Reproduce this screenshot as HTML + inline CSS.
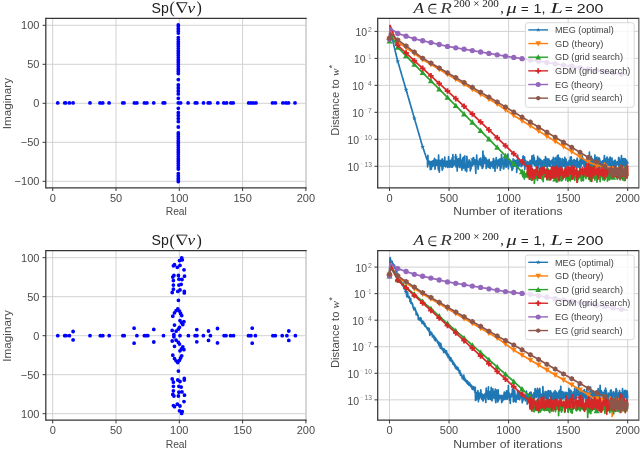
<!DOCTYPE html><html><head><meta charset="utf-8"><style>html,body{margin:0;padding:0;background:#fff;overflow:hidden;width:640px;height:449px}svg{display:block;will-change:transform}</style></head><body>
<svg width="640" height="449" viewBox="0 0 640 449">
<rect width="640" height="449" fill="#fff"/>
<line x1="52.7" y1="18.3" x2="52.7" y2="187.8" stroke="#d2d2d2" stroke-width="1" />
<line x1="116" y1="18.3" x2="116" y2="187.8" stroke="#d2d2d2" stroke-width="1" />
<line x1="179.3" y1="18.3" x2="179.3" y2="187.8" stroke="#d2d2d2" stroke-width="1" />
<line x1="242.6" y1="18.3" x2="242.6" y2="187.8" stroke="#d2d2d2" stroke-width="1" />
<line x1="45.8" y1="25.3" x2="306" y2="25.3" stroke="#d2d2d2" stroke-width="1" />
<line x1="45.8" y1="64.3" x2="306" y2="64.3" stroke="#d2d2d2" stroke-width="1" />
<line x1="45.8" y1="103.3" x2="306" y2="103.3" stroke="#d2d2d2" stroke-width="1" />
<line x1="45.8" y1="142.3" x2="306" y2="142.3" stroke="#d2d2d2" stroke-width="1" />
<line x1="45.8" y1="181.3" x2="306" y2="181.3" stroke="#d2d2d2" stroke-width="1" />
<path d="M55.85,102.9a1.9,1.9 0 1,0 3.8,0a1.9,1.9 0 1,0 -3.8,0M62.85,102.9a1.9,1.9 0 1,0 3.8,0a1.9,1.9 0 1,0 -3.8,0M63.7,102.9a1.9,1.9 0 1,0 3.8,0a1.9,1.9 0 1,0 -3.8,0M67.5,102.9a1.9,1.9 0 1,0 3.8,0a1.9,1.9 0 1,0 -3.8,0M71.2,102.9a1.9,1.9 0 1,0 3.8,0a1.9,1.9 0 1,0 -3.8,0M88.1,102.9a1.9,1.9 0 1,0 3.8,0a1.9,1.9 0 1,0 -3.8,0M98.1,102.9a1.9,1.9 0 1,0 3.8,0a1.9,1.9 0 1,0 -3.8,0M100.85,102.9a1.9,1.9 0 1,0 3.8,0a1.9,1.9 0 1,0 -3.8,0M107.2,102.9a1.9,1.9 0 1,0 3.8,0a1.9,1.9 0 1,0 -3.8,0M120.9,102.9a1.9,1.9 0 1,0 3.8,0a1.9,1.9 0 1,0 -3.8,0M122.1,102.9a1.9,1.9 0 1,0 3.8,0a1.9,1.9 0 1,0 -3.8,0M132.5,102.9a1.9,1.9 0 1,0 3.8,0a1.9,1.9 0 1,0 -3.8,0M135,102.9a1.9,1.9 0 1,0 3.8,0a1.9,1.9 0 1,0 -3.8,0M142.5,102.9a1.9,1.9 0 1,0 3.8,0a1.9,1.9 0 1,0 -3.8,0M145,102.9a1.9,1.9 0 1,0 3.8,0a1.9,1.9 0 1,0 -3.8,0M151.85,102.9a1.9,1.9 0 1,0 3.8,0a1.9,1.9 0 1,0 -3.8,0M161.2,102.9a1.9,1.9 0 1,0 3.8,0a1.9,1.9 0 1,0 -3.8,0M162.85,102.9a1.9,1.9 0 1,0 3.8,0a1.9,1.9 0 1,0 -3.8,0M176.4,102.9a1.9,1.9 0 1,0 3.8,0a1.9,1.9 0 1,0 -3.8,0M178.7,102.9a1.9,1.9 0 1,0 3.8,0a1.9,1.9 0 1,0 -3.8,0M186.2,102.9a1.9,1.9 0 1,0 3.8,0a1.9,1.9 0 1,0 -3.8,0M193.35,102.9a1.9,1.9 0 1,0 3.8,0a1.9,1.9 0 1,0 -3.8,0M195,102.9a1.9,1.9 0 1,0 3.8,0a1.9,1.9 0 1,0 -3.8,0M201.6,102.9a1.9,1.9 0 1,0 3.8,0a1.9,1.9 0 1,0 -3.8,0M206.3,102.9a1.9,1.9 0 1,0 3.8,0a1.9,1.9 0 1,0 -3.8,0M208.1,102.9a1.9,1.9 0 1,0 3.8,0a1.9,1.9 0 1,0 -3.8,0M215.9,102.9a1.9,1.9 0 1,0 3.8,0a1.9,1.9 0 1,0 -3.8,0M221.9,102.9a1.9,1.9 0 1,0 3.8,0a1.9,1.9 0 1,0 -3.8,0M224.7,102.9a1.9,1.9 0 1,0 3.8,0a1.9,1.9 0 1,0 -3.8,0M229,102.9a1.9,1.9 0 1,0 3.8,0a1.9,1.9 0 1,0 -3.8,0M231.3,102.9a1.9,1.9 0 1,0 3.8,0a1.9,1.9 0 1,0 -3.8,0M246.8,102.9a1.9,1.9 0 1,0 3.8,0a1.9,1.9 0 1,0 -3.8,0M249.1,102.9a1.9,1.9 0 1,0 3.8,0a1.9,1.9 0 1,0 -3.8,0M251.3,102.9a1.9,1.9 0 1,0 3.8,0a1.9,1.9 0 1,0 -3.8,0M254.1,102.9a1.9,1.9 0 1,0 3.8,0a1.9,1.9 0 1,0 -3.8,0M270.6,102.9a1.9,1.9 0 1,0 3.8,0a1.9,1.9 0 1,0 -3.8,0M273.5,102.9a1.9,1.9 0 1,0 3.8,0a1.9,1.9 0 1,0 -3.8,0M281,102.9a1.9,1.9 0 1,0 3.8,0a1.9,1.9 0 1,0 -3.8,0M284.1,102.9a1.9,1.9 0 1,0 3.8,0a1.9,1.9 0 1,0 -3.8,0M286.6,102.9a1.9,1.9 0 1,0 3.8,0a1.9,1.9 0 1,0 -3.8,0M293.1,102.9a1.9,1.9 0 1,0 3.8,0a1.9,1.9 0 1,0 -3.8,0M176.4,25a1.9,1.9 0 1,0 3.8,0a1.9,1.9 0 1,0 -3.8,0M176.4,26.6a1.9,1.9 0 1,0 3.8,0a1.9,1.9 0 1,0 -3.8,0M176.4,28.2a1.9,1.9 0 1,0 3.8,0a1.9,1.9 0 1,0 -3.8,0M176.4,29.8a1.9,1.9 0 1,0 3.8,0a1.9,1.9 0 1,0 -3.8,0M176.4,31.4a1.9,1.9 0 1,0 3.8,0a1.9,1.9 0 1,0 -3.8,0M176.4,33a1.9,1.9 0 1,0 3.8,0a1.9,1.9 0 1,0 -3.8,0M176.4,37.6a1.9,1.9 0 1,0 3.8,0a1.9,1.9 0 1,0 -3.8,0M176.4,39.4a1.9,1.9 0 1,0 3.8,0a1.9,1.9 0 1,0 -3.8,0M176.4,41.2a1.9,1.9 0 1,0 3.8,0a1.9,1.9 0 1,0 -3.8,0M176.4,43a1.9,1.9 0 1,0 3.8,0a1.9,1.9 0 1,0 -3.8,0M176.4,44.8a1.9,1.9 0 1,0 3.8,0a1.9,1.9 0 1,0 -3.8,0M176.4,46.6a1.9,1.9 0 1,0 3.8,0a1.9,1.9 0 1,0 -3.8,0M176.4,48.4a1.9,1.9 0 1,0 3.8,0a1.9,1.9 0 1,0 -3.8,0M176.4,50.2a1.9,1.9 0 1,0 3.8,0a1.9,1.9 0 1,0 -3.8,0M176.4,52a1.9,1.9 0 1,0 3.8,0a1.9,1.9 0 1,0 -3.8,0M176.4,53.8a1.9,1.9 0 1,0 3.8,0a1.9,1.9 0 1,0 -3.8,0M176.4,55.6a1.9,1.9 0 1,0 3.8,0a1.9,1.9 0 1,0 -3.8,0M176.4,57.4a1.9,1.9 0 1,0 3.8,0a1.9,1.9 0 1,0 -3.8,0M176.4,59.2a1.9,1.9 0 1,0 3.8,0a1.9,1.9 0 1,0 -3.8,0M176.4,61a1.9,1.9 0 1,0 3.8,0a1.9,1.9 0 1,0 -3.8,0M176.4,62.8a1.9,1.9 0 1,0 3.8,0a1.9,1.9 0 1,0 -3.8,0M176.4,64.6a1.9,1.9 0 1,0 3.8,0a1.9,1.9 0 1,0 -3.8,0M176.4,66.4a1.9,1.9 0 1,0 3.8,0a1.9,1.9 0 1,0 -3.8,0M176.4,68.2a1.9,1.9 0 1,0 3.8,0a1.9,1.9 0 1,0 -3.8,0M176.4,70a1.9,1.9 0 1,0 3.8,0a1.9,1.9 0 1,0 -3.8,0M176.4,71.8a1.9,1.9 0 1,0 3.8,0a1.9,1.9 0 1,0 -3.8,0M176.4,73.6a1.9,1.9 0 1,0 3.8,0a1.9,1.9 0 1,0 -3.8,0M176.4,79.6a1.9,1.9 0 1,0 3.8,0a1.9,1.9 0 1,0 -3.8,0M176.4,85a1.9,1.9 0 1,0 3.8,0a1.9,1.9 0 1,0 -3.8,0M176.4,88a1.9,1.9 0 1,0 3.8,0a1.9,1.9 0 1,0 -3.8,0M176.4,91a1.9,1.9 0 1,0 3.8,0a1.9,1.9 0 1,0 -3.8,0M176.4,93.9a1.9,1.9 0 1,0 3.8,0a1.9,1.9 0 1,0 -3.8,0M176.4,98.3a1.9,1.9 0 1,0 3.8,0a1.9,1.9 0 1,0 -3.8,0M176.4,181.6a1.9,1.9 0 1,0 3.8,0a1.9,1.9 0 1,0 -3.8,0M176.4,180a1.9,1.9 0 1,0 3.8,0a1.9,1.9 0 1,0 -3.8,0M176.4,178.4a1.9,1.9 0 1,0 3.8,0a1.9,1.9 0 1,0 -3.8,0M176.4,176.8a1.9,1.9 0 1,0 3.8,0a1.9,1.9 0 1,0 -3.8,0M176.4,175.2a1.9,1.9 0 1,0 3.8,0a1.9,1.9 0 1,0 -3.8,0M176.4,173.6a1.9,1.9 0 1,0 3.8,0a1.9,1.9 0 1,0 -3.8,0M176.4,169a1.9,1.9 0 1,0 3.8,0a1.9,1.9 0 1,0 -3.8,0M176.4,167.2a1.9,1.9 0 1,0 3.8,0a1.9,1.9 0 1,0 -3.8,0M176.4,165.4a1.9,1.9 0 1,0 3.8,0a1.9,1.9 0 1,0 -3.8,0M176.4,163.6a1.9,1.9 0 1,0 3.8,0a1.9,1.9 0 1,0 -3.8,0M176.4,161.8a1.9,1.9 0 1,0 3.8,0a1.9,1.9 0 1,0 -3.8,0M176.4,160a1.9,1.9 0 1,0 3.8,0a1.9,1.9 0 1,0 -3.8,0M176.4,158.2a1.9,1.9 0 1,0 3.8,0a1.9,1.9 0 1,0 -3.8,0M176.4,156.4a1.9,1.9 0 1,0 3.8,0a1.9,1.9 0 1,0 -3.8,0M176.4,154.6a1.9,1.9 0 1,0 3.8,0a1.9,1.9 0 1,0 -3.8,0M176.4,152.8a1.9,1.9 0 1,0 3.8,0a1.9,1.9 0 1,0 -3.8,0M176.4,151a1.9,1.9 0 1,0 3.8,0a1.9,1.9 0 1,0 -3.8,0M176.4,149.2a1.9,1.9 0 1,0 3.8,0a1.9,1.9 0 1,0 -3.8,0M176.4,147.4a1.9,1.9 0 1,0 3.8,0a1.9,1.9 0 1,0 -3.8,0M176.4,145.6a1.9,1.9 0 1,0 3.8,0a1.9,1.9 0 1,0 -3.8,0M176.4,143.8a1.9,1.9 0 1,0 3.8,0a1.9,1.9 0 1,0 -3.8,0M176.4,142a1.9,1.9 0 1,0 3.8,0a1.9,1.9 0 1,0 -3.8,0M176.4,140.2a1.9,1.9 0 1,0 3.8,0a1.9,1.9 0 1,0 -3.8,0M176.4,138.4a1.9,1.9 0 1,0 3.8,0a1.9,1.9 0 1,0 -3.8,0M176.4,136.6a1.9,1.9 0 1,0 3.8,0a1.9,1.9 0 1,0 -3.8,0M176.4,134.8a1.9,1.9 0 1,0 3.8,0a1.9,1.9 0 1,0 -3.8,0M176.4,133a1.9,1.9 0 1,0 3.8,0a1.9,1.9 0 1,0 -3.8,0M176.4,127a1.9,1.9 0 1,0 3.8,0a1.9,1.9 0 1,0 -3.8,0M176.4,121.6a1.9,1.9 0 1,0 3.8,0a1.9,1.9 0 1,0 -3.8,0M176.4,118.6a1.9,1.9 0 1,0 3.8,0a1.9,1.9 0 1,0 -3.8,0M176.4,115.6a1.9,1.9 0 1,0 3.8,0a1.9,1.9 0 1,0 -3.8,0M176.4,112.7a1.9,1.9 0 1,0 3.8,0a1.9,1.9 0 1,0 -3.8,0M176.4,108.3a1.9,1.9 0 1,0 3.8,0a1.9,1.9 0 1,0 -3.8,0" fill="#0000ff"/>
<line x1="306" y1="18.3" x2="306" y2="187.8" stroke="#cfcfcf" stroke-width="1.7" />
<line x1="45.8" y1="18.3" x2="306.7" y2="18.3" stroke="#363636" stroke-width="1.25" />
<line x1="45.8" y1="187.8" x2="306.7" y2="187.8" stroke="#363636" stroke-width="1.25" />
<line x1="45.8" y1="17.7" x2="45.8" y2="188.4" stroke="#363636" stroke-width="1.25" />
<line x1="52.7" y1="187.8" x2="52.7" y2="191" stroke="#363636" stroke-width="1" />
<line x1="116" y1="187.8" x2="116" y2="191" stroke="#363636" stroke-width="1" />
<line x1="179.3" y1="187.8" x2="179.3" y2="191" stroke="#363636" stroke-width="1" />
<line x1="242.6" y1="187.8" x2="242.6" y2="191" stroke="#363636" stroke-width="1" />
<line x1="305.9" y1="187.8" x2="305.9" y2="191" stroke="#363636" stroke-width="1" />
<line x1="42.6" y1="25.3" x2="45.8" y2="25.3" stroke="#363636" stroke-width="1" />
<line x1="42.6" y1="64.3" x2="45.8" y2="64.3" stroke="#363636" stroke-width="1" />
<line x1="42.6" y1="103.3" x2="45.8" y2="103.3" stroke="#363636" stroke-width="1" />
<line x1="42.6" y1="142.3" x2="45.8" y2="142.3" stroke="#363636" stroke-width="1" />
<line x1="42.6" y1="181.3" x2="45.8" y2="181.3" stroke="#363636" stroke-width="1" />
<text x="52.7" y="201.6" font-size="11" font-family="Liberation Sans" font-style="normal" text-anchor="middle" fill="#4a4a4a" >0</text>
<text x="116" y="201.6" font-size="11" font-family="Liberation Sans" font-style="normal" text-anchor="middle" fill="#4a4a4a" >50</text>
<text x="179.3" y="201.6" font-size="11" font-family="Liberation Sans" font-style="normal" text-anchor="middle" fill="#4a4a4a" >100</text>
<text x="242.6" y="201.6" font-size="11" font-family="Liberation Sans" font-style="normal" text-anchor="middle" fill="#4a4a4a" >150</text>
<text x="305.9" y="201.6" font-size="11" font-family="Liberation Sans" font-style="normal" text-anchor="middle" fill="#4a4a4a" >200</text>
<text x="39.4" y="29.3" font-size="11" font-family="Liberation Sans" font-style="normal" text-anchor="end" fill="#4a4a4a" >100</text>
<text x="39.4" y="68.3" font-size="11" font-family="Liberation Sans" font-style="normal" text-anchor="end" fill="#4a4a4a" >50</text>
<text x="39.4" y="107.3" font-size="11" font-family="Liberation Sans" font-style="normal" text-anchor="end" fill="#4a4a4a" >0</text>
<text x="39.4" y="146.3" font-size="11" font-family="Liberation Sans" font-style="normal" text-anchor="end" fill="#4a4a4a" >−50</text>
<text x="39.4" y="185.3" font-size="11" font-family="Liberation Sans" font-style="normal" text-anchor="end" fill="#4a4a4a" >−100</text>
<text x="176.3" y="215.2" font-size="11" font-family="Liberation Sans" font-style="normal" text-anchor="middle" fill="#4a4a4a" textLength="21.2" lengthAdjust="spacingAndGlyphs" >Real</text>
<text transform="translate(11.2,103.6) rotate(-90)" font-size="11.3" font-family="Liberation Sans" text-anchor="middle" fill="#4a4a4a" textLength="51.5" lengthAdjust="spacingAndGlyphs">Imaginary</text>
<text x="151.5" y="12.7" font-size="14.6" font-family="Liberation Sans" font-style="normal" text-anchor="start" fill="#202020" textLength="17.3" lengthAdjust="spacingAndGlyphs" >Sp</text>
<text x="169.6" y="13.4" font-size="16" font-family="Liberation Serif" font-style="normal" text-anchor="start" fill="#202020" >(</text>
<path d="M176.6,2.7 L187.3,2.7" stroke="#202020" stroke-width="0.9"/>
<path d="M187.0,2.7 L182.1,12.5" stroke="#202020" stroke-width="0.8"/>
<path d="M176.8,2.7 L182.3,12.5" stroke="#202020" stroke-width="1.6"/>
<text x="187.6" y="12.7" font-size="15" font-family="Liberation Serif" font-style="italic" text-anchor="start" fill="#202020" textLength="7.6" lengthAdjust="spacingAndGlyphs" >v</text>
<text x="196.6" y="13.4" font-size="16" font-family="Liberation Serif" font-style="normal" text-anchor="start" fill="#202020" >)</text>
<line x1="52.7" y1="250.7" x2="52.7" y2="420.2" stroke="#d2d2d2" stroke-width="1" />
<line x1="116" y1="250.7" x2="116" y2="420.2" stroke="#d2d2d2" stroke-width="1" />
<line x1="179.3" y1="250.7" x2="179.3" y2="420.2" stroke="#d2d2d2" stroke-width="1" />
<line x1="242.6" y1="250.7" x2="242.6" y2="420.2" stroke="#d2d2d2" stroke-width="1" />
<line x1="45.8" y1="257.7" x2="306" y2="257.7" stroke="#d2d2d2" stroke-width="1" />
<line x1="45.8" y1="296.7" x2="306" y2="296.7" stroke="#d2d2d2" stroke-width="1" />
<line x1="45.8" y1="335.7" x2="306" y2="335.7" stroke="#d2d2d2" stroke-width="1" />
<line x1="45.8" y1="374.7" x2="306" y2="374.7" stroke="#d2d2d2" stroke-width="1" />
<line x1="45.8" y1="413.7" x2="306" y2="413.7" stroke="#d2d2d2" stroke-width="1" />
<path d="M55.9,335.7a1.9,1.9 0 1,0 3.8,0a1.9,1.9 0 1,0 -3.8,0M62.8,335.7a1.9,1.9 0 1,0 3.8,0a1.9,1.9 0 1,0 -3.8,0M64.1,335.7a1.9,1.9 0 1,0 3.8,0a1.9,1.9 0 1,0 -3.8,0M67.5,335.7a1.9,1.9 0 1,0 3.8,0a1.9,1.9 0 1,0 -3.8,0M88.1,335.7a1.9,1.9 0 1,0 3.8,0a1.9,1.9 0 1,0 -3.8,0M98.4,335.7a1.9,1.9 0 1,0 3.8,0a1.9,1.9 0 1,0 -3.8,0M100.9,335.7a1.9,1.9 0 1,0 3.8,0a1.9,1.9 0 1,0 -3.8,0M107.3,335.7a1.9,1.9 0 1,0 3.8,0a1.9,1.9 0 1,0 -3.8,0M121,335.7a1.9,1.9 0 1,0 3.8,0a1.9,1.9 0 1,0 -3.8,0M122.3,335.7a1.9,1.9 0 1,0 3.8,0a1.9,1.9 0 1,0 -3.8,0M135,335.7a1.9,1.9 0 1,0 3.8,0a1.9,1.9 0 1,0 -3.8,0M142.5,335.7a1.9,1.9 0 1,0 3.8,0a1.9,1.9 0 1,0 -3.8,0M144.4,335.7a1.9,1.9 0 1,0 3.8,0a1.9,1.9 0 1,0 -3.8,0M145.9,335.7a1.9,1.9 0 1,0 3.8,0a1.9,1.9 0 1,0 -3.8,0M161.6,335.7a1.9,1.9 0 1,0 3.8,0a1.9,1.9 0 1,0 -3.8,0M172,335.7a1.9,1.9 0 1,0 3.8,0a1.9,1.9 0 1,0 -3.8,0M178.1,335.7a1.9,1.9 0 1,0 3.8,0a1.9,1.9 0 1,0 -3.8,0M186.5,335.7a1.9,1.9 0 1,0 3.8,0a1.9,1.9 0 1,0 -3.8,0M193.2,335.7a1.9,1.9 0 1,0 3.8,0a1.9,1.9 0 1,0 -3.8,0M195,335.7a1.9,1.9 0 1,0 3.8,0a1.9,1.9 0 1,0 -3.8,0M201.5,335.7a1.9,1.9 0 1,0 3.8,0a1.9,1.9 0 1,0 -3.8,0M208.5,335.7a1.9,1.9 0 1,0 3.8,0a1.9,1.9 0 1,0 -3.8,0M222.2,335.7a1.9,1.9 0 1,0 3.8,0a1.9,1.9 0 1,0 -3.8,0M224.1,335.7a1.9,1.9 0 1,0 3.8,0a1.9,1.9 0 1,0 -3.8,0M228.7,335.7a1.9,1.9 0 1,0 3.8,0a1.9,1.9 0 1,0 -3.8,0M231.6,335.7a1.9,1.9 0 1,0 3.8,0a1.9,1.9 0 1,0 -3.8,0M246.6,335.7a1.9,1.9 0 1,0 3.8,0a1.9,1.9 0 1,0 -3.8,0M249,335.7a1.9,1.9 0 1,0 3.8,0a1.9,1.9 0 1,0 -3.8,0M253.5,335.7a1.9,1.9 0 1,0 3.8,0a1.9,1.9 0 1,0 -3.8,0M271,335.7a1.9,1.9 0 1,0 3.8,0a1.9,1.9 0 1,0 -3.8,0M273.4,335.7a1.9,1.9 0 1,0 3.8,0a1.9,1.9 0 1,0 -3.8,0M280.3,335.7a1.9,1.9 0 1,0 3.8,0a1.9,1.9 0 1,0 -3.8,0M285,335.7a1.9,1.9 0 1,0 3.8,0a1.9,1.9 0 1,0 -3.8,0M293.5,335.7a1.9,1.9 0 1,0 3.8,0a1.9,1.9 0 1,0 -3.8,0M71.2,331.5a1.9,1.9 0 1,0 3.8,0a1.9,1.9 0 1,0 -3.8,0M71.2,339.9a1.9,1.9 0 1,0 3.8,0a1.9,1.9 0 1,0 -3.8,0M132.2,328.2a1.9,1.9 0 1,0 3.8,0a1.9,1.9 0 1,0 -3.8,0M132.2,343.2a1.9,1.9 0 1,0 3.8,0a1.9,1.9 0 1,0 -3.8,0M151.9,329.4a1.9,1.9 0 1,0 3.8,0a1.9,1.9 0 1,0 -3.8,0M151.9,342a1.9,1.9 0 1,0 3.8,0a1.9,1.9 0 1,0 -3.8,0M194.9,329.6a1.9,1.9 0 1,0 3.8,0a1.9,1.9 0 1,0 -3.8,0M194.9,341.8a1.9,1.9 0 1,0 3.8,0a1.9,1.9 0 1,0 -3.8,0M206.6,331a1.9,1.9 0 1,0 3.8,0a1.9,1.9 0 1,0 -3.8,0M206.6,340.4a1.9,1.9 0 1,0 3.8,0a1.9,1.9 0 1,0 -3.8,0M215.6,328.5a1.9,1.9 0 1,0 3.8,0a1.9,1.9 0 1,0 -3.8,0M215.6,342.9a1.9,1.9 0 1,0 3.8,0a1.9,1.9 0 1,0 -3.8,0M250.3,328.2a1.9,1.9 0 1,0 3.8,0a1.9,1.9 0 1,0 -3.8,0M250.3,343.2a1.9,1.9 0 1,0 3.8,0a1.9,1.9 0 1,0 -3.8,0M286.9,331a1.9,1.9 0 1,0 3.8,0a1.9,1.9 0 1,0 -3.8,0M286.9,340.4a1.9,1.9 0 1,0 3.8,0a1.9,1.9 0 1,0 -3.8,0M179.8,258a1.9,1.9 0 1,0 3.8,0a1.9,1.9 0 1,0 -3.8,0M179.8,413.4a1.9,1.9 0 1,0 3.8,0a1.9,1.9 0 1,0 -3.8,0M180.4,259.8a1.9,1.9 0 1,0 3.8,0a1.9,1.9 0 1,0 -3.8,0M180.4,411.6a1.9,1.9 0 1,0 3.8,0a1.9,1.9 0 1,0 -3.8,0M177.6,260.6a1.9,1.9 0 1,0 3.8,0a1.9,1.9 0 1,0 -3.8,0M177.6,410.8a1.9,1.9 0 1,0 3.8,0a1.9,1.9 0 1,0 -3.8,0M172.6,264.7a1.9,1.9 0 1,0 3.8,0a1.9,1.9 0 1,0 -3.8,0M172.6,406.7a1.9,1.9 0 1,0 3.8,0a1.9,1.9 0 1,0 -3.8,0M171.5,265.8a1.9,1.9 0 1,0 3.8,0a1.9,1.9 0 1,0 -3.8,0M171.5,405.6a1.9,1.9 0 1,0 3.8,0a1.9,1.9 0 1,0 -3.8,0M178.1,265.4a1.9,1.9 0 1,0 3.8,0a1.9,1.9 0 1,0 -3.8,0M178.1,406a1.9,1.9 0 1,0 3.8,0a1.9,1.9 0 1,0 -3.8,0M175.4,267.3a1.9,1.9 0 1,0 3.8,0a1.9,1.9 0 1,0 -3.8,0M175.4,404.1a1.9,1.9 0 1,0 3.8,0a1.9,1.9 0 1,0 -3.8,0M182.1,269.8a1.9,1.9 0 1,0 3.8,0a1.9,1.9 0 1,0 -3.8,0M182.1,401.6a1.9,1.9 0 1,0 3.8,0a1.9,1.9 0 1,0 -3.8,0M172,275.4a1.9,1.9 0 1,0 3.8,0a1.9,1.9 0 1,0 -3.8,0M172,396a1.9,1.9 0 1,0 3.8,0a1.9,1.9 0 1,0 -3.8,0M170.9,277a1.9,1.9 0 1,0 3.8,0a1.9,1.9 0 1,0 -3.8,0M170.9,394.4a1.9,1.9 0 1,0 3.8,0a1.9,1.9 0 1,0 -3.8,0M176.5,275.4a1.9,1.9 0 1,0 3.8,0a1.9,1.9 0 1,0 -3.8,0M176.5,396a1.9,1.9 0 1,0 3.8,0a1.9,1.9 0 1,0 -3.8,0M182.6,276.2a1.9,1.9 0 1,0 3.8,0a1.9,1.9 0 1,0 -3.8,0M182.6,395.2a1.9,1.9 0 1,0 3.8,0a1.9,1.9 0 1,0 -3.8,0M177,279.2a1.9,1.9 0 1,0 3.8,0a1.9,1.9 0 1,0 -3.8,0M177,392.2a1.9,1.9 0 1,0 3.8,0a1.9,1.9 0 1,0 -3.8,0M180.1,279.5a1.9,1.9 0 1,0 3.8,0a1.9,1.9 0 1,0 -3.8,0M180.1,391.9a1.9,1.9 0 1,0 3.8,0a1.9,1.9 0 1,0 -3.8,0M171.5,280.6a1.9,1.9 0 1,0 3.8,0a1.9,1.9 0 1,0 -3.8,0M171.5,390.8a1.9,1.9 0 1,0 3.8,0a1.9,1.9 0 1,0 -3.8,0M171.5,285.1a1.9,1.9 0 1,0 3.8,0a1.9,1.9 0 1,0 -3.8,0M171.5,386.3a1.9,1.9 0 1,0 3.8,0a1.9,1.9 0 1,0 -3.8,0M177,285.1a1.9,1.9 0 1,0 3.8,0a1.9,1.9 0 1,0 -3.8,0M177,386.3a1.9,1.9 0 1,0 3.8,0a1.9,1.9 0 1,0 -3.8,0M179.3,284.3a1.9,1.9 0 1,0 3.8,0a1.9,1.9 0 1,0 -3.8,0M179.3,387.1a1.9,1.9 0 1,0 3.8,0a1.9,1.9 0 1,0 -3.8,0M171.5,289.2a1.9,1.9 0 1,0 3.8,0a1.9,1.9 0 1,0 -3.8,0M171.5,382.2a1.9,1.9 0 1,0 3.8,0a1.9,1.9 0 1,0 -3.8,0M170.3,292.5a1.9,1.9 0 1,0 3.8,0a1.9,1.9 0 1,0 -3.8,0M170.3,378.9a1.9,1.9 0 1,0 3.8,0a1.9,1.9 0 1,0 -3.8,0M175.9,291.4a1.9,1.9 0 1,0 3.8,0a1.9,1.9 0 1,0 -3.8,0M175.9,380a1.9,1.9 0 1,0 3.8,0a1.9,1.9 0 1,0 -3.8,0M178.1,289.9a1.9,1.9 0 1,0 3.8,0a1.9,1.9 0 1,0 -3.8,0M178.1,381.5a1.9,1.9 0 1,0 3.8,0a1.9,1.9 0 1,0 -3.8,0M182.4,291.4a1.9,1.9 0 1,0 3.8,0a1.9,1.9 0 1,0 -3.8,0M182.4,380a1.9,1.9 0 1,0 3.8,0a1.9,1.9 0 1,0 -3.8,0M182.4,292.9a1.9,1.9 0 1,0 3.8,0a1.9,1.9 0 1,0 -3.8,0M182.4,378.5a1.9,1.9 0 1,0 3.8,0a1.9,1.9 0 1,0 -3.8,0M176.5,300.3a1.9,1.9 0 1,0 3.8,0a1.9,1.9 0 1,0 -3.8,0M176.5,371.1a1.9,1.9 0 1,0 3.8,0a1.9,1.9 0 1,0 -3.8,0M175.9,308.9a1.9,1.9 0 1,0 3.8,0a1.9,1.9 0 1,0 -3.8,0M175.9,362.5a1.9,1.9 0 1,0 3.8,0a1.9,1.9 0 1,0 -3.8,0M174.2,310.6a1.9,1.9 0 1,0 3.8,0a1.9,1.9 0 1,0 -3.8,0M174.2,360.8a1.9,1.9 0 1,0 3.8,0a1.9,1.9 0 1,0 -3.8,0M177.6,311.1a1.9,1.9 0 1,0 3.8,0a1.9,1.9 0 1,0 -3.8,0M177.6,360.3a1.9,1.9 0 1,0 3.8,0a1.9,1.9 0 1,0 -3.8,0M172.6,312.8a1.9,1.9 0 1,0 3.8,0a1.9,1.9 0 1,0 -3.8,0M172.6,358.6a1.9,1.9 0 1,0 3.8,0a1.9,1.9 0 1,0 -3.8,0M178.7,313.4a1.9,1.9 0 1,0 3.8,0a1.9,1.9 0 1,0 -3.8,0M178.7,358a1.9,1.9 0 1,0 3.8,0a1.9,1.9 0 1,0 -3.8,0M179.8,315.6a1.9,1.9 0 1,0 3.8,0a1.9,1.9 0 1,0 -3.8,0M179.8,355.8a1.9,1.9 0 1,0 3.8,0a1.9,1.9 0 1,0 -3.8,0M170.9,316.2a1.9,1.9 0 1,0 3.8,0a1.9,1.9 0 1,0 -3.8,0M170.9,355.2a1.9,1.9 0 1,0 3.8,0a1.9,1.9 0 1,0 -3.8,0M178.1,320.6a1.9,1.9 0 1,0 3.8,0a1.9,1.9 0 1,0 -3.8,0M178.1,350.8a1.9,1.9 0 1,0 3.8,0a1.9,1.9 0 1,0 -3.8,0M182,321.7a1.9,1.9 0 1,0 3.8,0a1.9,1.9 0 1,0 -3.8,0M182,349.7a1.9,1.9 0 1,0 3.8,0a1.9,1.9 0 1,0 -3.8,0M179.8,322.8a1.9,1.9 0 1,0 3.8,0a1.9,1.9 0 1,0 -3.8,0M179.8,348.6a1.9,1.9 0 1,0 3.8,0a1.9,1.9 0 1,0 -3.8,0M180.9,324.5a1.9,1.9 0 1,0 3.8,0a1.9,1.9 0 1,0 -3.8,0M180.9,346.9a1.9,1.9 0 1,0 3.8,0a1.9,1.9 0 1,0 -3.8,0M172.6,325.1a1.9,1.9 0 1,0 3.8,0a1.9,1.9 0 1,0 -3.8,0M172.6,346.3a1.9,1.9 0 1,0 3.8,0a1.9,1.9 0 1,0 -3.8,0M177.6,327.3a1.9,1.9 0 1,0 3.8,0a1.9,1.9 0 1,0 -3.8,0M177.6,344.1a1.9,1.9 0 1,0 3.8,0a1.9,1.9 0 1,0 -3.8,0M176.5,329a1.9,1.9 0 1,0 3.8,0a1.9,1.9 0 1,0 -3.8,0M176.5,342.4a1.9,1.9 0 1,0 3.8,0a1.9,1.9 0 1,0 -3.8,0M170.3,330.4a1.9,1.9 0 1,0 3.8,0a1.9,1.9 0 1,0 -3.8,0M170.3,341a1.9,1.9 0 1,0 3.8,0a1.9,1.9 0 1,0 -3.8,0M174.2,331.2a1.9,1.9 0 1,0 3.8,0a1.9,1.9 0 1,0 -3.8,0M174.2,340.2a1.9,1.9 0 1,0 3.8,0a1.9,1.9 0 1,0 -3.8,0M172,334.6a1.9,1.9 0 1,0 3.8,0a1.9,1.9 0 1,0 -3.8,0M172,336.8a1.9,1.9 0 1,0 3.8,0a1.9,1.9 0 1,0 -3.8,0" fill="#0000ff"/>
<line x1="306" y1="250.7" x2="306" y2="420.2" stroke="#cfcfcf" stroke-width="1.7" />
<line x1="45.8" y1="250.7" x2="306.7" y2="250.7" stroke="#363636" stroke-width="1.25" />
<line x1="45.8" y1="420.2" x2="306.7" y2="420.2" stroke="#363636" stroke-width="1.25" />
<line x1="45.8" y1="250.1" x2="45.8" y2="420.8" stroke="#363636" stroke-width="1.25" />
<line x1="52.7" y1="420.2" x2="52.7" y2="423.4" stroke="#363636" stroke-width="1" />
<line x1="116" y1="420.2" x2="116" y2="423.4" stroke="#363636" stroke-width="1" />
<line x1="179.3" y1="420.2" x2="179.3" y2="423.4" stroke="#363636" stroke-width="1" />
<line x1="242.6" y1="420.2" x2="242.6" y2="423.4" stroke="#363636" stroke-width="1" />
<line x1="305.9" y1="420.2" x2="305.9" y2="423.4" stroke="#363636" stroke-width="1" />
<line x1="42.6" y1="257.7" x2="45.8" y2="257.7" stroke="#363636" stroke-width="1" />
<line x1="42.6" y1="296.7" x2="45.8" y2="296.7" stroke="#363636" stroke-width="1" />
<line x1="42.6" y1="335.7" x2="45.8" y2="335.7" stroke="#363636" stroke-width="1" />
<line x1="42.6" y1="374.7" x2="45.8" y2="374.7" stroke="#363636" stroke-width="1" />
<line x1="42.6" y1="413.7" x2="45.8" y2="413.7" stroke="#363636" stroke-width="1" />
<text x="52.7" y="434" font-size="11" font-family="Liberation Sans" font-style="normal" text-anchor="middle" fill="#4a4a4a" >0</text>
<text x="116" y="434" font-size="11" font-family="Liberation Sans" font-style="normal" text-anchor="middle" fill="#4a4a4a" >50</text>
<text x="179.3" y="434" font-size="11" font-family="Liberation Sans" font-style="normal" text-anchor="middle" fill="#4a4a4a" >100</text>
<text x="242.6" y="434" font-size="11" font-family="Liberation Sans" font-style="normal" text-anchor="middle" fill="#4a4a4a" >150</text>
<text x="305.9" y="434" font-size="11" font-family="Liberation Sans" font-style="normal" text-anchor="middle" fill="#4a4a4a" >200</text>
<text x="39.4" y="261.7" font-size="11" font-family="Liberation Sans" font-style="normal" text-anchor="end" fill="#4a4a4a" >100</text>
<text x="39.4" y="300.7" font-size="11" font-family="Liberation Sans" font-style="normal" text-anchor="end" fill="#4a4a4a" >50</text>
<text x="39.4" y="339.7" font-size="11" font-family="Liberation Sans" font-style="normal" text-anchor="end" fill="#4a4a4a" >0</text>
<text x="39.4" y="378.7" font-size="11" font-family="Liberation Sans" font-style="normal" text-anchor="end" fill="#4a4a4a" >−50</text>
<text x="39.4" y="417.7" font-size="11" font-family="Liberation Sans" font-style="normal" text-anchor="end" fill="#4a4a4a" >100</text>
<text x="176.3" y="447.6" font-size="11" font-family="Liberation Sans" font-style="normal" text-anchor="middle" fill="#4a4a4a" textLength="21.2" lengthAdjust="spacingAndGlyphs" >Real</text>
<text transform="translate(11.2,336) rotate(-90)" font-size="11.3" font-family="Liberation Sans" text-anchor="middle" fill="#4a4a4a" textLength="51.5" lengthAdjust="spacingAndGlyphs">Imaginary</text>
<text x="151.5" y="245.1" font-size="14.6" font-family="Liberation Sans" font-style="normal" text-anchor="start" fill="#202020" textLength="17.3" lengthAdjust="spacingAndGlyphs" >Sp</text>
<text x="169.6" y="245.8" font-size="16" font-family="Liberation Serif" font-style="normal" text-anchor="start" fill="#202020" >(</text>
<path d="M176.6,235.1 L187.3,235.1" stroke="#202020" stroke-width="0.9"/>
<path d="M187.0,235.1 L182.1,244.9" stroke="#202020" stroke-width="0.8"/>
<path d="M176.8,235.1 L182.3,244.9" stroke="#202020" stroke-width="1.6"/>
<text x="187.6" y="245.1" font-size="15" font-family="Liberation Serif" font-style="italic" text-anchor="start" fill="#202020" textLength="7.6" lengthAdjust="spacingAndGlyphs" >v</text>
<text x="196.6" y="245.8" font-size="16" font-family="Liberation Serif" font-style="normal" text-anchor="start" fill="#202020" >)</text>
<line x1="389.5" y1="18.3" x2="389.5" y2="187.8" stroke="#d2d2d2" stroke-width="1" />
<line x1="449.05" y1="18.3" x2="449.05" y2="187.8" stroke="#d2d2d2" stroke-width="1" />
<line x1="508.6" y1="18.3" x2="508.6" y2="187.8" stroke="#d2d2d2" stroke-width="1" />
<line x1="568.15" y1="18.3" x2="568.15" y2="187.8" stroke="#d2d2d2" stroke-width="1" />
<line x1="627.7" y1="18.3" x2="627.7" y2="187.8" stroke="#d2d2d2" stroke-width="1" />
<line x1="377.7" y1="31.4" x2="638.8" y2="31.4" stroke="#d2d2d2" stroke-width="1" />
<line x1="377.7" y1="58.37" x2="638.8" y2="58.37" stroke="#d2d2d2" stroke-width="1" />
<line x1="377.7" y1="85.34" x2="638.8" y2="85.34" stroke="#d2d2d2" stroke-width="1" />
<line x1="377.7" y1="112.31" x2="638.8" y2="112.31" stroke="#d2d2d2" stroke-width="1" />
<line x1="377.7" y1="139.28" x2="638.8" y2="139.28" stroke="#d2d2d2" stroke-width="1" />
<line x1="377.7" y1="166.25" x2="638.8" y2="166.25" stroke="#d2d2d2" stroke-width="1" />
<clipPath id="c0"><rect x="377.7" y="18.3" width="261.1" height="169.5"/></clipPath>
<g clip-path="url(#c0)">
<polyline points="389.5,39.0 390.0,29.0 390.2,30.0 390.5,31.0 390.7,32.0 391.0,33.0 391.2,34.0 391.4,35.0 391.7,36.0 391.9,37.0 392.1,38.0 392.4,39.0 392.6,40.0 392.9,41.0 393.1,42.0 393.3,43.0 393.6,44.0 393.8,45.0 394.0,46.0 394.3,47.0 394.5,48.0 394.8,49.0 395.0,50.0 395.2,51.0 395.5,52.0 395.7,53.0 396.0,54.0 396.2,55.0 396.4,56.0 396.7,57.0 396.9,58.1 397.1,59.1 397.4,60.0 397.6,60.8 397.9,61.6 398.1,62.4 398.3,63.2 398.6,64.1 398.8,64.9 399.1,65.7 399.3,66.5 399.5,67.3 399.8,68.1 400.0,68.9 400.2,69.8 400.5,70.6 400.7,71.4 401.0,72.2 401.2,73.0 401.4,73.8 401.7,74.6 401.9,75.5 402.1,76.3 402.4,77.1 402.6,77.9 402.9,78.7 403.1,79.5 403.3,80.4 403.6,81.2 403.8,82.0 404.1,82.8 404.3,83.6 404.5,84.4 404.8,85.2 405.0,86.1 405.2,86.9 405.5,87.7 405.7,88.5 406.0,89.3 406.2,90.1 406.4,90.9 406.7,91.8 406.9,92.6 407.2,93.4 407.4,94.2 407.6,95.0 407.9,95.8 408.1,96.6 408.3,97.5 408.6,98.3 408.8,99.1 409.1,99.9 409.3,100.7 409.5,101.6 409.8,102.4 410.0,103.2 410.2,104.0 410.5,104.8 410.7,105.7 411.0,106.5 411.2,107.3 411.4,108.1 411.7,109.0 411.9,109.8 412.2,110.6 412.4,111.4 412.6,112.2 412.9,113.1 413.1,113.9 413.3,114.7 413.6,115.5 413.8,116.4 414.1,117.2 414.3,118.0 414.5,118.8 414.8,119.6 415.0,120.5 415.2,121.3 415.5,122.1 415.7,122.9 416.0,123.8 416.2,124.6 416.4,125.4 416.7,126.2 416.9,127.0 417.2,127.9 417.4,128.7 417.6,129.5 417.9,130.3 418.1,131.1 418.3,132.0 418.6,132.8 418.8,133.6 419.1,134.4 419.3,135.3 419.5,136.1 419.8,136.9 420.0,137.7 420.3,138.5 420.5,139.4 420.7,140.2 421.0,141.0 421.2,141.8 421.4,142.7 421.7,143.5 421.9,144.3 422.2,145.1 422.4,145.9 422.6,146.7 422.9,147.4 423.1,148.1 423.3,148.8 423.6,149.5 423.8,150.2 424.1,150.9 424.3,151.6 424.5,152.3 424.8,153.0 425.0,153.7 425.3,154.4 425.5,155.1 425.7,155.8 426.0,156.5 426.2,157.2 426.4,157.9 426.7,158.6 426.9,159.3 427.2,159.0 427.4,159.1 427.6,167.0 427.9,155.3 428.1,164.9 428.4,163.6 428.6,161.8 428.8,164.1 429.1,161.2 429.3,164.2 429.5,163.1 429.8,161.7 430.0,164.2 430.3,169.7 430.5,164.5 430.7,165.6 431.0,161.5 431.2,161.5 431.4,169.2 431.7,162.3 431.9,165.6 432.2,166.8 432.4,161.2 432.6,165.3 432.9,160.9 433.1,163.4 433.4,166.0 433.6,162.0 433.8,160.1 434.1,164.6 434.3,161.8 434.5,158.4 434.8,163.2 435.0,169.3 435.3,165.0 435.5,161.4 435.7,163.6 436.0,159.8 436.2,165.3 436.4,162.7 436.7,164.6 436.9,165.2 437.2,161.9 437.4,160.3 437.6,162.5 437.9,160.1 438.1,167.0 438.4,169.8 438.6,155.1 438.8,164.0 439.1,165.6 439.3,172.2 439.5,165.8 439.8,160.9 440.0,166.3 440.3,164.3 440.5,161.5 440.7,161.6 441.0,161.9 441.2,160.2 441.5,164.4 441.7,162.0 441.9,166.4 442.2,170.2 442.4,158.9 442.6,163.2 442.9,168.6 443.1,165.3 443.4,165.8 443.6,163.6 443.8,164.4 444.1,160.7 444.3,166.0 444.5,162.2 444.8,157.2 445.0,163.9 445.3,162.0 445.5,166.9 445.7,162.5 446.0,166.1 446.2,164.8 446.5,162.0 446.7,161.0 446.9,165.3 447.2,164.0 447.4,166.1 447.6,167.5 447.9,165.4 448.1,166.8 448.4,161.4 448.6,156.5 448.8,160.8 449.1,164.5 449.3,167.3 449.6,163.1 449.8,160.9 450.0,165.0 450.3,162.7 450.5,166.8 450.7,162.2 451.0,160.0 451.2,167.0 451.5,162.3 451.7,159.8 451.9,167.2 452.2,157.6 452.4,167.2 452.6,162.0 452.9,154.7 453.1,162.3 453.4,165.4 453.6,165.5 453.8,161.1 454.1,163.4 454.3,163.6 454.6,164.7 454.8,161.2 455.0,160.2 455.3,160.1 455.5,162.3 455.7,154.6 456.0,167.0 456.2,162.1 456.5,159.8 456.7,158.4 456.9,159.9 457.2,171.1 457.4,164.0 457.6,163.5 457.9,163.6 458.1,163.0 458.4,164.0 458.6,158.7 458.8,163.5 459.1,166.8 459.3,163.9 459.6,162.1 459.8,166.9 460.0,167.6 460.3,154.4 460.5,160.0 460.7,162.4 461.0,159.9 461.2,163.7 461.5,165.5 461.7,163.6 461.9,170.2 462.2,160.2 462.4,167.7 462.7,161.6 462.9,157.9 463.1,163.8 463.4,157.4 463.6,168.2 463.8,160.7 464.1,159.9 464.3,160.6 464.6,156.3 464.8,156.0 465.0,164.9 465.3,170.5 465.5,166.1 465.7,166.1 466.0,164.5 466.2,166.4 466.5,166.3 466.7,171.6 466.9,156.3 467.2,163.9 467.4,165.0 467.7,164.0 467.9,167.2 468.1,162.2 468.4,167.3 468.6,162.7 468.8,162.7 469.1,159.8 469.3,163.2 469.6,164.8 469.8,165.2 470.0,161.0 470.3,170.9 470.5,165.3 470.7,164.0 471.0,169.1 471.2,162.0 471.5,164.3 471.7,164.2 471.9,164.5 472.2,164.0 472.4,165.8 472.7,160.3 472.9,163.5 473.1,164.0 473.4,164.6 473.6,157.6 473.8,160.7 474.1,163.1 474.3,164.4 474.6,160.6 474.8,163.9 475.0,159.8 475.3,161.6 475.5,167.6 475.8,173.4 476.0,165.4 476.2,163.9 476.5,163.4 476.7,155.0 476.9,163.5 477.2,160.4 477.4,164.3 477.7,161.3 477.9,166.4 478.1,169.2 478.4,166.0 478.6,161.4 478.8,162.5 479.1,162.6 479.3,162.2 479.6,158.9 479.8,160.0 480.0,164.6 480.3,162.4 480.5,160.5 480.8,158.1 481.0,165.4 481.2,163.4 481.5,166.2 481.7,162.5 481.9,161.9 482.2,168.4 482.4,163.3 482.7,168.1 482.9,151.0 483.1,166.9 483.4,163.4 483.6,163.8 483.9,155.6 484.1,159.8 484.3,163.5 484.6,161.6 484.8,160.5 485.0,163.5 485.3,158.6 485.5,157.6 485.8,161.4 486.0,158.4 486.2,168.4 486.5,160.3 486.7,163.7 486.9,164.1 487.2,160.0 487.4,164.2 487.7,165.4 487.9,162.7 488.1,167.3 488.4,163.0 488.6,163.5 488.9,160.4 489.1,159.3 489.3,162.1 489.6,167.9 489.8,162.0 490.0,163.0 490.3,168.3 490.5,164.0 490.8,162.1 491.0,163.0 491.2,163.0 491.5,163.6 491.7,163.6 491.9,166.3 492.2,162.4 492.4,161.7 492.7,164.2 492.9,162.6 493.1,168.1 493.4,158.5 493.6,158.7 493.9,160.6 494.1,166.8 494.3,164.0 494.6,166.1 494.8,168.0 495.0,171.3 495.3,161.7 495.5,161.6 495.8,160.2 496.0,164.3 496.2,157.5 496.5,161.8 496.7,161.7 497.0,162.1 497.2,168.2 497.4,166.0 497.7,161.1 497.9,164.5 498.1,160.0 498.4,161.8 498.6,161.5 498.9,165.1 499.1,165.8 499.3,159.2 499.6,161.4 499.8,159.6 500.0,161.5 500.3,170.5 500.5,159.2 500.8,163.5 501.0,164.6 501.2,167.9 501.5,154.5 501.7,158.7 502.0,158.7 502.2,163.0 502.4,164.0 502.7,158.6 502.9,164.8 503.1,163.7 503.4,168.8 503.6,163.7 503.9,168.8 504.1,164.0 504.3,166.3 504.6,159.0 504.8,163.1 505.1,157.9 505.3,160.5 505.5,157.0 505.8,164.1 506.0,167.0 506.2,167.2 506.5,165.8 506.7,163.0 507.0,158.8 507.2,161.7 507.4,165.7 507.7,159.3 507.9,154.0 508.1,161.3 508.4,168.8 508.6,164.3 508.9,162.6 509.1,160.5 509.3,159.3 509.6,159.7 509.8,162.0 510.1,160.9 510.3,161.6 510.5,165.3 510.8,161.0 511.0,161.8 511.2,167.1 511.5,162.3 511.7,164.4 512.0,170.4 512.2,166.9 512.4,165.0 512.7,164.0 512.9,168.9 513.1,158.8 513.4,163.1 513.6,162.8 513.9,161.3 514.1,165.8 514.3,160.2 514.6,164.1 514.8,166.4 515.1,160.3 515.3,165.2 515.5,160.6 515.8,162.1 516.0,164.9 516.2,163.2 516.5,160.5 516.7,172.5 517.0,163.3 517.2,166.3 517.4,163.1 517.7,155.0 517.9,168.5 518.2,163.0 518.4,160.8 518.6,167.0 518.9,160.3 519.1,165.7 519.3,165.2 519.6,160.8 519.8,164.0 520.1,162.6 520.3,161.1 520.5,161.0 520.8,163.9 521.0,163.1 521.2,166.7 521.5,163.8 521.7,166.2 522.0,163.9 522.2,162.0 522.4,163.2 522.7,162.5 522.9,157.7 523.2,155.8 523.4,163.6 523.6,159.4 523.9,156.5 524.1,159.2 524.3,165.4 524.6,157.1 524.8,169.2 525.1,163.6 525.3,162.3 525.5,165.1 525.8,160.7 526.0,165.5 526.3,162.8 526.5,163.2 526.7,163.1 527.0,166.4 527.2,163.2 527.4,163.6 527.7,161.5 527.9,161.9 528.2,163.8 528.4,162.7 528.6,162.4 528.9,168.7 529.1,165.4 529.3,166.4 529.6,164.4 529.8,163.9 530.1,160.4 530.3,165.8 530.5,163.3 530.8,167.4 531.0,162.8 531.3,161.2 531.5,168.8 531.7,163.3 532.0,155.8 532.2,159.1 532.4,162.6 532.7,163.6 532.9,158.6 533.2,156.6 533.4,161.2 533.6,155.2 533.9,162.3 534.1,164.9 534.3,157.7 534.6,164.8 534.8,165.6 535.1,161.7 535.3,165.0 535.5,165.4 535.8,161.2 536.0,166.6 536.3,160.8 536.5,165.2 536.7,164.1 537.0,167.8 537.2,161.2 537.4,161.2 537.7,156.3 537.9,165.7 538.2,168.3 538.4,160.6 538.6,159.1 538.9,162.5 539.1,162.2 539.4,158.4 539.6,164.6 539.8,162.5 540.1,164.1 540.3,163.7 540.5,167.2 540.8,159.6 541.0,164.0 541.3,161.6 541.5,162.9 541.7,163.2 542.0,166.1 542.2,160.8 542.4,162.3 542.7,171.2 542.9,162.2 543.2,164.1 543.4,161.8 543.6,161.3 543.9,161.6 544.1,159.6 544.4,164.6 544.6,165.1 544.8,166.5 545.1,160.5 545.3,164.4 545.5,156.7 545.8,162.8 546.0,166.2 546.3,159.7 546.5,159.5 546.7,163.4 547.0,159.9 547.2,168.4 547.5,159.3 547.7,163.2 547.9,161.4 548.2,161.9 548.4,165.6 548.6,161.9 548.9,159.2 549.1,166.2 549.4,160.6 549.6,163.1 549.8,163.8 550.1,166.2 550.3,165.6 550.5,161.5 550.8,163.3 551.0,161.6 551.3,162.7 551.5,160.5 551.7,164.0 552.0,160.9 552.2,164.0 552.5,159.5 552.7,166.3 552.9,164.6 553.2,162.4 553.4,157.3 553.6,161.0 553.9,165.4 554.1,167.1 554.4,162.6 554.6,161.5 554.8,168.5 555.1,161.2 555.3,163.0 555.5,167.9 555.8,158.0 556.0,164.1 556.3,160.9 556.5,169.8 556.7,158.8 557.0,166.0 557.2,156.1 557.5,163.5 557.7,159.5 557.9,169.0 558.2,155.0 558.4,167.8 558.6,160.0 558.9,157.5 559.1,161.1 559.4,160.0 559.6,160.0 559.8,167.7 560.1,158.4 560.3,159.0 560.6,169.0 560.8,163.0 561.0,167.1 561.3,164.1 561.5,165.7 561.7,171.8 562.0,165.4 562.2,158.7 562.5,159.4 562.7,165.7 562.9,159.4 563.2,162.9 563.4,159.8 563.6,166.3 563.9,162.5 564.1,161.9 564.4,160.9 564.6,163.9 564.8,157.3 565.1,165.3 565.3,169.0 565.6,163.9 565.8,165.4 566.0,159.0 566.3,162.5 566.5,162.5 566.7,163.4 567.0,164.2 567.2,162.0 567.5,166.7 567.7,165.6 567.9,169.4 568.2,165.5 568.4,165.2 568.7,164.6 568.9,161.9 569.1,160.7 569.4,162.6 569.6,162.8 569.8,164.5 570.1,165.4 570.3,157.1 570.6,165.5 570.8,158.1 571.0,158.3 571.3,156.9 571.5,166.8 571.7,165.6 572.0,162.9 572.2,163.4 572.5,163.3 572.7,163.2 572.9,164.5 573.2,160.4 573.4,167.6 573.7,163.3 573.9,164.2 574.1,159.5 574.4,161.0 574.6,162.5 574.8,164.1 575.1,160.8 575.3,166.8 575.6,164.8 575.8,161.7 576.0,162.2 576.3,160.1 576.5,169.1 576.7,162.2 577.0,161.4 577.2,158.2 577.5,160.2 577.7,161.8 577.9,166.4 578.2,167.0 578.4,162.2 578.7,161.9 578.9,162.3 579.1,165.6 579.4,167.0 579.6,165.2 579.8,160.7 580.1,169.2 580.3,159.5 580.6,157.1 580.8,159.0 581.0,166.2 581.3,160.3 581.5,156.0 581.8,162.5 582.0,161.9 582.2,155.1 582.5,162.6 582.7,163.8 582.9,160.2 583.2,158.4 583.4,162.7 583.7,162.0 583.9,162.1 584.1,166.5 584.4,161.5 584.6,168.0 584.8,159.9 585.1,161.7 585.3,166.1 585.6,163.8 585.8,166.1 586.0,164.9 586.3,160.4 586.5,167.0 586.8,160.5 587.0,163.8 587.2,159.9 587.5,162.2 587.7,168.1 587.9,163.3 588.2,167.2 588.4,169.2 588.7,161.4 588.9,164.5 589.1,160.5 589.4,152.1 589.6,161.9 589.8,165.9 590.1,163.9 590.3,162.6 590.6,162.0 590.8,162.8 591.0,163.6 591.3,156.3 591.5,167.1 591.8,166.3 592.0,159.1 592.2,158.6 592.5,165.8 592.7,161.5 592.9,163.5 593.2,160.1 593.4,169.3 593.7,161.5 593.9,163.1 594.1,164.1 594.4,165.2 594.6,162.2 594.9,155.0 595.1,163.5 595.3,163.1 595.6,166.3 595.8,165.9 596.0,158.2 596.3,160.7 596.5,164.9 596.8,163.7 597.0,157.2 597.2,165.9 597.5,163.1 597.7,160.7 597.9,159.1 598.2,165.1 598.4,170.4 598.7,161.5 598.9,157.7 599.1,159.4 599.4,159.2 599.6,158.8 599.9,163.9 600.1,160.8 600.3,166.2 600.6,161.6 600.8,167.1 601.0,162.0 601.3,165.5 601.5,161.9 601.8,161.6 602.0,163.5 602.2,167.4 602.5,160.8 602.7,162.4 603.0,164.3 603.2,160.6 603.4,164.9 603.7,164.7 603.9,164.1 604.1,159.9 604.4,155.5 604.6,168.8 604.9,171.0 605.1,162.3 605.3,159.3 605.6,165.7 605.8,162.8 606.0,167.0 606.3,164.8 606.5,158.2 606.8,166.1 607.0,157.1 607.2,164.1 607.5,158.1 607.7,159.6 608.0,164.9 608.2,164.5 608.4,159.4 608.7,163.2 608.9,165.5 609.1,164.1 609.4,164.4 609.6,162.7 609.9,157.7 610.1,165.1 610.3,157.0 610.6,170.0 610.8,158.7 611.0,163.5 611.3,158.8 611.5,166.6 611.8,159.0 612.0,158.0 612.2,165.7 612.5,165.3 612.7,162.8 613.0,165.4 613.2,162.6 613.4,166.6 613.7,164.6 613.9,161.0 614.1,164.2 614.4,163.6 614.6,160.6 614.9,168.0 615.1,160.0 615.3,160.6 615.6,162.1 615.8,167.9 616.1,164.4 616.3,162.4 616.5,164.8 616.8,162.0 617.0,164.9 617.2,161.8 617.5,164.1 617.7,161.9 618.0,163.9 618.2,161.3 618.4,162.3 618.7,157.3 618.9,169.6 619.1,158.2 619.4,166.4 619.6,160.1 619.9,163.5 620.1,161.6 620.3,163.7 620.6,160.0 620.8,160.1 621.1,159.8 621.3,158.5 621.5,155.6 621.8,167.5 622.0,168.9 622.2,158.6 622.5,160.4 622.7,163.2 623.0,167.2 623.2,162.1 623.4,158.6 623.7,159.6 623.9,165.4 624.2,159.1 624.4,166.8 624.6,164.6 624.9,168.8 625.1,158.5 625.3,168.5 625.6,169.2 625.8,165.2 626.1,161.1 626.3,168.8 626.5,160.0 626.8,165.5 627.0,164.2 627.2,162.6 627.5,162.1 627.7,164.2" fill="none" stroke="#1f77b4" stroke-width="1.7" stroke-linejoin="round"/>
<path d="M389.5,36.5 L390.09,38.19 L391.88,38.23 L390.45,39.31 L390.97,41.02 L389.5,40 L388.03,41.02 L388.55,39.31 L387.12,38.23 L388.91,38.19 Z" fill="#1f77b4"/>
<path d="M397.78,58.86 L398.37,60.55 L400.16,60.58 L398.74,61.66 L399.25,63.38 L397.78,62.36 L396.31,63.38 L396.83,61.66 L395.41,60.58 L397.2,60.55 Z" fill="#1f77b4"/>
<path d="M406.07,87.18 L406.66,88.87 L408.45,88.91 L407.02,89.99 L407.54,91.71 L406.07,90.68 L404.6,91.71 L405.12,89.99 L403.69,88.91 L405.48,88.87 Z" fill="#1f77b4"/>
<path d="M414.35,115.69 L414.94,117.38 L416.73,117.42 L415.3,118.5 L415.82,120.21 L414.35,119.19 L412.88,120.21 L413.4,118.5 L411.97,117.42 L413.76,117.38 Z" fill="#1f77b4"/>
<path d="M422.64,144.2 L423.22,145.89 L425.01,145.93 L423.59,147.01 L424.11,148.72 L422.64,147.7 L421.17,148.72 L421.68,147.01 L420.26,145.93 L422.05,145.89 Z" fill="#1f77b4"/>
<path d="M430.92,162.21 L431.51,163.9 L433.3,163.94 L431.87,165.02 L432.39,166.73 L430.92,165.71 L429.45,166.73 L429.97,165.02 L428.54,163.94 L430.33,163.9 Z" fill="#1f77b4"/>
<path d="M439.2,159.01 L439.79,160.7 L441.58,160.73 L440.16,161.81 L440.67,163.53 L439.2,162.51 L437.73,163.53 L438.25,161.81 L436.83,160.73 L438.62,160.7 Z" fill="#1f77b4"/>
<path d="M447.49,162.04 L448.08,163.73 L449.87,163.76 L448.44,164.85 L448.96,166.56 L447.49,165.54 L446.02,166.56 L446.54,164.85 L445.11,163.76 L446.9,163.73 Z" fill="#1f77b4"/>
<path d="M455.77,154.88 L456.36,156.58 L458.15,156.61 L456.72,157.69 L457.24,159.41 L455.77,158.38 L454.3,159.41 L454.82,157.69 L453.39,156.61 L455.18,156.58 Z" fill="#1f77b4"/>
<path d="M464.06,163.96 L464.64,165.65 L466.43,165.69 L465.01,166.77 L465.53,168.49 L464.06,167.46 L462.59,168.49 L463.1,166.77 L461.68,165.69 L463.47,165.65 Z" fill="#1f77b4"/>
<path d="M472.34,156.77 L472.93,158.46 L474.72,158.5 L473.29,159.58 L473.81,161.29 L472.34,160.27 L470.87,161.29 L471.39,159.58 L469.96,158.5 L471.75,158.46 Z" fill="#1f77b4"/>
<path d="M480.62,157.91 L481.21,159.6 L483,159.63 L481.58,160.72 L482.09,162.43 L480.62,161.41 L479.15,162.43 L479.67,160.72 L478.25,159.63 L480.04,159.6 Z" fill="#1f77b4"/>
<path d="M488.91,161.12 L489.5,162.81 L491.29,162.85 L489.86,163.93 L490.38,165.64 L488.91,164.62 L487.44,165.64 L487.96,163.93 L486.53,162.85 L488.32,162.81 Z" fill="#1f77b4"/>
<path d="M497.19,160.22 L497.78,161.91 L499.57,161.95 L498.14,163.03 L498.66,164.74 L497.19,163.72 L495.72,164.74 L496.24,163.03 L494.81,161.95 L496.6,161.91 Z" fill="#1f77b4"/>
<path d="M505.48,161.39 L506.06,163.08 L507.85,163.12 L506.43,164.2 L506.95,165.91 L505.48,164.89 L504.01,165.91 L504.52,164.2 L503.1,163.12 L504.89,163.08 Z" fill="#1f77b4"/>
<path d="M513.76,159.67 L514.35,161.36 L516.14,161.4 L514.71,162.48 L515.23,164.19 L513.76,163.17 L512.29,164.19 L512.81,162.48 L511.38,161.4 L513.17,161.36 Z" fill="#1f77b4"/>
<path d="M522.04,161.98 L522.63,163.67 L524.42,163.7 L523,164.79 L523.51,166.5 L522.04,165.48 L520.57,166.5 L521.09,164.79 L519.67,163.7 L521.46,163.67 Z" fill="#1f77b4"/>
<path d="M530.33,164.71 L530.92,166.4 L532.71,166.44 L531.28,167.52 L531.8,169.23 L530.33,168.21 L528.86,169.23 L529.38,167.52 L527.95,166.44 L529.74,166.4 Z" fill="#1f77b4"/>
<path d="M538.61,160.57 L539.2,162.26 L540.99,162.3 L539.56,163.38 L540.08,165.09 L538.61,164.07 L537.14,165.09 L537.66,163.38 L536.23,162.3 L538.02,162.26 Z" fill="#1f77b4"/>
<path d="M546.9,156.74 L547.48,158.43 L549.27,158.47 L547.85,159.55 L548.37,161.27 L546.9,160.24 L545.43,161.27 L545.94,159.55 L544.52,158.47 L546.31,158.43 Z" fill="#1f77b4"/>
<path d="M555.18,156.2 L555.77,157.89 L557.56,157.92 L556.13,159 L556.65,160.72 L555.18,159.7 L553.71,160.72 L554.23,159 L552.8,157.92 L554.59,157.89 Z" fill="#1f77b4"/>
<path d="M563.46,161.15 L564.05,162.84 L565.84,162.88 L564.42,163.96 L564.93,165.67 L563.46,164.65 L561.99,165.67 L562.51,163.96 L561.09,162.88 L562.88,162.84 Z" fill="#1f77b4"/>
<path d="M571.75,158.89 L572.34,160.58 L574.13,160.62 L572.7,161.7 L573.22,163.41 L571.75,162.39 L570.28,163.41 L570.8,161.7 L569.37,160.62 L571.16,160.58 Z" fill="#1f77b4"/>
<path d="M580.03,161.28 L580.62,162.97 L582.41,163.01 L580.98,164.09 L581.5,165.8 L580.03,164.78 L578.56,165.8 L579.08,164.09 L577.65,163.01 L579.44,162.97 Z" fill="#1f77b4"/>
<path d="M588.32,160.75 L588.9,162.44 L590.69,162.48 L589.27,163.56 L589.79,165.28 L588.32,164.25 L586.85,165.28 L587.36,163.56 L585.94,162.48 L587.73,162.44 Z" fill="#1f77b4"/>
<path d="M596.6,161.81 L597.19,163.5 L598.98,163.53 L597.55,164.61 L598.07,166.33 L596.6,165.31 L595.13,166.33 L595.65,164.61 L594.22,163.53 L596.01,163.5 Z" fill="#1f77b4"/>
<path d="M604.88,167.02 L605.47,168.72 L607.26,168.75 L605.84,169.83 L606.35,171.55 L604.88,170.52 L603.41,171.55 L603.93,169.83 L602.51,168.75 L604.3,168.72 Z" fill="#1f77b4"/>
<path d="M613.17,162.03 L613.76,163.72 L615.55,163.76 L614.12,164.84 L614.64,166.56 L613.17,165.53 L611.7,166.56 L612.22,164.84 L610.79,163.76 L612.58,163.72 Z" fill="#1f77b4"/>
<path d="M621.45,162.9 L622.04,164.59 L623.83,164.62 L622.4,165.7 L622.92,167.42 L621.45,166.4 L619.98,167.42 L620.5,165.7 L619.07,164.62 L620.86,164.59 Z" fill="#1f77b4"/>
<polyline points="389.5,39.0 390.0,31.0 390.2,31.3 390.5,31.7 390.7,32.0 391.0,32.3 391.2,32.7 391.4,33.0 391.7,33.3 391.9,33.7 392.1,34.0 392.4,34.3 392.6,34.6 392.9,35.0 393.1,35.3 393.3,35.6 393.6,36.0 393.8,36.3 394.0,36.6 394.3,37.0 394.5,37.3 394.8,37.6 395.0,38.0 395.2,38.3 395.5,38.6 395.7,39.0 396.0,39.3 396.2,39.6 396.4,40.0 396.7,40.3 396.9,40.6 397.1,41.0 397.4,41.3 397.6,41.6 397.9,41.9 398.1,42.1 398.3,42.3 398.6,42.5 398.8,42.6 399.1,42.8 399.3,43.0 399.5,43.1 399.8,43.3 400.0,43.5 400.2,43.7 400.5,43.8 400.7,44.0 401.0,44.2 401.2,44.3 401.4,44.5 401.7,44.7 401.9,44.8 402.1,45.0 402.4,45.2 402.6,45.3 402.9,45.5 403.1,45.7 403.3,45.8 403.6,46.0 403.8,46.2 404.1,46.3 404.3,46.5 404.5,46.7 404.8,46.8 405.0,47.0 405.2,47.2 405.5,47.4 405.7,47.5 406.0,47.7 406.2,47.9 406.4,48.0 406.7,48.2 406.9,48.4 407.2,48.5 407.4,48.7 407.6,48.9 407.9,49.0 408.1,49.2 408.3,49.4 408.6,49.5 408.8,49.7 409.1,49.9 409.3,50.0 409.5,50.2 409.8,50.4 410.0,50.5 410.2,50.7 410.5,50.9 410.7,51.0 411.0,51.2 411.2,51.4 411.4,51.6 411.7,51.7 411.9,51.9 412.2,52.1 412.4,52.2 412.6,52.4 412.9,52.6 413.1,52.7 413.3,52.9 413.6,53.1 413.8,53.2 414.1,53.4 414.3,53.6 414.5,53.7 414.8,53.9 415.0,54.1 415.2,54.2 415.5,54.4 415.7,54.6 416.0,54.7 416.2,54.9 416.4,55.1 416.7,55.3 416.9,55.4 417.2,55.6 417.4,55.8 417.6,55.9 417.9,56.1 418.1,56.3 418.3,56.4 418.6,56.6 418.8,56.8 419.1,56.9 419.3,57.1 419.5,57.3 419.8,57.4 420.0,57.6 420.3,57.8 420.5,57.9 420.7,58.1 421.0,58.3 421.2,58.4 421.4,58.6 421.7,58.8 421.9,58.9 422.2,59.1 422.4,59.3 422.6,59.5 422.9,59.6 423.1,59.7 423.3,59.9 423.6,60.0 423.8,60.2 424.1,60.3 424.3,60.5 424.5,60.6 424.8,60.7 425.0,60.9 425.3,61.0 425.5,61.2 425.7,61.3 426.0,61.5 426.2,61.6 426.4,61.7 426.7,61.9 426.9,62.0 427.2,62.2 427.4,62.3 427.6,62.5 427.9,62.6 428.1,62.7 428.4,62.9 428.6,63.0 428.8,63.2 429.1,63.3 429.3,63.4 429.5,63.6 429.8,63.7 430.0,63.9 430.3,64.0 430.5,64.2 430.7,64.3 431.0,64.4 431.2,64.6 431.4,64.7 431.7,64.9 431.9,65.0 432.2,65.2 432.4,65.3 432.6,65.4 432.9,65.6 433.1,65.7 433.4,65.9 433.6,66.0 433.8,66.2 434.1,66.3 434.3,66.4 434.5,66.6 434.8,66.7 435.0,66.9 435.3,67.0 435.5,67.2 435.7,67.3 436.0,67.4 436.2,67.6 436.4,67.7 436.7,67.9 436.9,68.0 437.2,68.1 437.4,68.3 437.6,68.4 437.9,68.6 438.1,68.7 438.4,68.9 438.6,69.0 438.8,69.1 439.1,69.3 439.3,69.4 439.5,69.6 439.8,69.7 440.0,69.9 440.3,70.0 440.5,70.1 440.7,70.3 441.0,70.4 441.2,70.6 441.5,70.7 441.7,70.9 441.9,71.0 442.2,71.1 442.4,71.3 442.6,71.4 442.9,71.6 443.1,71.7 443.4,71.9 443.6,72.0 443.8,72.1 444.1,72.3 444.3,72.4 444.5,72.6 444.8,72.7 445.0,72.8 445.3,73.0 445.5,73.1 445.7,73.3 446.0,73.4 446.2,73.6 446.5,73.7 446.7,73.8 446.9,74.0 447.2,74.1 447.4,74.3 447.6,74.4 447.9,74.6 448.1,74.7 448.4,74.8 448.6,75.0 448.8,75.1 449.1,75.3 449.3,75.4 449.6,75.6 449.8,75.7 450.0,75.8 450.3,76.0 450.5,76.1 450.7,76.3 451.0,76.4 451.2,76.5 451.5,76.7 451.7,76.8 451.9,77.0 452.2,77.1 452.4,77.3 452.6,77.4 452.9,77.5 453.1,77.7 453.4,77.8 453.6,78.0 453.8,78.1 454.1,78.3 454.3,78.4 454.6,78.5 454.8,78.7 455.0,78.8 455.3,79.0 455.5,79.1 455.7,79.3 456.0,79.4 456.2,79.5 456.5,79.7 456.7,79.8 456.9,80.0 457.2,80.1 457.4,80.3 457.6,80.4 457.9,80.5 458.1,80.7 458.4,80.8 458.6,81.0 458.8,81.1 459.1,81.2 459.3,81.4 459.6,81.5 459.8,81.7 460.0,81.8 460.3,82.0 460.5,82.1 460.7,82.2 461.0,82.4 461.2,82.5 461.5,82.7 461.7,82.8 461.9,83.0 462.2,83.1 462.4,83.2 462.7,83.4 462.9,83.5 463.1,83.7 463.4,83.8 463.6,84.0 463.8,84.1 464.1,84.2 464.3,84.4 464.6,84.5 464.8,84.7 465.0,84.8 465.3,85.0 465.5,85.1 465.7,85.2 466.0,85.4 466.2,85.5 466.5,85.7 466.7,85.8 466.9,85.9 467.2,86.1 467.4,86.2 467.7,86.4 467.9,86.5 468.1,86.7 468.4,86.8 468.6,86.9 468.8,87.1 469.1,87.2 469.3,87.4 469.6,87.5 469.8,87.7 470.0,87.8 470.3,87.9 470.5,88.1 470.7,88.2 471.0,88.4 471.2,88.5 471.5,88.7 471.7,88.8 471.9,88.9 472.2,89.1 472.4,89.2 472.7,89.4 472.9,89.5 473.1,89.7 473.4,89.8 473.6,89.9 473.8,90.1 474.1,90.2 474.3,90.4 474.6,90.5 474.8,90.6 475.0,90.8 475.3,90.9 475.5,91.1 475.8,91.2 476.0,91.4 476.2,91.5 476.5,91.6 476.7,91.8 476.9,91.9 477.2,92.1 477.4,92.2 477.7,92.4 477.9,92.5 478.1,92.6 478.4,92.8 478.6,92.9 478.8,93.1 479.1,93.2 479.3,93.4 479.6,93.5 479.8,93.6 480.0,93.8 480.3,93.9 480.5,94.1 480.8,94.2 481.0,94.4 481.2,94.5 481.5,94.6 481.7,94.8 481.9,94.9 482.2,95.1 482.4,95.2 482.7,95.3 482.9,95.5 483.1,95.6 483.4,95.8 483.6,95.9 483.9,96.1 484.1,96.2 484.3,96.3 484.6,96.5 484.8,96.6 485.0,96.8 485.3,96.9 485.5,97.1 485.8,97.2 486.0,97.3 486.2,97.5 486.5,97.6 486.7,97.8 486.9,97.9 487.2,98.1 487.4,98.2 487.7,98.3 487.9,98.5 488.1,98.6 488.4,98.8 488.6,98.9 488.9,99.1 489.1,99.2 489.3,99.3 489.6,99.5 489.8,99.6 490.0,99.8 490.3,99.9 490.5,100.0 490.8,100.2 491.0,100.3 491.2,100.5 491.5,100.6 491.7,100.8 491.9,100.9 492.2,101.0 492.4,101.2 492.7,101.3 492.9,101.5 493.1,101.6 493.4,101.8 493.6,101.9 493.9,102.0 494.1,102.2 494.3,102.3 494.6,102.5 494.8,102.6 495.0,102.8 495.3,102.9 495.5,103.0 495.8,103.2 496.0,103.3 496.2,103.5 496.5,103.6 496.7,103.8 497.0,103.9 497.2,104.0 497.4,104.2 497.7,104.3 497.9,104.5 498.1,104.6 498.4,104.8 498.6,105.0 498.9,105.1 499.1,105.3 499.3,105.5 499.6,105.6 499.8,105.8 500.0,105.9 500.3,106.1 500.5,106.3 500.8,106.4 501.0,106.6 501.2,106.8 501.5,106.9 501.7,107.1 502.0,107.3 502.2,107.4 502.4,107.6 502.7,107.7 502.9,107.9 503.1,108.1 503.4,108.2 503.6,108.4 503.9,108.6 504.1,108.7 504.3,108.9 504.6,109.1 504.8,109.2 505.1,109.4 505.3,109.6 505.5,109.7 505.8,109.9 506.0,110.0 506.2,110.2 506.5,110.4 506.7,110.5 507.0,110.7 507.2,110.9 507.4,111.0 507.7,111.2 507.9,111.4 508.1,111.5 508.4,111.7 508.6,111.8 508.9,112.0 509.1,112.2 509.3,112.3 509.6,112.5 509.8,112.7 510.1,112.8 510.3,113.0 510.5,113.2 510.8,113.3 511.0,113.5 511.2,113.6 511.5,113.8 511.7,114.0 512.0,114.1 512.2,114.3 512.4,114.5 512.7,114.6 512.9,114.8 513.1,115.0 513.4,115.1 513.6,115.3 513.9,115.4 514.1,115.6 514.3,115.8 514.6,115.9 514.8,116.1 515.1,116.3 515.3,116.4 515.5,116.6 515.8,116.7 516.0,116.9 516.2,117.0 516.5,117.2 516.7,117.3 517.0,117.5 517.2,117.6 517.4,117.8 517.7,117.9 517.9,118.1 518.2,118.2 518.4,118.4 518.6,118.5 518.9,118.7 519.1,118.8 519.3,118.9 519.6,119.1 519.8,119.2 520.1,119.4 520.3,119.5 520.5,119.7 520.8,119.8 521.0,120.0 521.2,120.1 521.5,120.3 521.7,120.4 522.0,120.6 522.2,120.7 522.4,120.9 522.7,121.0 522.9,121.2 523.2,121.3 523.4,121.5 523.6,121.6 523.9,121.8 524.1,121.9 524.3,122.1 524.6,122.2 524.8,122.4 525.1,122.5 525.3,122.7 525.5,122.8 525.8,123.0 526.0,123.1 526.3,123.3 526.5,123.4 526.7,123.6 527.0,123.7 527.2,123.9 527.4,124.0 527.7,124.1 527.9,124.3 528.2,124.4 528.4,124.6 528.6,124.7 528.9,124.9 529.1,125.0 529.3,125.2 529.6,125.3 529.8,125.5 530.1,125.6 530.3,125.8 530.5,125.9 530.8,126.1 531.0,126.2 531.3,126.4 531.5,126.5 531.7,126.7 532.0,126.8 532.2,127.0 532.4,127.1 532.7,127.3 532.9,127.4 533.2,127.6 533.4,127.7 533.6,127.9 533.9,128.0 534.1,128.2 534.3,128.3 534.6,128.5 534.8,128.6 535.1,128.8 535.3,128.9 535.5,129.1 535.8,129.2 536.0,129.4 536.3,129.5 536.5,129.6 536.7,129.8 537.0,129.9 537.2,130.1 537.4,130.2 537.7,130.4 537.9,130.5 538.2,130.7 538.4,130.8 538.6,131.0 538.9,131.1 539.1,131.3 539.4,131.4 539.6,131.6 539.8,131.7 540.1,131.9 540.3,132.0 540.5,132.2 540.8,132.3 541.0,132.5 541.3,132.6 541.5,132.8 541.7,132.9 542.0,133.1 542.2,133.2 542.4,133.4 542.7,133.5 542.9,133.7 543.2,133.8 543.4,134.0 543.6,134.1 543.9,134.3 544.1,134.4 544.4,134.6 544.6,134.7 544.8,134.9 545.1,135.0 545.3,135.1 545.5,135.3 545.8,135.4 546.0,135.6 546.3,135.7 546.5,135.9 546.7,136.0 547.0,136.2 547.2,136.3 547.5,136.5 547.7,136.6 547.9,136.8 548.2,136.9 548.4,137.1 548.6,137.2 548.9,137.4 549.1,137.5 549.4,137.7 549.6,137.8 549.8,138.0 550.1,138.1 550.3,138.3 550.5,138.4 550.8,138.6 551.0,138.7 551.3,138.9 551.5,139.0 551.7,139.2 552.0,139.3 552.2,139.5 552.5,139.6 552.7,139.8 552.9,139.9 553.2,140.1 553.4,140.2 553.6,140.4 553.9,140.5 554.1,140.6 554.4,140.8 554.6,140.9 554.8,141.1 555.1,141.2 555.3,141.4 555.5,141.5 555.8,141.7 556.0,141.8 556.3,142.0 556.5,142.1 556.7,142.3 557.0,142.4 557.2,142.6 557.5,142.7 557.7,142.9 557.9,143.0 558.2,143.2 558.4,143.3 558.6,143.5 558.9,143.6 559.1,143.8 559.4,143.9 559.6,144.1 559.8,144.2 560.1,144.4 560.3,144.5 560.6,144.7 560.8,144.8 561.0,145.0 561.3,145.1 561.5,145.3 561.7,145.4 562.0,145.6 562.2,145.7 562.5,145.9 562.7,146.0 562.9,146.1 563.2,146.3 563.4,146.4 563.6,146.6 563.9,146.7 564.1,146.9 564.4,147.0 564.6,147.2 564.8,147.3 565.1,147.5 565.3,147.6 565.6,147.8 565.8,147.9 566.0,148.1 566.3,148.2 566.5,148.4 566.7,148.5 567.0,148.7 567.2,148.8 567.5,149.0 567.7,149.1 567.9,149.3 568.2,149.4 568.4,149.6 568.7,149.7 568.9,149.9 569.1,150.0 569.4,150.2 569.6,150.3 569.8,150.5 570.1,150.6 570.3,150.8 570.6,150.9 570.8,151.1 571.0,151.2 571.3,151.3 571.5,151.5 571.7,151.6 572.0,151.8 572.2,151.9 572.5,152.1 572.7,152.2 572.9,152.4 573.2,152.5 573.4,152.7 573.7,152.8 573.9,153.0 574.1,153.1 574.4,153.3 574.6,153.4 574.8,153.6 575.1,153.7 575.3,153.9 575.6,154.0 575.8,154.2 576.0,154.3 576.3,154.5 576.5,154.6 576.7,154.8 577.0,154.9 577.2,155.1 577.5,155.2 577.7,155.4 577.9,155.5 578.2,155.7 578.4,155.8 578.7,156.0 578.9,156.1 579.1,156.3 579.4,156.4 579.6,156.6 579.8,156.7 580.1,156.8 580.3,157.0 580.6,157.1 580.8,157.3 581.0,157.4 581.3,157.6 581.5,157.7 581.8,157.9 582.0,158.0 582.2,158.2 582.5,158.3 582.7,158.5 582.9,158.6 583.2,158.8 583.4,158.9 583.7,159.1 583.9,159.2 584.1,159.4 584.4,159.5 584.6,159.7 584.8,159.8 585.1,160.0 585.3,160.1 585.6,160.3 585.8,160.4 586.0,160.6 586.3,160.7 586.5,160.9 586.8,161.0 587.0,161.2 587.2,161.3 587.5,161.5 587.7,161.6 587.9,161.8 588.2,161.9 588.4,162.1 588.7,162.2 588.9,162.3 589.1,162.5 589.4,162.6 589.6,162.7 589.8,162.8 590.1,162.9 590.3,163.0 590.6,163.1 590.8,163.1 591.0,163.2 591.3,163.3 591.5,163.4 591.8,163.5 592.0,163.6 592.2,163.7 592.5,163.8 592.7,163.8 592.9,163.9 593.2,164.0 593.4,164.1 593.7,164.2 593.9,164.3 594.1,164.4 594.4,164.5 594.6,164.5 594.9,164.6 595.1,164.7 595.3,164.8 595.6,164.9 595.8,165.0 596.0,165.1 596.3,165.2 596.5,165.2 596.8,165.3 597.0,165.4 597.2,165.5 597.5,165.6 597.7,165.7 597.9,165.7 598.2,165.8 598.4,165.8 598.7,165.9 598.9,166.0 599.1,166.0 599.4,166.1 599.6,166.1 599.9,166.2 600.1,166.3 600.3,166.3 600.6,166.4 600.8,166.4 601.0,166.5 601.3,166.6 601.5,166.6 601.8,166.7 602.0,166.7 602.2,166.8 602.5,166.9 602.7,166.9 603.0,167.0 603.2,170.1 603.4,170.1 603.7,176.1 603.9,179.5 604.1,166.4 604.4,163.2 604.6,171.1 604.9,168.8 605.1,175.1 605.3,172.0 605.6,173.8 605.8,164.2 606.0,165.9 606.3,166.3 606.5,170.6 606.8,171.7 607.0,165.2 607.2,175.3 607.5,169.4 607.7,166.6 608.0,170.3 608.2,173.6 608.4,170.7 608.7,169.6 608.9,172.1 609.1,174.0 609.4,170.9 609.6,170.7 609.9,171.7 610.1,167.0 610.3,167.7 610.6,171.4 610.8,169.8 611.0,170.1 611.3,169.9 611.5,171.6 611.8,170.4 612.0,169.7 612.2,169.1 612.5,172.0 612.7,166.9 613.0,170.1 613.2,167.6 613.4,170.2 613.7,175.1 613.9,172.4 614.1,171.5 614.4,173.7 614.6,169.2 614.9,173.9 615.1,173.1 615.3,169.0 615.6,167.6 615.8,169.6 616.1,171.0 616.3,168.1 616.5,170.1 616.8,169.0 617.0,172.3 617.2,172.8 617.5,171.4 617.7,169.1 618.0,168.1 618.2,168.0 618.4,175.0 618.7,171.5 618.9,170.6 619.1,172.4 619.4,169.6 619.6,173.5 619.9,169.9 620.1,173.7 620.3,170.8 620.6,170.5 620.8,170.0 621.1,173.7 621.3,177.8 621.5,169.7 621.8,172.8 622.0,173.3 622.2,177.1 622.5,170.5 622.7,175.8 623.0,171.8 623.2,175.0 623.4,172.2 623.7,168.4 623.9,171.8 624.2,167.6 624.4,176.4 624.6,173.9 624.9,177.0 625.1,177.2 625.3,172.2 625.6,171.8 625.8,177.3 626.1,171.3 626.3,170.1 626.5,168.2 626.8,170.2 627.0,167.7 627.2,174.1 627.5,169.7 627.7,172.9" fill="none" stroke="#ff7f0e" stroke-width="1.7" stroke-linejoin="round"/>
<path d="M386.5,36.6 L392.5,36.6 L389.5,42 Z" fill="#ff7f0e"/>
<path d="M394.78,39.44 L400.78,39.44 L397.78,44.84 Z" fill="#ff7f0e"/>
<path d="M403.07,45.36 L409.07,45.36 L406.07,50.76 Z" fill="#ff7f0e"/>
<path d="M411.35,51.21 L417.35,51.21 L414.35,56.61 Z" fill="#ff7f0e"/>
<path d="M419.64,57.05 L425.64,57.05 L422.64,62.45 Z" fill="#ff7f0e"/>
<path d="M427.92,62.01 L433.92,62.01 L430.92,67.41 Z" fill="#ff7f0e"/>
<path d="M436.2,66.97 L442.2,66.97 L439.2,72.37 Z" fill="#ff7f0e"/>
<path d="M444.49,71.92 L450.49,71.92 L447.49,77.32 Z" fill="#ff7f0e"/>
<path d="M452.77,76.87 L458.77,76.87 L455.77,82.27 Z" fill="#ff7f0e"/>
<path d="M461.06,81.83 L467.06,81.83 L464.06,87.23 Z" fill="#ff7f0e"/>
<path d="M469.34,86.78 L475.34,86.78 L472.34,92.18 Z" fill="#ff7f0e"/>
<path d="M477.62,91.73 L483.62,91.73 L480.62,97.13 Z" fill="#ff7f0e"/>
<path d="M485.91,96.68 L491.91,96.68 L488.91,102.08 Z" fill="#ff7f0e"/>
<path d="M494.19,101.64 L500.19,101.64 L497.19,107.04 Z" fill="#ff7f0e"/>
<path d="M502.48,107.28 L508.48,107.28 L505.48,112.68 Z" fill="#ff7f0e"/>
<path d="M510.76,112.98 L516.76,112.98 L513.76,118.38 Z" fill="#ff7f0e"/>
<path d="M519.04,118.23 L525.04,118.23 L522.04,123.63 Z" fill="#ff7f0e"/>
<path d="M527.33,123.4 L533.33,123.4 L530.33,128.8 Z" fill="#ff7f0e"/>
<path d="M535.61,128.57 L541.61,128.57 L538.61,133.97 Z" fill="#ff7f0e"/>
<path d="M543.9,133.74 L549.9,133.74 L546.9,139.14 Z" fill="#ff7f0e"/>
<path d="M552.18,138.91 L558.18,138.91 L555.18,144.31 Z" fill="#ff7f0e"/>
<path d="M560.46,144.08 L566.46,144.08 L563.46,149.48 Z" fill="#ff7f0e"/>
<path d="M568.75,149.25 L574.75,149.25 L571.75,154.65 Z" fill="#ff7f0e"/>
<path d="M577.03,154.42 L583.03,154.42 L580.03,159.82 Z" fill="#ff7f0e"/>
<path d="M585.32,159.59 L591.32,159.59 L588.32,164.99 Z" fill="#ff7f0e"/>
<path d="M593.6,162.87 L599.6,162.87 L596.6,168.27 Z" fill="#ff7f0e"/>
<path d="M601.88,168.4 L607.88,168.4 L604.88,173.8 Z" fill="#ff7f0e"/>
<path d="M610.17,168.3 L616.17,168.3 L613.17,173.7 Z" fill="#ff7f0e"/>
<path d="M618.45,166.25 L624.45,166.25 L621.45,171.65 Z" fill="#ff7f0e"/>
<polyline points="389.5,41.0 390.0,33.0 390.2,33.4 390.5,33.9 390.7,34.3 391.0,34.7 391.2,35.2 391.4,35.6 391.7,36.1 391.9,36.5 392.1,36.9 392.4,37.4 392.6,37.8 392.9,38.2 393.1,38.7 393.3,39.1 393.6,39.6 393.8,40.0 394.0,40.4 394.3,40.9 394.5,41.3 394.8,41.7 395.0,42.2 395.2,42.6 395.5,43.1 395.7,43.5 396.0,43.9 396.2,44.4 396.4,44.8 396.7,45.2 396.9,45.7 397.1,46.1 397.4,46.6 397.6,47.0 397.9,47.4 398.1,47.7 398.3,48.0 398.6,48.2 398.8,48.4 399.1,48.7 399.3,48.9 399.5,49.2 399.8,49.4 400.0,49.7 400.2,49.9 400.5,50.2 400.7,50.4 401.0,50.6 401.2,50.9 401.4,51.1 401.7,51.4 401.9,51.6 402.1,51.9 402.4,52.1 402.6,52.4 402.9,52.6 403.1,52.9 403.3,53.1 403.6,53.3 403.8,53.6 404.1,53.8 404.3,54.1 404.5,54.3 404.8,54.6 405.0,54.8 405.2,55.1 405.5,55.3 405.7,55.6 406.0,55.8 406.2,56.0 406.4,56.3 406.7,56.5 406.9,56.8 407.2,57.0 407.4,57.3 407.6,57.5 407.9,57.8 408.1,58.0 408.3,58.3 408.6,58.5 408.8,58.7 409.1,59.0 409.3,59.2 409.5,59.5 409.8,59.7 410.0,60.0 410.2,60.2 410.5,60.5 410.7,60.7 411.0,61.0 411.2,61.2 411.4,61.4 411.7,61.7 411.9,61.9 412.2,62.2 412.4,62.4 412.6,62.7 412.9,62.9 413.1,63.2 413.3,63.4 413.6,63.7 413.8,63.9 414.1,64.1 414.3,64.4 414.5,64.6 414.8,64.9 415.0,65.1 415.2,65.3 415.5,65.6 415.7,65.8 416.0,66.1 416.2,66.3 416.4,66.5 416.7,66.8 416.9,67.0 417.2,67.2 417.4,67.5 417.6,67.7 417.9,68.0 418.1,68.2 418.3,68.4 418.6,68.7 418.8,68.9 419.1,69.1 419.3,69.4 419.5,69.6 419.8,69.9 420.0,70.1 420.3,70.3 420.5,70.6 420.7,70.8 421.0,71.0 421.2,71.3 421.4,71.5 421.7,71.7 421.9,72.0 422.2,72.2 422.4,72.5 422.6,72.7 422.9,72.9 423.1,73.2 423.3,73.4 423.6,73.6 423.8,73.9 424.1,74.1 424.3,74.4 424.5,74.6 424.8,74.8 425.0,75.1 425.3,75.3 425.5,75.5 425.7,75.8 426.0,76.0 426.2,76.3 426.4,76.5 426.7,76.7 426.9,77.0 427.2,77.2 427.4,77.4 427.6,77.7 427.9,77.9 428.1,78.1 428.4,78.4 428.6,78.6 428.8,78.9 429.1,79.1 429.3,79.3 429.5,79.6 429.8,79.8 430.0,80.0 430.3,80.3 430.5,80.5 430.7,80.8 431.0,81.0 431.2,81.2 431.4,81.5 431.7,81.7 431.9,81.9 432.2,82.2 432.4,82.4 432.6,82.7 432.9,82.9 433.1,83.1 433.4,83.4 433.6,83.6 433.8,83.8 434.1,84.1 434.3,84.3 434.5,84.5 434.8,84.8 435.0,85.0 435.3,85.3 435.5,85.5 435.7,85.7 436.0,86.0 436.2,86.2 436.4,86.4 436.7,86.7 436.9,86.9 437.2,87.2 437.4,87.4 437.6,87.6 437.9,87.9 438.1,88.1 438.4,88.3 438.6,88.6 438.8,88.8 439.1,89.1 439.3,89.3 439.5,89.5 439.8,89.8 440.0,90.0 440.3,90.2 440.5,90.5 440.7,90.7 441.0,90.9 441.2,91.2 441.5,91.4 441.7,91.7 441.9,91.9 442.2,92.1 442.4,92.4 442.6,92.6 442.9,92.8 443.1,93.1 443.4,93.3 443.6,93.6 443.8,93.8 444.1,94.0 444.3,94.3 444.5,94.5 444.8,94.7 445.0,95.0 445.3,95.2 445.5,95.5 445.7,95.7 446.0,95.9 446.2,96.2 446.5,96.4 446.7,96.6 446.9,96.9 447.2,97.1 447.4,97.3 447.6,97.6 447.9,97.8 448.1,98.1 448.4,98.3 448.6,98.5 448.8,98.8 449.1,99.0 449.3,99.2 449.6,99.5 449.8,99.7 450.0,100.0 450.3,100.2 450.5,100.4 450.7,100.7 451.0,100.9 451.2,101.1 451.5,101.4 451.7,101.6 451.9,101.9 452.2,102.1 452.4,102.3 452.6,102.6 452.9,102.8 453.1,103.0 453.4,103.3 453.6,103.5 453.8,103.7 454.1,104.0 454.3,104.2 454.6,104.5 454.8,104.7 455.0,104.9 455.3,105.2 455.5,105.4 455.7,105.6 456.0,105.9 456.2,106.1 456.5,106.4 456.7,106.6 456.9,106.8 457.2,107.1 457.4,107.3 457.6,107.6 457.9,107.8 458.1,108.0 458.4,108.3 458.6,108.5 458.8,108.8 459.1,109.0 459.3,109.2 459.6,109.5 459.8,109.7 460.0,110.0 460.3,110.2 460.5,110.4 460.7,110.7 461.0,110.9 461.2,111.2 461.5,111.4 461.7,111.6 461.9,111.9 462.2,112.1 462.4,112.4 462.7,112.6 462.9,112.8 463.1,113.1 463.4,113.3 463.6,113.6 463.8,113.8 464.1,114.0 464.3,114.3 464.6,114.5 464.8,114.8 465.0,115.0 465.3,115.2 465.5,115.5 465.7,115.7 466.0,116.0 466.2,116.2 466.5,116.4 466.7,116.7 466.9,116.9 467.2,117.2 467.4,117.4 467.7,117.6 467.9,117.9 468.1,118.1 468.4,118.4 468.6,118.6 468.8,118.8 469.1,119.1 469.3,119.3 469.6,119.6 469.8,119.8 470.0,120.0 470.3,120.3 470.5,120.5 470.7,120.8 471.0,121.0 471.2,121.2 471.5,121.5 471.7,121.7 471.9,122.0 472.2,122.2 472.4,122.4 472.7,122.7 472.9,122.9 473.1,123.2 473.4,123.4 473.6,123.6 473.8,123.9 474.1,124.1 474.3,124.4 474.6,124.6 474.8,124.8 475.0,125.1 475.3,125.3 475.5,125.6 475.8,125.8 476.0,126.1 476.2,126.3 476.5,126.5 476.7,126.8 476.9,127.0 477.2,127.3 477.4,127.5 477.7,127.7 477.9,128.0 478.1,128.2 478.4,128.5 478.6,128.7 478.8,128.9 479.1,129.2 479.3,129.4 479.6,129.7 479.8,129.9 480.0,130.1 480.3,130.4 480.5,130.6 480.8,130.9 481.0,131.1 481.2,131.3 481.5,131.6 481.7,131.8 481.9,132.1 482.2,132.3 482.4,132.5 482.7,132.8 482.9,133.0 483.1,133.3 483.4,133.5 483.6,133.7 483.9,134.0 484.1,134.2 484.3,134.5 484.6,134.7 484.8,134.9 485.0,135.2 485.3,135.4 485.5,135.7 485.8,135.9 486.0,136.1 486.2,136.4 486.5,136.6 486.7,136.9 486.9,137.1 487.2,137.3 487.4,137.6 487.7,137.8 487.9,138.1 488.1,138.3 488.4,138.5 488.6,138.8 488.9,139.0 489.1,139.3 489.3,139.5 489.6,139.7 489.8,140.0 490.0,140.2 490.3,140.5 490.5,140.7 490.8,140.9 491.0,141.2 491.2,141.4 491.5,141.7 491.7,141.9 491.9,142.1 492.2,142.4 492.4,142.6 492.7,142.9 492.9,143.1 493.1,143.3 493.4,143.6 493.6,143.8 493.9,144.1 494.1,144.3 494.3,144.5 494.6,144.8 494.8,145.0 495.0,145.3 495.3,145.5 495.5,145.7 495.8,146.0 496.0,146.2 496.2,146.5 496.5,146.7 496.7,146.9 497.0,147.2 497.2,147.4 497.4,147.7 497.7,147.9 497.9,148.1 498.1,148.4 498.4,148.6 498.6,148.9 498.9,149.1 499.1,149.3 499.3,149.6 499.6,149.8 499.8,150.1 500.0,150.3 500.3,150.5 500.5,150.8 500.8,151.0 501.0,151.3 501.2,151.5 501.5,151.7 501.7,152.0 502.0,152.2 502.2,152.5 502.4,152.7 502.7,152.9 502.9,153.2 503.1,153.4 503.4,153.7 503.6,153.9 503.9,154.1 504.1,154.4 504.3,154.6 504.6,154.9 504.8,155.1 505.1,155.3 505.3,155.6 505.5,155.8 505.8,156.1 506.0,156.3 506.2,156.5 506.5,156.8 506.7,157.0 507.0,157.2 507.2,157.4 507.4,157.7 507.7,157.9 507.9,158.1 508.1,158.4 508.4,158.6 508.6,158.8 508.9,159.1 509.1,159.3 509.3,159.5 509.6,159.8 509.8,160.0 510.1,160.2 510.3,160.4 510.5,160.7 510.8,160.9 511.0,161.1 511.2,161.4 511.5,161.6 511.7,161.8 512.0,162.1 512.2,162.3 512.4,162.5 512.7,162.8 512.9,163.0 513.1,163.2 513.4,163.5 513.6,163.7 513.9,163.9 514.1,164.1 514.3,164.4 514.6,164.6 514.8,164.8 515.1,165.1 515.3,165.3 515.5,165.5 515.8,165.8 516.0,166.0 516.2,166.2 516.5,166.5 516.7,166.7 517.0,166.9 517.2,167.1 517.4,167.4 517.7,167.6 517.9,167.8 518.2,168.1 518.4,168.3 518.6,168.5 518.9,168.8 519.1,169.0 519.3,169.2 519.6,169.5 519.8,169.7 520.1,169.9 520.3,170.2 520.5,170.4 520.8,170.6 521.0,170.8 521.2,171.1 521.5,171.3 521.7,171.5 522.0,171.8 522.2,170.3 522.4,175.5 522.7,175.4 522.9,176.8 523.2,176.1 523.4,173.8 523.6,174.0 523.9,176.0 524.1,171.1 524.3,179.1 524.6,176.1 524.8,177.7 525.1,173.9 525.3,176.4 525.5,174.2 525.8,177.0 526.0,173.7 526.3,175.2 526.5,175.1 526.7,172.5 527.0,176.7 527.2,173.9 527.4,177.3 527.7,172.6 527.9,174.9 528.2,171.9 528.4,174.1 528.6,175.1 528.9,176.4 529.1,177.7 529.3,173.2 529.6,178.0 529.8,171.9 530.1,179.2 530.3,174.9 530.5,173.6 530.8,170.0 531.0,171.9 531.3,174.6 531.5,180.5 531.7,172.2 532.0,176.0 532.2,179.9 532.4,173.7 532.7,175.9 532.9,175.4 533.2,178.1 533.4,172.9 533.6,169.9 533.9,172.1 534.1,172.9 534.3,183.5 534.6,181.3 534.8,173.4 535.1,171.0 535.3,179.0 535.5,176.3 535.8,177.2 536.0,177.8 536.3,178.3 536.5,172.0 536.7,170.0 537.0,170.4 537.2,170.7 537.4,180.4 537.7,177.7 537.9,173.1 538.2,172.7 538.4,172.4 538.6,174.0 538.9,170.5 539.1,170.4 539.4,170.7 539.6,173.1 539.8,176.3 540.1,174.0 540.3,171.5 540.5,175.0 540.8,175.6 541.0,174.6 541.3,173.4 541.5,176.2 541.7,176.0 542.0,179.3 542.2,169.6 542.4,171.2 542.7,170.4 542.9,176.5 543.2,181.6 543.4,174.4 543.6,172.1 543.9,166.2 544.1,170.9 544.4,176.4 544.6,176.3 544.8,175.6 545.1,176.4 545.3,174.1 545.5,171.8 545.8,176.3 546.0,175.7 546.3,170.1 546.5,172.1 546.7,176.8 547.0,180.0 547.2,173.5 547.5,176.0 547.7,172.3 547.9,178.6 548.2,176.6 548.4,169.1 548.6,173.0 548.9,174.8 549.1,180.2 549.4,176.1 549.6,171.1 549.8,170.3 550.1,175.0 550.3,171.2 550.5,173.8 550.8,179.3 551.0,173.8 551.3,172.6 551.5,172.9 551.7,175.4 552.0,171.9 552.2,176.1 552.5,177.2 552.7,177.9 552.9,174.7 553.2,176.1 553.4,173.0 553.6,176.2 553.9,176.3 554.1,177.3 554.4,178.0 554.6,179.1 554.8,173.7 555.1,171.6 555.3,179.9 555.5,174.8 555.8,170.1 556.0,176.5 556.3,182.0 556.5,173.0 556.7,177.6 557.0,172.6 557.2,171.9 557.5,182.0 557.7,176.7 557.9,176.3 558.2,179.8 558.4,174.8 558.6,173.1 558.9,178.0 559.1,178.6 559.4,171.1 559.6,178.0 559.8,176.4 560.1,174.7 560.3,177.0 560.6,174.8 560.8,178.0 561.0,180.8 561.3,171.3 561.5,175.0 561.7,175.7 562.0,180.6 562.2,180.0 562.5,174.6 562.7,172.7 562.9,174.4 563.2,174.0 563.4,174.7 563.6,172.3 563.9,172.3 564.1,172.2 564.4,172.5 564.6,175.8 564.8,170.1 565.1,172.4 565.3,174.9 565.6,175.5 565.8,180.3 566.0,176.7 566.3,175.1 566.5,172.3 566.7,178.0 567.0,175.8 567.2,169.7 567.5,177.2 567.7,174.8 567.9,181.5 568.2,178.2 568.4,172.6 568.7,169.2 568.9,168.6 569.1,179.8 569.4,176.6 569.6,170.9 569.8,174.0 570.1,179.7 570.3,180.9 570.6,177.1 570.8,173.5 571.0,179.4 571.3,172.9 571.5,177.6 571.7,172.8 572.0,175.7 572.2,175.3 572.5,178.8 572.7,177.1 572.9,174.4 573.2,170.9 573.4,178.9 573.7,172.3 573.9,178.1 574.1,177.0 574.4,169.2 574.6,176.8 574.8,180.4 575.1,170.8 575.3,176.0 575.6,174.6 575.8,177.2 576.0,175.2 576.3,169.5 576.5,176.3 576.7,178.8 577.0,171.9 577.2,173.0 577.5,182.1 577.7,170.8 577.9,171.3 578.2,174.1 578.4,179.3 578.7,171.0 578.9,174.2 579.1,175.5 579.4,177.8 579.6,174.6 579.8,174.2 580.1,176.1 580.3,173.0 580.6,172.9 580.8,171.1 581.0,177.5 581.3,180.9 581.5,171.3 581.8,180.8 582.0,175.7 582.2,174.2 582.5,172.0 582.7,177.2 582.9,169.3 583.2,178.2 583.4,180.6 583.7,174.2 583.9,174.1 584.1,174.4 584.4,171.3 584.6,176.3 584.8,176.1 585.1,173.5 585.3,175.7 585.6,175.7 585.8,176.9 586.0,178.6 586.3,174.7 586.5,169.9 586.8,176.1 587.0,174.6 587.2,173.7 587.5,174.0 587.7,174.1 587.9,170.7 588.2,174.8 588.4,172.8 588.7,179.3 588.9,174.1 589.1,169.7 589.4,170.9 589.6,173.7 589.8,171.7 590.1,171.9 590.3,181.3 590.6,169.4 590.8,166.3 591.0,171.0 591.3,174.4 591.5,172.5 591.8,178.6 592.0,174.4 592.2,166.4 592.5,175.9 592.7,171.6 592.9,178.2 593.2,173.9 593.4,175.4 593.7,172.2 593.9,177.0 594.1,172.2 594.4,176.3 594.6,178.6 594.9,180.2 595.1,175.6 595.3,171.2 595.6,173.4 595.8,176.4 596.0,176.5 596.3,174.1 596.5,177.6 596.8,178.3 597.0,182.1 597.2,179.0 597.5,178.2 597.7,176.8 597.9,174.2 598.2,171.0 598.4,175.6 598.7,174.5 598.9,177.5 599.1,171.5 599.4,175.0 599.6,168.7 599.9,177.9 600.1,181.7 600.3,172.3 600.6,177.0 600.8,170.7 601.0,173.0 601.3,176.6 601.5,175.3 601.8,174.2 602.0,170.6 602.2,172.2 602.5,178.6 602.7,179.7 603.0,171.9 603.2,173.8 603.4,178.5 603.7,172.9 603.9,174.7 604.1,176.2 604.4,180.4 604.6,176.7 604.9,173.0 605.1,176.1 605.3,179.2 605.6,176.1 605.8,176.1 606.0,176.5 606.3,169.2 606.5,173.4 606.8,177.3 607.0,168.5 607.2,172.1 607.5,181.1 607.7,176.3 608.0,171.0 608.2,176.1 608.4,176.8 608.7,179.4 608.9,171.4 609.1,173.8 609.4,173.7 609.6,179.9 609.9,176.4 610.1,178.6 610.3,170.4 610.6,169.9 610.8,175.2 611.0,174.8 611.3,175.9 611.5,175.4 611.8,170.4 612.0,176.6 612.2,172.6 612.5,178.4 612.7,174.8 613.0,170.9 613.2,170.9 613.4,177.6 613.7,174.9 613.9,176.8 614.1,174.7 614.4,173.9 614.6,174.7 614.9,173.4 615.1,174.5 615.3,176.1 615.6,174.9 615.8,173.7 616.1,174.5 616.3,176.0 616.5,170.4 616.8,176.4 617.0,176.6 617.2,179.3 617.5,171.8 617.7,174.4 618.0,176.0 618.2,171.4 618.4,173.2 618.7,174.8 618.9,172.8 619.1,178.2 619.4,177.9 619.6,168.2 619.9,173.6 620.1,177.3 620.3,169.5 620.6,174.6 620.8,165.3 621.1,170.0 621.3,166.4 621.5,172.7 621.8,175.1 622.0,167.8 622.2,173.9 622.5,180.0 622.7,171.1 623.0,178.2 623.2,175.6 623.4,171.1 623.7,175.0 623.9,173.4 624.2,180.7 624.4,176.6 624.6,174.6 624.9,178.2 625.1,167.0 625.3,172.6 625.6,172.7 625.8,176.1 626.1,173.0 626.3,173.8 626.5,171.9 626.8,171.3 627.0,177.3 627.2,178.2 627.5,174.7 627.7,174.0" fill="none" stroke="#2ca02c" stroke-width="1.7" stroke-linejoin="round"/>
<path d="M386.5,43.4 L392.5,43.4 L389.5,38 Z" fill="#2ca02c"/>
<path d="M394.78,49.69 L400.78,49.69 L397.78,44.29 Z" fill="#2ca02c"/>
<path d="M403.07,58.31 L409.07,58.31 L406.07,52.91 Z" fill="#2ca02c"/>
<path d="M411.35,66.84 L417.35,66.84 L414.35,61.44 Z" fill="#2ca02c"/>
<path d="M419.64,75.1 L425.64,75.1 L422.64,69.7 Z" fill="#2ca02c"/>
<path d="M427.92,83.34 L433.92,83.34 L430.92,77.94 Z" fill="#2ca02c"/>
<path d="M436.2,91.59 L442.2,91.59 L439.2,86.19 Z" fill="#2ca02c"/>
<path d="M444.49,99.83 L450.49,99.83 L447.49,94.43 Z" fill="#2ca02c"/>
<path d="M452.77,108.07 L458.77,108.07 L455.77,102.67 Z" fill="#2ca02c"/>
<path d="M461.06,116.42 L467.06,116.42 L464.06,111.02 Z" fill="#2ca02c"/>
<path d="M469.34,124.77 L475.34,124.77 L472.34,119.37 Z" fill="#2ca02c"/>
<path d="M477.62,133.12 L483.62,133.12 L480.62,127.72 Z" fill="#2ca02c"/>
<path d="M485.91,141.47 L491.91,141.47 L488.91,136.07 Z" fill="#2ca02c"/>
<path d="M494.19,149.82 L500.19,149.82 L497.19,144.42 Z" fill="#2ca02c"/>
<path d="M502.48,158.17 L508.48,158.17 L505.48,152.77 Z" fill="#2ca02c"/>
<path d="M510.76,166.21 L516.76,166.21 L513.76,160.81 Z" fill="#2ca02c"/>
<path d="M519.04,174.25 L525.04,174.25 L522.04,168.85 Z" fill="#2ca02c"/>
<path d="M527.33,174.62 L533.33,174.62 L530.33,169.22 Z" fill="#2ca02c"/>
<path d="M535.61,178.99 L541.61,178.99 L538.61,173.59 Z" fill="#2ca02c"/>
<path d="M543.9,174.83 L549.9,174.83 L546.9,169.43 Z" fill="#2ca02c"/>
<path d="M552.18,181.54 L558.18,181.54 L555.18,176.14 Z" fill="#2ca02c"/>
<path d="M560.46,177.39 L566.46,177.39 L563.46,171.99 Z" fill="#2ca02c"/>
<path d="M568.75,178.28 L574.75,178.28 L571.75,172.88 Z" fill="#2ca02c"/>
<path d="M577.03,174.6 L583.03,174.6 L580.03,169.2 Z" fill="#2ca02c"/>
<path d="M585.32,177.15 L591.32,177.15 L588.32,171.75 Z" fill="#2ca02c"/>
<path d="M593.6,175.73 L599.6,175.73 L596.6,170.33 Z" fill="#2ca02c"/>
<path d="M601.88,176.51 L607.88,176.51 L604.88,171.11 Z" fill="#2ca02c"/>
<path d="M610.17,179.87 L616.17,179.87 L613.17,174.47 Z" fill="#2ca02c"/>
<path d="M618.45,175.91 L624.45,175.91 L621.45,170.51 Z" fill="#2ca02c"/>
<polyline points="389.5,39.0 390.0,25.3 390.2,25.9 390.5,26.5 390.7,27.1 391.0,27.7 391.2,28.3 391.4,28.9 391.7,29.5 391.9,30.1 392.1,30.8 392.4,31.4 392.6,32.0 392.9,32.6 393.1,33.2 393.3,33.8 393.6,34.4 393.8,35.0 394.0,35.6 394.3,36.2 394.5,36.8 394.8,37.4 395.0,38.0 395.2,38.6 395.5,39.2 395.7,39.8 396.0,40.5 396.2,41.1 396.4,41.7 396.7,42.3 396.9,42.9 397.1,43.5 397.4,44.1 397.6,44.7 397.9,45.3 398.1,45.6 398.3,45.8 398.6,46.0 398.8,46.3 399.1,46.5 399.3,46.7 399.5,46.9 399.8,47.1 400.0,47.4 400.2,47.6 400.5,47.8 400.7,48.0 401.0,48.3 401.2,48.5 401.4,48.7 401.7,48.9 401.9,49.1 402.1,49.4 402.4,49.6 402.6,49.8 402.9,50.0 403.1,50.3 403.3,50.5 403.6,50.7 403.8,50.9 404.1,51.1 404.3,51.4 404.5,51.6 404.8,51.8 405.0,52.0 405.2,52.3 405.5,52.5 405.7,52.7 406.0,52.9 406.2,53.2 406.4,53.4 406.7,53.6 406.9,53.8 407.2,54.0 407.4,54.3 407.6,54.5 407.9,54.7 408.1,54.9 408.3,55.2 408.6,55.4 408.8,55.6 409.1,55.8 409.3,56.0 409.5,56.3 409.8,56.5 410.0,56.7 410.2,56.9 410.5,57.2 410.7,57.4 411.0,57.6 411.2,57.8 411.4,58.0 411.7,58.3 411.9,58.5 412.2,58.7 412.4,58.9 412.6,59.2 412.9,59.4 413.1,59.6 413.3,59.8 413.6,60.0 413.8,60.3 414.1,60.5 414.3,60.7 414.5,60.9 414.8,61.2 415.0,61.4 415.2,61.6 415.5,61.8 415.7,62.0 416.0,62.2 416.2,62.5 416.4,62.7 416.7,62.9 416.9,63.1 417.2,63.3 417.4,63.6 417.6,63.8 417.9,64.0 418.1,64.2 418.3,64.4 418.6,64.6 418.8,64.9 419.1,65.1 419.3,65.3 419.5,65.5 419.8,65.7 420.0,65.9 420.3,66.2 420.5,66.4 420.7,66.6 421.0,66.8 421.2,67.0 421.4,67.3 421.7,67.5 421.9,67.7 422.2,67.9 422.4,68.1 422.6,68.3 422.9,68.6 423.1,68.8 423.3,69.0 423.6,69.2 423.8,69.4 424.1,69.6 424.3,69.9 424.5,70.1 424.8,70.3 425.0,70.5 425.3,70.7 425.5,70.9 425.7,71.2 426.0,71.4 426.2,71.6 426.4,71.8 426.7,72.0 426.9,72.3 427.2,72.5 427.4,72.7 427.6,72.9 427.9,73.1 428.1,73.3 428.4,73.6 428.6,73.8 428.8,74.0 429.1,74.2 429.3,74.4 429.5,74.6 429.8,74.9 430.0,75.1 430.3,75.3 430.5,75.5 430.7,75.7 431.0,76.0 431.2,76.2 431.4,76.4 431.7,76.6 431.9,76.8 432.2,77.0 432.4,77.3 432.6,77.5 432.9,77.7 433.1,77.9 433.4,78.1 433.6,78.3 433.8,78.6 434.1,78.8 434.3,79.0 434.5,79.2 434.8,79.4 435.0,79.7 435.3,79.9 435.5,80.1 435.7,80.3 436.0,80.5 436.2,80.7 436.4,81.0 436.7,81.2 436.9,81.4 437.2,81.6 437.4,81.8 437.6,82.0 437.9,82.3 438.1,82.5 438.4,82.7 438.6,82.9 438.8,83.1 439.1,83.4 439.3,83.6 439.5,83.8 439.8,84.0 440.0,84.2 440.3,84.4 440.5,84.7 440.7,84.9 441.0,85.1 441.2,85.3 441.5,85.5 441.7,85.7 441.9,86.0 442.2,86.2 442.4,86.4 442.6,86.6 442.9,86.8 443.1,87.1 443.4,87.3 443.6,87.5 443.8,87.7 444.1,87.9 444.3,88.1 444.5,88.4 444.8,88.6 445.0,88.8 445.3,89.0 445.5,89.2 445.7,89.4 446.0,89.7 446.2,89.9 446.5,90.1 446.7,90.3 446.9,90.5 447.2,90.8 447.4,91.0 447.6,91.2 447.9,91.4 448.1,91.6 448.4,91.8 448.6,92.1 448.8,92.3 449.1,92.5 449.3,92.7 449.6,92.9 449.8,93.1 450.0,93.4 450.3,93.6 450.5,93.8 450.7,94.0 451.0,94.2 451.2,94.4 451.5,94.7 451.7,94.9 451.9,95.1 452.2,95.3 452.4,95.5 452.6,95.8 452.9,96.0 453.1,96.2 453.4,96.4 453.6,96.6 453.8,96.8 454.1,97.1 454.3,97.3 454.6,97.5 454.8,97.7 455.0,97.9 455.3,98.1 455.5,98.4 455.7,98.6 456.0,98.8 456.2,99.0 456.5,99.2 456.7,99.5 456.9,99.7 457.2,99.9 457.4,100.1 457.6,100.3 457.9,100.5 458.1,100.8 458.4,101.0 458.6,101.2 458.8,101.4 459.1,101.6 459.3,101.8 459.6,102.1 459.8,102.3 460.0,102.5 460.3,102.7 460.5,102.9 460.7,103.2 461.0,103.4 461.2,103.6 461.5,103.8 461.7,104.0 461.9,104.2 462.2,104.5 462.4,104.7 462.7,104.9 462.9,105.1 463.1,105.3 463.4,105.5 463.6,105.8 463.8,106.0 464.1,106.2 464.3,106.4 464.6,106.6 464.8,106.9 465.0,107.1 465.3,107.3 465.5,107.6 465.7,107.8 466.0,108.0 466.2,108.2 466.5,108.5 466.7,108.7 466.9,108.9 467.2,109.1 467.4,109.4 467.7,109.6 467.9,109.8 468.1,110.1 468.4,110.3 468.6,110.5 468.8,110.7 469.1,111.0 469.3,111.2 469.6,111.4 469.8,111.6 470.0,111.9 470.3,112.1 470.5,112.3 470.7,112.6 471.0,112.8 471.2,113.0 471.5,113.2 471.7,113.5 471.9,113.7 472.2,113.9 472.4,114.1 472.7,114.4 472.9,114.6 473.1,114.8 473.4,115.1 473.6,115.3 473.8,115.5 474.1,115.7 474.3,116.0 474.6,116.2 474.8,116.4 475.0,116.6 475.3,116.9 475.5,117.1 475.8,117.3 476.0,117.6 476.2,117.8 476.5,118.0 476.7,118.2 476.9,118.5 477.2,118.7 477.4,118.9 477.7,119.1 477.9,119.4 478.1,119.6 478.4,119.8 478.6,120.1 478.8,120.3 479.1,120.5 479.3,120.7 479.6,121.0 479.8,121.2 480.0,121.4 480.3,121.6 480.5,121.9 480.8,122.1 481.0,122.3 481.2,122.6 481.5,122.8 481.7,123.0 481.9,123.2 482.2,123.5 482.4,123.7 482.7,123.9 482.9,124.1 483.1,124.4 483.4,124.6 483.6,124.8 483.9,125.1 484.1,125.3 484.3,125.5 484.6,125.7 484.8,126.0 485.0,126.2 485.3,126.4 485.5,126.6 485.8,126.9 486.0,127.1 486.2,127.3 486.5,127.6 486.7,127.8 486.9,128.0 487.2,128.2 487.4,128.5 487.7,128.7 487.9,128.9 488.1,129.1 488.4,129.4 488.6,129.6 488.9,129.8 489.1,130.1 489.3,130.3 489.6,130.5 489.8,130.7 490.0,131.0 490.3,131.2 490.5,131.4 490.8,131.6 491.0,131.9 491.2,132.1 491.5,132.3 491.7,132.6 491.9,132.8 492.2,133.0 492.4,133.2 492.7,133.5 492.9,133.7 493.1,133.9 493.4,134.1 493.6,134.4 493.9,134.6 494.1,134.8 494.3,135.1 494.6,135.3 494.8,135.5 495.0,135.7 495.3,136.0 495.5,136.2 495.8,136.4 496.0,136.6 496.2,136.9 496.5,137.1 496.7,137.3 497.0,137.5 497.2,137.8 497.4,138.0 497.7,138.2 497.9,138.5 498.1,138.7 498.4,138.9 498.6,139.1 498.9,139.4 499.1,139.6 499.3,139.8 499.6,140.0 499.8,140.3 500.0,140.5 500.3,140.7 500.5,141.0 500.8,141.2 501.0,141.4 501.2,141.6 501.5,141.9 501.7,142.1 502.0,142.3 502.2,142.5 502.4,142.8 502.7,143.0 502.9,143.2 503.1,143.5 503.4,143.7 503.6,143.9 503.9,144.1 504.1,144.4 504.3,144.6 504.6,144.8 504.8,145.0 505.1,145.3 505.3,145.5 505.5,145.7 505.8,146.0 506.0,146.2 506.2,146.4 506.5,146.7 506.7,146.9 507.0,147.1 507.2,147.4 507.4,147.6 507.7,147.8 507.9,148.1 508.1,148.3 508.4,148.5 508.6,148.8 508.9,149.0 509.1,149.2 509.3,149.5 509.6,149.7 509.8,149.9 510.1,150.2 510.3,150.4 510.5,150.6 510.8,150.8 511.0,151.1 511.2,151.3 511.5,151.5 511.7,151.8 512.0,152.0 512.2,152.2 512.4,152.5 512.7,152.7 512.9,152.9 513.1,153.2 513.4,153.4 513.6,153.6 513.9,153.9 514.1,154.1 514.3,154.3 514.6,154.6 514.8,154.8 515.1,155.0 515.3,155.3 515.5,155.5 515.8,155.7 516.0,156.0 516.2,156.2 516.5,156.4 516.7,156.7 517.0,156.9 517.2,157.1 517.4,157.4 517.7,157.6 517.9,157.8 518.2,158.1 518.4,158.3 518.6,158.5 518.9,158.8 519.1,159.0 519.3,159.2 519.6,159.5 519.8,159.7 520.1,159.9 520.3,160.2 520.5,160.4 520.8,160.6 521.0,160.9 521.2,161.1 521.5,161.3 521.7,161.6 522.0,161.8 522.2,162.0 522.4,162.3 522.7,162.5 522.9,162.7 523.2,162.9 523.4,163.2 523.6,163.4 523.9,163.6 524.1,163.9 524.3,164.1 524.6,164.3 524.8,164.6 525.1,164.8 525.3,165.0 525.5,165.3 525.8,165.5 526.0,165.7 526.3,166.0 526.5,166.2 526.7,166.4 527.0,166.7 527.2,166.9 527.4,173.2 527.7,175.4 527.9,171.5 528.2,172.5 528.4,165.7 528.6,167.7 528.9,176.0 529.1,166.8 529.3,179.3 529.6,173.8 529.8,170.9 530.1,171.2 530.3,175.2 530.5,172.5 530.8,170.1 531.0,165.6 531.3,168.9 531.5,169.4 531.7,170.3 532.0,175.8 532.2,168.4 532.4,174.6 532.7,179.7 532.9,171.0 533.2,173.7 533.4,172.2 533.6,173.0 533.9,172.2 534.1,170.7 534.3,172.6 534.6,174.2 534.8,178.2 535.1,169.5 535.3,169.6 535.5,173.0 535.8,171.7 536.0,172.3 536.3,171.1 536.5,167.9 536.7,166.9 537.0,169.8 537.2,166.9 537.4,173.8 537.7,173.1 537.9,177.5 538.2,172.9 538.4,175.3 538.6,173.7 538.9,172.4 539.1,177.4 539.4,169.8 539.6,170.4 539.8,168.2 540.1,178.4 540.3,176.6 540.5,176.2 540.8,169.2 541.0,169.9 541.3,173.7 541.5,170.6 541.7,167.1 542.0,171.8 542.2,173.4 542.4,174.9 542.7,171.2 542.9,169.1 543.2,172.6 543.4,167.2 543.6,171.9 543.9,173.5 544.1,167.1 544.4,171.2 544.6,172.0 544.8,173.1 545.1,172.7 545.3,173.0 545.5,172.4 545.8,169.3 546.0,174.2 546.3,171.6 546.5,173.2 546.7,171.3 547.0,169.0 547.2,170.5 547.5,179.4 547.7,171.4 547.9,171.7 548.2,170.5 548.4,174.1 548.6,174.0 548.9,174.6 549.1,172.3 549.4,170.9 549.6,177.9 549.8,173.7 550.1,170.4 550.3,173.5 550.5,180.0 550.8,177.6 551.0,170.9 551.3,171.9 551.5,166.4 551.7,169.1 552.0,178.1 552.2,172.5 552.5,174.9 552.7,172.6 552.9,173.8 553.2,166.8 553.4,172.0 553.6,175.8 553.9,178.1 554.1,168.7 554.4,175.1 554.6,169.3 554.8,176.2 555.1,168.7 555.3,166.6 555.5,172.2 555.8,178.2 556.0,167.0 556.3,171.3 556.5,173.4 556.7,166.1 557.0,175.6 557.2,173.7 557.5,173.2 557.7,173.2 557.9,171.3 558.2,170.3 558.4,177.0 558.6,168.4 558.9,177.9 559.1,180.9 559.4,174.8 559.6,172.7 559.8,166.5 560.1,173.8 560.3,169.4 560.6,175.5 560.8,175.3 561.0,175.0 561.3,175.0 561.5,168.6 561.7,168.9 562.0,168.2 562.2,173.5 562.5,172.3 562.7,173.3 562.9,172.3 563.2,178.9 563.4,177.2 563.6,171.3 563.9,173.7 564.1,172.2 564.4,169.3 564.6,175.7 564.8,176.8 565.1,172.7 565.3,173.9 565.6,168.7 565.8,172.3 566.0,166.9 566.3,174.9 566.5,171.6 566.7,176.1 567.0,170.1 567.2,171.7 567.5,176.6 567.7,170.5 567.9,173.1 568.2,171.9 568.4,176.0 568.7,166.9 568.9,170.5 569.1,169.2 569.4,168.3 569.6,172.3 569.8,167.7 570.1,172.0 570.3,173.2 570.6,174.1 570.8,174.0 571.0,172.6 571.3,168.8 571.5,167.0 571.7,170.5 572.0,171.5 572.2,179.2 572.5,169.9 572.7,173.5 572.9,174.9 573.2,175.8 573.4,171.0 573.7,176.6 573.9,172.8 574.1,166.9 574.4,175.5 574.6,171.3 574.8,172.4 575.1,174.2 575.3,171.5 575.6,172.1 575.8,171.6 576.0,172.2 576.3,169.3 576.5,172.2 576.7,168.6 577.0,182.5 577.2,176.0 577.5,171.9 577.7,174.1 577.9,174.9 578.2,177.0 578.4,175.4 578.7,172.0 578.9,174.9 579.1,174.6 579.4,171.8 579.6,176.5 579.8,172.2 580.1,168.6 580.3,174.4 580.6,169.3 580.8,171.5 581.0,169.5 581.3,169.7 581.5,173.9 581.8,171.1 582.0,174.0 582.2,168.3 582.5,167.3 582.7,172.4 582.9,168.3 583.2,173.6 583.4,175.6 583.7,176.0 583.9,173.0 584.1,169.8 584.4,170.2 584.6,173.6 584.8,168.1 585.1,171.3 585.3,170.6 585.6,172.1 585.8,173.5 586.0,173.5 586.3,163.9 586.5,175.8 586.8,167.3 587.0,170.1 587.2,175.6 587.5,169.4 587.7,173.7 587.9,175.2 588.2,171.4 588.4,171.1 588.7,163.5 588.9,176.3 589.1,172.9 589.4,170.0 589.6,179.4 589.8,177.3 590.1,166.8 590.3,170.5 590.6,171.1 590.8,176.0 591.0,172.3 591.3,166.9 591.5,168.0 591.8,181.4 592.0,170.4 592.2,172.4 592.5,173.0 592.7,175.0 592.9,167.9 593.2,172.7 593.4,171.2 593.7,175.3 593.9,176.0 594.1,166.9 594.4,175.2 594.6,166.3 594.9,169.4 595.1,169.5 595.3,170.3 595.6,171.5 595.8,173.3 596.0,171.7 596.3,170.3 596.5,174.1 596.8,170.5 597.0,174.1 597.2,169.3 597.5,175.2 597.7,175.0 597.9,168.7 598.2,173.3 598.4,178.9 598.7,175.0 598.9,174.0 599.1,170.5 599.4,167.4 599.6,169.1 599.9,171.9 600.1,172.3 600.3,169.1 600.6,175.1 600.8,171.3 601.0,174.3 601.3,171.6 601.5,174.0 601.8,170.0 602.0,167.4 602.2,172.3 602.5,176.3 602.7,170.1 603.0,172.5 603.2,172.8 603.4,172.2 603.7,174.8 603.9,172.4 604.1,167.6 604.4,178.4 604.6,172.1 604.9,173.4 605.1,171.5 605.3,171.2 605.6,170.4 605.8,172.1 606.0,174.0 606.3,174.1 606.5,170.3 606.8,176.3 607.0,169.8 607.2,171.5 607.5,173.5 607.7,169.1 608.0,173.2 608.2,171.0 608.4,168.6 608.7,169.7 608.9,168.2 609.1,170.8 609.4,170.0 609.6,169.9 609.9,169.7 610.1,168.6 610.3,174.5 610.6,168.1 610.8,174.3 611.0,170.1 611.3,171.3 611.5,168.1 611.8,169.7 612.0,174.1 612.2,177.0 612.5,171.1 612.7,169.5 613.0,176.7 613.2,173.5 613.4,174.0 613.7,169.8 613.9,174.8 614.1,169.6 614.4,175.9 614.6,173.5 614.9,168.6 615.1,173.1 615.3,166.1 615.6,172.0 615.8,171.1 616.1,177.3 616.3,175.4 616.5,175.8 616.8,169.3 617.0,170.6 617.2,168.6 617.5,169.9 617.7,177.5 618.0,170.3 618.2,173.1 618.4,171.7 618.7,171.2 618.9,174.1 619.1,174.0 619.4,168.0 619.6,176.6 619.9,171.0 620.1,174.5 620.3,166.4 620.6,168.4 620.8,175.7 621.1,178.1 621.3,173.4 621.5,172.2 621.8,175.1 622.0,173.5 622.2,166.2 622.5,170.7 622.7,176.1 623.0,174.1 623.2,172.2 623.4,173.0 623.7,172.0 623.9,172.3 624.2,169.8 624.4,175.4 624.6,170.2 624.9,173.3 625.1,172.4 625.3,173.8 625.6,172.5 625.8,168.6 626.1,177.3 626.3,170.0 626.5,177.4 626.8,172.1 627.0,174.2 627.2,170.8 627.5,175.4 627.7,165.6" fill="none" stroke="#d62728" stroke-width="1.7" stroke-linejoin="round"/>
<path d="M388.55,36.2 h1.9 v1.85 h1.85 v1.9 h-1.85 v1.85 h-1.9 v-1.85 h-1.85 v-1.9 h1.85 Z" fill="#d62728"/>
<path d="M396.83,42.3 h1.9 v1.85 h1.85 v1.9 h-1.85 v1.85 h-1.9 v-1.85 h-1.85 v-1.9 h1.85 Z" fill="#d62728"/>
<path d="M405.12,50.23 h1.9 v1.85 h1.85 v1.9 h-1.85 v1.85 h-1.9 v-1.85 h-1.85 v-1.9 h1.85 Z" fill="#d62728"/>
<path d="M413.4,57.97 h1.9 v1.85 h1.85 v1.9 h-1.85 v1.85 h-1.9 v-1.85 h-1.85 v-1.9 h1.85 Z" fill="#d62728"/>
<path d="M421.69,65.54 h1.9 v1.85 h1.85 v1.9 h-1.85 v1.85 h-1.9 v-1.85 h-1.85 v-1.9 h1.85 Z" fill="#d62728"/>
<path d="M429.97,73.11 h1.9 v1.85 h1.85 v1.9 h-1.85 v1.85 h-1.9 v-1.85 h-1.85 v-1.9 h1.85 Z" fill="#d62728"/>
<path d="M438.25,80.68 h1.9 v1.85 h1.85 v1.9 h-1.85 v1.85 h-1.9 v-1.85 h-1.85 v-1.9 h1.85 Z" fill="#d62728"/>
<path d="M446.54,88.24 h1.9 v1.85 h1.85 v1.9 h-1.85 v1.85 h-1.9 v-1.85 h-1.85 v-1.9 h1.85 Z" fill="#d62728"/>
<path d="M454.82,95.81 h1.9 v1.85 h1.85 v1.9 h-1.85 v1.85 h-1.9 v-1.85 h-1.85 v-1.9 h1.85 Z" fill="#d62728"/>
<path d="M463.11,103.38 h1.9 v1.85 h1.85 v1.9 h-1.85 v1.85 h-1.9 v-1.85 h-1.85 v-1.9 h1.85 Z" fill="#d62728"/>
<path d="M471.39,111.27 h1.9 v1.85 h1.85 v1.9 h-1.85 v1.85 h-1.9 v-1.85 h-1.85 v-1.9 h1.85 Z" fill="#d62728"/>
<path d="M479.67,119.17 h1.9 v1.85 h1.85 v1.9 h-1.85 v1.85 h-1.9 v-1.85 h-1.85 v-1.9 h1.85 Z" fill="#d62728"/>
<path d="M487.96,127.08 h1.9 v1.85 h1.85 v1.9 h-1.85 v1.85 h-1.9 v-1.85 h-1.85 v-1.9 h1.85 Z" fill="#d62728"/>
<path d="M496.24,134.98 h1.9 v1.85 h1.85 v1.9 h-1.85 v1.85 h-1.9 v-1.85 h-1.85 v-1.9 h1.85 Z" fill="#d62728"/>
<path d="M504.53,142.88 h1.9 v1.85 h1.85 v1.9 h-1.85 v1.85 h-1.9 v-1.85 h-1.85 v-1.9 h1.85 Z" fill="#d62728"/>
<path d="M512.81,150.97 h1.9 v1.85 h1.85 v1.9 h-1.85 v1.85 h-1.9 v-1.85 h-1.85 v-1.9 h1.85 Z" fill="#d62728"/>
<path d="M521.09,159.07 h1.9 v1.85 h1.85 v1.9 h-1.85 v1.85 h-1.9 v-1.85 h-1.85 v-1.9 h1.85 Z" fill="#d62728"/>
<path d="M529.38,172.35 h1.9 v1.85 h1.85 v1.9 h-1.85 v1.85 h-1.9 v-1.85 h-1.85 v-1.9 h1.85 Z" fill="#d62728"/>
<path d="M537.66,171.91 h1.9 v1.85 h1.85 v1.9 h-1.85 v1.85 h-1.9 v-1.85 h-1.85 v-1.9 h1.85 Z" fill="#d62728"/>
<path d="M545.95,173.75 h1.9 v1.85 h1.85 v1.9 h-1.85 v1.85 h-1.9 v-1.85 h-1.85 v-1.9 h1.85 Z" fill="#d62728"/>
<path d="M554.23,172.09 h1.9 v1.85 h1.85 v1.9 h-1.85 v1.85 h-1.9 v-1.85 h-1.85 v-1.9 h1.85 Z" fill="#d62728"/>
<path d="M562.51,171.12 h1.9 v1.85 h1.85 v1.9 h-1.85 v1.85 h-1.9 v-1.85 h-1.85 v-1.9 h1.85 Z" fill="#d62728"/>
<path d="M570.8,165.05 h1.9 v1.85 h1.85 v1.9 h-1.85 v1.85 h-1.9 v-1.85 h-1.85 v-1.9 h1.85 Z" fill="#d62728"/>
<path d="M579.08,169.38 h1.9 v1.85 h1.85 v1.9 h-1.85 v1.85 h-1.9 v-1.85 h-1.85 v-1.9 h1.85 Z" fill="#d62728"/>
<path d="M587.37,167.63 h1.9 v1.85 h1.85 v1.9 h-1.85 v1.85 h-1.9 v-1.85 h-1.85 v-1.9 h1.85 Z" fill="#d62728"/>
<path d="M595.65,167.34 h1.9 v1.85 h1.85 v1.9 h-1.85 v1.85 h-1.9 v-1.85 h-1.85 v-1.9 h1.85 Z" fill="#d62728"/>
<path d="M603.93,167.89 h1.9 v1.85 h1.85 v1.9 h-1.85 v1.85 h-1.9 v-1.85 h-1.85 v-1.9 h1.85 Z" fill="#d62728"/>
<path d="M612.22,171.73 h1.9 v1.85 h1.85 v1.9 h-1.85 v1.85 h-1.9 v-1.85 h-1.85 v-1.9 h1.85 Z" fill="#d62728"/>
<path d="M620.5,167.31 h1.9 v1.85 h1.85 v1.9 h-1.85 v1.85 h-1.9 v-1.85 h-1.85 v-1.9 h1.85 Z" fill="#d62728"/>
<polyline points="389.5,39.0 390.0,28.0 390.2,28.2 390.5,28.3 390.7,28.5 391.0,28.7 391.2,28.9 391.4,29.0 391.7,29.2 391.9,29.4 392.1,29.5 392.4,29.7 392.6,29.9 392.9,30.1 393.1,30.2 393.3,30.4 393.6,30.6 393.8,30.7 394.0,30.9 394.3,31.1 394.5,31.3 394.8,31.4 395.0,31.6 395.2,31.8 395.5,31.9 395.7,32.1 396.0,32.3 396.2,32.5 396.4,32.6 396.7,32.8 396.9,33.0 397.1,33.1 397.4,33.3 397.6,33.4 397.9,33.5 398.1,33.6 398.3,33.7 398.6,33.7 398.8,33.8 399.1,33.9 399.3,34.0 399.5,34.1 399.8,34.1 400.0,34.2 400.2,34.3 400.5,34.4 400.7,34.4 401.0,34.5 401.2,34.6 401.4,34.7 401.7,34.7 401.9,34.8 402.1,34.9 402.4,35.0 402.6,35.0 402.9,35.1 403.1,35.2 403.3,35.3 403.6,35.4 403.8,35.4 404.1,35.5 404.3,35.6 404.5,35.7 404.8,35.7 405.0,35.8 405.2,35.9 405.5,36.0 405.7,36.0 406.0,36.1 406.2,36.2 406.4,36.3 406.7,36.4 406.9,36.4 407.2,36.5 407.4,36.6 407.6,36.7 407.9,36.7 408.1,36.8 408.3,36.9 408.6,37.0 408.8,37.0 409.1,37.1 409.3,37.2 409.5,37.3 409.8,37.3 410.0,37.4 410.2,37.5 410.5,37.6 410.7,37.7 411.0,37.7 411.2,37.8 411.4,37.9 411.7,38.0 411.9,38.0 412.2,38.1 412.4,38.2 412.6,38.3 412.9,38.3 413.1,38.4 413.3,38.5 413.6,38.6 413.8,38.6 414.1,38.7 414.3,38.8 414.5,38.9 414.8,38.9 415.0,39.0 415.2,39.0 415.5,39.1 415.7,39.2 416.0,39.2 416.2,39.3 416.4,39.3 416.7,39.4 416.9,39.4 417.2,39.5 417.4,39.5 417.6,39.6 417.9,39.6 418.1,39.7 418.3,39.8 418.6,39.8 418.8,39.9 419.1,39.9 419.3,40.0 419.5,40.0 419.8,40.1 420.0,40.1 420.3,40.2 420.5,40.2 420.7,40.3 421.0,40.4 421.2,40.4 421.4,40.5 421.7,40.5 421.9,40.6 422.2,40.6 422.4,40.7 422.6,40.7 422.9,40.8 423.1,40.8 423.3,40.9 423.6,40.9 423.8,41.0 424.1,41.1 424.3,41.1 424.5,41.2 424.8,41.2 425.0,41.3 425.3,41.3 425.5,41.4 425.7,41.4 426.0,41.5 426.2,41.5 426.4,41.6 426.7,41.7 426.9,41.7 427.2,41.8 427.4,41.8 427.6,41.9 427.9,41.9 428.1,42.0 428.4,42.0 428.6,42.1 428.8,42.1 429.1,42.2 429.3,42.3 429.5,42.3 429.8,42.4 430.0,42.4 430.3,42.5 430.5,42.5 430.7,42.6 431.0,42.6 431.2,42.7 431.4,42.7 431.7,42.8 431.9,42.8 432.2,42.9 432.4,43.0 432.6,43.0 432.9,43.1 433.1,43.1 433.4,43.2 433.6,43.2 433.8,43.3 434.1,43.3 434.3,43.4 434.5,43.4 434.8,43.5 435.0,43.6 435.3,43.6 435.5,43.7 435.7,43.7 436.0,43.8 436.2,43.8 436.4,43.9 436.7,43.9 436.9,44.0 437.2,44.0 437.4,44.1 437.6,44.2 437.9,44.2 438.1,44.3 438.4,44.3 438.6,44.4 438.8,44.4 439.1,44.5 439.3,44.5 439.5,44.6 439.8,44.6 440.0,44.7 440.3,44.7 440.5,44.8 440.7,44.9 441.0,44.9 441.2,45.0 441.5,45.0 441.7,45.1 441.9,45.1 442.2,45.2 442.4,45.2 442.6,45.3 442.9,45.3 443.1,45.4 443.4,45.5 443.6,45.5 443.8,45.6 444.1,45.6 444.3,45.7 444.5,45.7 444.8,45.8 445.0,45.8 445.3,45.9 445.5,45.9 445.7,46.0 446.0,46.1 446.2,46.1 446.5,46.2 446.7,46.2 446.9,46.3 447.2,46.3 447.4,46.4 447.6,46.4 447.9,46.5 448.1,46.5 448.4,46.5 448.6,46.6 448.8,46.6 449.1,46.7 449.3,46.7 449.6,46.7 449.8,46.8 450.0,46.8 450.3,46.9 450.5,46.9 450.7,46.9 451.0,47.0 451.2,47.0 451.5,47.1 451.7,47.1 451.9,47.1 452.2,47.2 452.4,47.2 452.6,47.3 452.9,47.3 453.1,47.3 453.4,47.4 453.6,47.4 453.8,47.5 454.1,47.5 454.3,47.5 454.6,47.6 454.8,47.6 455.0,47.7 455.3,47.7 455.5,47.8 455.7,47.8 456.0,47.8 456.2,47.9 456.5,47.9 456.7,48.0 456.9,48.0 457.2,48.0 457.4,48.1 457.6,48.1 457.9,48.2 458.1,48.2 458.4,48.2 458.6,48.3 458.8,48.3 459.1,48.4 459.3,48.4 459.6,48.4 459.8,48.5 460.0,48.5 460.3,48.6 460.5,48.6 460.7,48.6 461.0,48.7 461.2,48.7 461.5,48.8 461.7,48.8 461.9,48.8 462.2,48.9 462.4,48.9 462.7,49.0 462.9,49.0 463.1,49.0 463.4,49.1 463.6,49.1 463.8,49.2 464.1,49.2 464.3,49.2 464.6,49.3 464.8,49.3 465.0,49.4 465.3,49.4 465.5,49.4 465.7,49.5 466.0,49.5 466.2,49.6 466.5,49.6 466.7,49.6 466.9,49.7 467.2,49.7 467.4,49.8 467.7,49.8 467.9,49.8 468.1,49.9 468.4,49.9 468.6,50.0 468.8,50.0 469.1,50.0 469.3,50.1 469.6,50.1 469.8,50.2 470.0,50.2 470.3,50.2 470.5,50.3 470.7,50.3 471.0,50.4 471.2,50.4 471.5,50.4 471.7,50.5 471.9,50.5 472.2,50.6 472.4,50.6 472.7,50.6 472.9,50.7 473.1,50.7 473.4,50.8 473.6,50.8 473.8,50.8 474.1,50.9 474.3,50.9 474.6,51.0 474.8,51.0 475.0,51.0 475.3,51.1 475.5,51.1 475.8,51.2 476.0,51.2 476.2,51.2 476.5,51.3 476.7,51.3 476.9,51.4 477.2,51.4 477.4,51.4 477.7,51.5 477.9,51.5 478.1,51.6 478.4,51.6 478.6,51.6 478.8,51.7 479.1,51.7 479.3,51.8 479.6,51.8 479.8,51.8 480.0,51.9 480.3,51.9 480.5,52.0 480.8,52.0 481.0,52.0 481.2,52.1 481.5,52.1 481.7,52.2 481.9,52.2 482.2,52.3 482.4,52.3 482.7,52.3 482.9,52.4 483.1,52.4 483.4,52.5 483.6,52.5 483.9,52.5 484.1,52.6 484.3,52.6 484.6,52.7 484.8,52.7 485.0,52.7 485.3,52.8 485.5,52.8 485.8,52.9 486.0,52.9 486.2,52.9 486.5,53.0 486.7,53.0 486.9,53.1 487.2,53.1 487.4,53.1 487.7,53.2 487.9,53.2 488.1,53.3 488.4,53.3 488.6,53.3 488.9,53.4 489.1,53.4 489.3,53.5 489.6,53.5 489.8,53.5 490.0,53.6 490.3,53.6 490.5,53.7 490.8,53.7 491.0,53.7 491.2,53.8 491.5,53.8 491.7,53.9 491.9,53.9 492.2,53.9 492.4,54.0 492.7,54.0 492.9,54.1 493.1,54.1 493.4,54.1 493.6,54.2 493.9,54.2 494.1,54.3 494.3,54.3 494.6,54.3 494.8,54.4 495.0,54.4 495.3,54.5 495.5,54.5 495.8,54.5 496.0,54.6 496.2,54.6 496.5,54.7 496.7,54.7 497.0,54.7 497.2,54.8 497.4,54.8 497.7,54.9 497.9,54.9 498.1,54.9 498.4,55.0 498.6,55.0 498.9,55.1 499.1,55.1 499.3,55.1 499.6,55.2 499.8,55.2 500.0,55.3 500.3,55.3 500.5,55.3 500.8,55.4 501.0,55.4 501.2,55.5 501.5,55.5 501.7,55.5 502.0,55.6 502.2,55.6 502.4,55.7 502.7,55.7 502.9,55.7 503.1,55.8 503.4,55.8 503.6,55.9 503.9,55.9 504.1,55.9 504.3,56.0 504.6,56.0 504.8,56.1 505.1,56.1 505.3,56.1 505.5,56.2 505.8,56.2 506.0,56.3 506.2,56.3 506.5,56.3 506.7,56.4 507.0,56.4 507.2,56.4 507.4,56.5 507.7,56.5 507.9,56.6 508.1,56.6 508.4,56.6 508.6,56.7 508.9,56.7 509.1,56.7 509.3,56.8 509.6,56.8 509.8,56.8 510.1,56.9 510.3,56.9 510.5,57.0 510.8,57.0 511.0,57.0 511.2,57.1 511.5,57.1 511.7,57.1 512.0,57.2 512.2,57.2 512.4,57.2 512.7,57.3 512.9,57.3 513.1,57.4 513.4,57.4 513.6,57.4 513.9,57.5 514.1,57.5 514.3,57.5 514.6,57.6 514.8,57.6 515.1,57.6 515.3,57.7 515.5,57.7 515.8,57.8 516.0,57.8 516.2,57.8 516.5,57.9 516.7,57.9 517.0,57.9 517.2,58.0 517.4,58.0 517.7,58.0 517.9,58.1 518.2,58.1 518.4,58.2 518.6,58.2 518.9,58.2 519.1,58.3 519.3,58.3 519.6,58.3 519.8,58.4 520.1,58.4 520.3,58.4 520.5,58.5 520.8,58.5 521.0,58.6 521.2,58.6 521.5,58.6 521.7,58.7 522.0,58.7 522.2,58.7 522.4,58.8 522.7,58.8 522.9,58.9 523.2,58.9 523.4,58.9 523.6,59.0 523.9,59.0 524.1,59.0 524.3,59.1 524.6,59.1 524.8,59.1 525.1,59.2 525.3,59.2 525.5,59.3 525.8,59.3 526.0,59.3 526.3,59.4 526.5,59.4 526.7,59.4 527.0,59.5 527.2,59.5 527.4,59.5 527.7,59.6 527.9,59.6 528.2,59.7 528.4,59.7 528.6,59.7 528.9,59.8 529.1,59.8 529.3,59.8 529.6,59.9 529.8,59.9 530.1,59.9 530.3,60.0 530.5,60.0 530.8,60.1 531.0,60.1 531.3,60.1 531.5,60.2 531.7,60.2 532.0,60.2 532.2,60.3 532.4,60.3 532.7,60.3 532.9,60.4 533.2,60.4 533.4,60.5 533.6,60.5 533.9,60.5 534.1,60.6 534.3,60.6 534.6,60.6 534.8,60.7 535.1,60.7 535.3,60.7 535.5,60.8 535.8,60.8 536.0,60.9 536.3,60.9 536.5,60.9 536.7,61.0 537.0,61.0 537.2,61.0 537.4,61.1 537.7,61.1 537.9,61.1 538.2,61.2 538.4,61.2 538.6,61.3 538.9,61.3 539.1,61.3 539.4,61.4 539.6,61.4 539.8,61.4 540.1,61.5 540.3,61.5 540.5,61.5 540.8,61.6 541.0,61.6 541.3,61.7 541.5,61.7 541.7,61.7 542.0,61.8 542.2,61.8 542.4,61.8 542.7,61.9 542.9,61.9 543.2,61.9 543.4,62.0 543.6,62.0 543.9,62.1 544.1,62.1 544.4,62.1 544.6,62.2 544.8,62.2 545.1,62.2 545.3,62.3 545.5,62.3 545.8,62.4 546.0,62.4 546.3,62.4 546.5,62.5 546.7,62.5 547.0,62.5 547.2,62.6 547.5,62.6 547.7,62.6 547.9,62.7 548.2,62.7 548.4,62.8 548.6,62.8 548.9,62.8 549.1,62.9 549.4,62.9 549.6,62.9 549.8,63.0 550.1,63.0 550.3,63.0 550.5,63.1 550.8,63.1 551.0,63.2 551.3,63.2 551.5,63.2 551.7,63.3 552.0,63.3 552.2,63.3 552.5,63.4 552.7,63.4 552.9,63.4 553.2,63.5 553.4,63.5 553.6,63.6 553.9,63.6 554.1,63.6 554.4,63.7 554.6,63.7 554.8,63.7 555.1,63.8 555.3,63.8 555.5,63.8 555.8,63.9 556.0,63.9 556.3,64.0 556.5,64.0 556.7,64.0 557.0,64.1 557.2,64.1 557.5,64.1 557.7,64.2 557.9,64.2 558.2,64.2 558.4,64.3 558.6,64.3 558.9,64.4 559.1,64.4 559.4,64.4 559.6,64.5 559.8,64.5 560.1,64.5 560.3,64.6 560.6,64.6 560.8,64.6 561.0,64.7 561.3,64.7 561.5,64.8 561.7,64.8 562.0,64.8 562.2,64.9 562.5,64.9 562.7,64.9 562.9,65.0 563.2,65.0 563.4,65.0 563.6,65.1 563.9,65.1 564.1,65.2 564.4,65.2 564.6,65.2 564.8,65.3 565.1,65.3 565.3,65.4 565.6,65.4 565.8,65.4 566.0,65.5 566.3,65.5 566.5,65.6 566.7,65.6 567.0,65.6 567.2,65.7 567.5,65.7 567.7,65.8 567.9,65.8 568.2,65.8 568.4,65.9 568.7,65.9 568.9,66.0 569.1,66.0 569.4,66.0 569.6,66.1 569.8,66.1 570.1,66.2 570.3,66.2 570.6,66.2 570.8,66.3 571.0,66.3 571.3,66.4 571.5,66.4 571.7,66.4 572.0,66.5 572.2,66.5 572.5,66.6 572.7,66.6 572.9,66.6 573.2,66.7 573.4,66.7 573.7,66.8 573.9,66.8 574.1,66.8 574.4,66.9 574.6,66.9 574.8,67.0 575.1,67.0 575.3,67.0 575.6,67.1 575.8,67.1 576.0,67.2 576.3,67.2 576.5,67.2 576.7,67.3 577.0,67.3 577.2,67.4 577.5,67.4 577.7,67.4 577.9,67.5 578.2,67.5 578.4,67.6 578.7,67.6 578.9,67.6 579.1,67.7 579.4,67.7 579.6,67.8 579.8,67.8 580.1,67.8 580.3,67.9 580.6,67.9 580.8,68.0 581.0,68.0 581.3,68.0 581.5,68.1 581.8,68.1 582.0,68.2 582.2,68.2 582.5,68.2 582.7,68.3 582.9,68.3 583.2,68.4 583.4,68.4 583.7,68.4 583.9,68.5 584.1,68.5 584.4,68.6 584.6,68.6 584.8,68.6 585.1,68.7 585.3,68.7 585.6,68.8 585.8,68.8 586.0,68.8 586.3,68.9 586.5,68.9 586.8,69.0 587.0,69.0 587.2,69.0 587.5,69.1 587.7,69.1 587.9,69.2 588.2,69.2 588.4,69.2 588.7,69.3 588.9,69.3 589.1,69.4 589.4,69.4 589.6,69.4 589.8,69.5 590.1,69.5 590.3,69.6 590.6,69.6 590.8,69.6 591.0,69.7 591.3,69.7 591.5,69.8 591.8,69.8 592.0,69.8 592.2,69.9 592.5,69.9 592.7,70.0 592.9,70.0 593.2,70.0 593.4,70.1 593.7,70.1 593.9,70.2 594.1,70.2 594.4,70.2 594.6,70.3 594.9,70.3 595.1,70.4 595.3,70.4 595.6,70.4 595.8,70.5 596.0,70.5 596.3,70.6 596.5,70.6 596.8,70.6 597.0,70.7 597.2,70.7 597.5,70.8 597.7,70.8 597.9,70.8 598.2,70.9 598.4,70.9 598.7,71.0 598.9,71.0 599.1,71.0 599.4,71.0 599.6,71.1 599.9,71.1 600.1,71.1 600.3,71.2 600.6,71.2 600.8,71.2 601.0,71.3 601.3,71.3 601.5,71.3 601.8,71.4 602.0,71.4 602.2,71.4 602.5,71.5 602.7,71.5 603.0,71.5 603.2,71.6 603.4,71.6 603.7,71.6 603.9,71.7 604.1,71.7 604.4,71.7 604.6,71.8 604.9,71.8 605.1,71.8 605.3,71.9 605.6,71.9 605.8,71.9 606.0,72.0 606.3,72.0 606.5,72.0 606.8,72.1 607.0,72.1 607.2,72.1 607.5,72.2 607.7,72.2 608.0,72.2 608.2,72.3 608.4,72.3 608.7,72.3 608.9,72.4 609.1,72.4 609.4,72.4 609.6,72.5 609.9,72.5 610.1,72.5 610.3,72.6 610.6,72.6 610.8,72.6 611.0,72.7 611.3,72.7 611.5,72.7 611.8,72.8 612.0,72.8 612.2,72.8 612.5,72.9 612.7,72.9 613.0,72.9 613.2,73.0 613.4,73.0 613.7,73.0 613.9,73.1 614.1,73.1 614.4,73.1 614.6,73.2 614.9,73.2 615.1,73.2 615.3,73.3 615.6,73.3 615.8,73.3 616.1,73.4 616.3,73.4 616.5,73.4 616.8,73.5 617.0,73.5 617.2,73.5 617.5,73.6 617.7,73.6 618.0,73.6 618.2,73.7 618.4,73.7 618.7,73.7 618.9,73.8 619.1,73.8 619.4,73.8 619.6,73.9 619.9,73.9 620.1,73.9 620.3,74.0 620.6,74.0 620.8,74.0 621.1,74.1 621.3,74.1 621.5,74.1 621.8,74.2 622.0,74.2 622.2,74.2 622.5,74.2 622.7,74.3 623.0,74.3 623.2,74.3 623.4,74.4 623.7,74.4 623.9,74.4 624.2,74.5 624.4,74.5 624.6,74.5 624.9,74.6 625.1,74.6 625.3,74.6 625.6,74.7 625.8,74.7 626.1,74.7 626.3,74.8 626.5,74.8 626.8,74.8 627.0,74.9 627.2,74.9 627.5,74.9 627.7,75.0" fill="none" stroke="#9467bd" stroke-width="1.7" stroke-linejoin="round"/>
<circle cx="389.5" cy="39" r="2.65" fill="#9467bd"/>
<circle cx="397.78" cy="33.49" r="2.65" fill="#9467bd"/>
<circle cx="406.07" cy="36.16" r="2.65" fill="#9467bd"/>
<circle cx="414.35" cy="38.82" r="2.65" fill="#9467bd"/>
<circle cx="422.64" cy="40.73" r="2.65" fill="#9467bd"/>
<circle cx="430.92" cy="42.62" r="2.65" fill="#9467bd"/>
<circle cx="439.2" cy="44.51" r="2.65" fill="#9467bd"/>
<circle cx="447.49" cy="46.4" r="2.65" fill="#9467bd"/>
<circle cx="455.77" cy="47.8" r="2.65" fill="#9467bd"/>
<circle cx="464.06" cy="49.19" r="2.65" fill="#9467bd"/>
<circle cx="472.34" cy="50.59" r="2.65" fill="#9467bd"/>
<circle cx="480.62" cy="51.99" r="2.65" fill="#9467bd"/>
<circle cx="488.91" cy="53.38" r="2.65" fill="#9467bd"/>
<circle cx="497.19" cy="54.78" r="2.65" fill="#9467bd"/>
<circle cx="505.48" cy="56.18" r="2.65" fill="#9467bd"/>
<circle cx="513.76" cy="57.45" r="2.65" fill="#9467bd"/>
<circle cx="522.04" cy="58.72" r="2.65" fill="#9467bd"/>
<circle cx="530.33" cy="59.98" r="2.65" fill="#9467bd"/>
<circle cx="538.61" cy="61.25" r="2.65" fill="#9467bd"/>
<circle cx="546.9" cy="62.52" r="2.65" fill="#9467bd"/>
<circle cx="555.18" cy="63.79" r="2.65" fill="#9467bd"/>
<circle cx="563.46" cy="65.06" r="2.65" fill="#9467bd"/>
<circle cx="571.75" cy="66.44" r="2.65" fill="#9467bd"/>
<circle cx="580.03" cy="67.83" r="2.65" fill="#9467bd"/>
<circle cx="588.32" cy="69.22" r="2.65" fill="#9467bd"/>
<circle cx="596.6" cy="70.61" r="2.65" fill="#9467bd"/>
<circle cx="604.88" cy="71.81" r="2.65" fill="#9467bd"/>
<circle cx="613.17" cy="72.96" r="2.65" fill="#9467bd"/>
<circle cx="621.45" cy="74.11" r="2.65" fill="#9467bd"/>
<polyline points="389.5,38.3 390.0,33.0 390.2,33.2 390.5,33.4 390.7,33.6 391.0,33.8 391.2,34.1 391.4,34.3 391.7,34.5 391.9,34.7 392.1,34.9 392.4,35.1 392.6,35.3 392.9,35.5 393.1,35.7 393.3,36.0 393.6,36.2 393.8,36.4 394.0,36.6 394.3,36.8 394.5,37.0 394.8,37.2 395.0,37.4 395.2,37.6 395.5,37.9 395.7,38.1 396.0,38.3 396.2,38.5 396.4,38.7 396.7,38.9 396.9,39.1 397.1,39.3 397.4,39.5 397.6,39.8 397.9,40.0 398.1,40.1 398.3,40.3 398.6,40.5 398.8,40.7 399.1,40.8 399.3,41.0 399.5,41.2 399.8,41.4 400.0,41.5 400.2,41.7 400.5,41.9 400.7,42.1 401.0,42.2 401.2,42.4 401.4,42.6 401.7,42.8 401.9,42.9 402.1,43.1 402.4,43.3 402.6,43.5 402.9,43.6 403.1,43.8 403.3,44.0 403.6,44.2 403.8,44.3 404.1,44.5 404.3,44.7 404.5,44.9 404.8,45.0 405.0,45.2 405.2,45.4 405.5,45.6 405.7,45.7 406.0,45.9 406.2,46.1 406.4,46.3 406.7,46.4 406.9,46.6 407.2,46.8 407.4,47.0 407.6,47.1 407.9,47.3 408.1,47.5 408.3,47.7 408.6,47.8 408.8,48.0 409.1,48.2 409.3,48.4 409.5,48.5 409.8,48.7 410.0,48.9 410.2,49.1 410.5,49.2 410.7,49.4 411.0,49.6 411.2,49.8 411.4,49.9 411.7,50.1 411.9,50.3 412.2,50.5 412.4,50.6 412.6,50.8 412.9,51.0 413.1,51.2 413.3,51.3 413.6,51.5 413.8,51.7 414.1,51.9 414.3,52.0 414.5,52.2 414.8,52.4 415.0,52.6 415.2,52.7 415.5,52.9 415.7,53.1 416.0,53.3 416.2,53.4 416.4,53.6 416.7,53.8 416.9,54.0 417.2,54.1 417.4,54.3 417.6,54.5 417.9,54.7 418.1,54.8 418.3,55.0 418.6,55.2 418.8,55.4 419.1,55.5 419.3,55.7 419.5,55.9 419.8,56.1 420.0,56.2 420.3,56.4 420.5,56.6 420.7,56.8 421.0,56.9 421.2,57.1 421.4,57.3 421.7,57.5 421.9,57.6 422.2,57.8 422.4,58.0 422.6,58.2 422.9,58.3 423.1,58.4 423.3,58.6 423.6,58.7 423.8,58.9 424.1,59.0 424.3,59.1 424.5,59.3 424.8,59.4 425.0,59.6 425.3,59.7 425.5,59.8 425.7,60.0 426.0,60.1 426.2,60.3 426.4,60.4 426.7,60.5 426.9,60.7 427.2,60.8 427.4,61.0 427.6,61.1 427.9,61.2 428.1,61.4 428.4,61.5 428.6,61.7 428.8,61.8 429.1,61.9 429.3,62.1 429.5,62.2 429.8,62.4 430.0,62.5 430.3,62.6 430.5,62.8 430.7,62.9 431.0,63.1 431.2,63.2 431.4,63.3 431.7,63.5 431.9,63.6 432.2,63.8 432.4,63.9 432.6,64.0 432.9,64.2 433.1,64.3 433.4,64.5 433.6,64.6 433.8,64.7 434.1,64.9 434.3,65.0 434.5,65.2 434.8,65.3 435.0,65.4 435.3,65.6 435.5,65.7 435.7,65.9 436.0,66.0 436.2,66.1 436.4,66.3 436.7,66.4 436.9,66.6 437.2,66.7 437.4,66.8 437.6,67.0 437.9,67.1 438.1,67.3 438.4,67.4 438.6,67.5 438.8,67.7 439.1,67.8 439.3,68.0 439.5,68.1 439.8,68.2 440.0,68.4 440.3,68.5 440.5,68.7 440.7,68.8 441.0,68.9 441.2,69.1 441.5,69.2 441.7,69.4 441.9,69.5 442.2,69.6 442.4,69.8 442.6,69.9 442.9,70.1 443.1,70.2 443.4,70.3 443.6,70.5 443.8,70.6 444.1,70.7 444.3,70.9 444.5,71.0 444.8,71.2 445.0,71.3 445.3,71.4 445.5,71.6 445.7,71.7 446.0,71.9 446.2,72.0 446.5,72.1 446.7,72.3 446.9,72.4 447.2,72.6 447.4,72.7 447.6,72.8 447.9,73.0 448.1,73.1 448.4,73.3 448.6,73.4 448.8,73.5 449.1,73.7 449.3,73.8 449.6,74.0 449.8,74.1 450.0,74.2 450.3,74.4 450.5,74.5 450.7,74.7 451.0,74.8 451.2,74.9 451.5,75.1 451.7,75.2 451.9,75.4 452.2,75.5 452.4,75.6 452.6,75.8 452.9,75.9 453.1,76.1 453.4,76.2 453.6,76.3 453.8,76.5 454.1,76.6 454.3,76.8 454.6,76.9 454.8,77.0 455.0,77.2 455.3,77.3 455.5,77.5 455.7,77.6 456.0,77.7 456.2,77.9 456.5,78.0 456.7,78.2 456.9,78.3 457.2,78.4 457.4,78.6 457.6,78.7 457.9,78.9 458.1,79.0 458.4,79.1 458.6,79.3 458.8,79.4 459.1,79.6 459.3,79.7 459.6,79.8 459.8,80.0 460.0,80.1 460.3,80.3 460.5,80.4 460.7,80.5 461.0,80.7 461.2,80.8 461.5,81.0 461.7,81.1 461.9,81.2 462.2,81.4 462.4,81.5 462.7,81.7 462.9,81.8 463.1,81.9 463.4,82.1 463.6,82.2 463.8,82.4 464.1,82.5 464.3,82.6 464.6,82.8 464.8,82.9 465.0,83.1 465.3,83.2 465.5,83.3 465.7,83.5 466.0,83.6 466.2,83.8 466.5,83.9 466.7,84.0 466.9,84.2 467.2,84.3 467.4,84.5 467.7,84.6 467.9,84.7 468.1,84.9 468.4,85.0 468.6,85.2 468.8,85.3 469.1,85.4 469.3,85.6 469.6,85.7 469.8,85.9 470.0,86.0 470.3,86.1 470.5,86.3 470.7,86.4 471.0,86.6 471.2,86.7 471.5,86.8 471.7,87.0 471.9,87.1 472.2,87.3 472.4,87.4 472.7,87.5 472.9,87.7 473.1,87.8 473.4,88.0 473.6,88.1 473.8,88.2 474.1,88.4 474.3,88.5 474.6,88.7 474.8,88.8 475.0,88.9 475.3,89.1 475.5,89.2 475.8,89.4 476.0,89.5 476.2,89.6 476.5,89.8 476.7,89.9 476.9,90.1 477.2,90.2 477.4,90.3 477.7,90.5 477.9,90.6 478.1,90.8 478.4,90.9 478.6,91.0 478.8,91.2 479.1,91.3 479.3,91.5 479.6,91.6 479.8,91.7 480.0,91.9 480.3,92.0 480.5,92.2 480.8,92.3 481.0,92.4 481.2,92.6 481.5,92.7 481.7,92.8 481.9,93.0 482.2,93.1 482.4,93.3 482.7,93.4 482.9,93.5 483.1,93.7 483.4,93.8 483.6,94.0 483.9,94.1 484.1,94.2 484.3,94.4 484.6,94.5 484.8,94.7 485.0,94.8 485.3,94.9 485.5,95.1 485.8,95.2 486.0,95.4 486.2,95.5 486.5,95.6 486.7,95.8 486.9,95.9 487.2,96.1 487.4,96.2 487.7,96.3 487.9,96.5 488.1,96.6 488.4,96.8 488.6,96.9 488.9,97.0 489.1,97.2 489.3,97.3 489.6,97.5 489.8,97.6 490.0,97.7 490.3,97.9 490.5,98.0 490.8,98.2 491.0,98.3 491.2,98.4 491.5,98.6 491.7,98.7 491.9,98.9 492.2,99.0 492.4,99.1 492.7,99.3 492.9,99.4 493.1,99.6 493.4,99.7 493.6,99.8 493.9,100.0 494.1,100.1 494.3,100.3 494.6,100.4 494.8,100.5 495.0,100.7 495.3,100.8 495.5,101.0 495.8,101.1 496.0,101.2 496.2,101.4 496.5,101.5 496.7,101.7 497.0,101.8 497.2,101.9 497.4,102.1 497.7,102.2 497.9,102.4 498.1,102.5 498.4,102.7 498.6,102.8 498.9,102.9 499.1,103.1 499.3,103.2 499.6,103.4 499.8,103.5 500.0,103.7 500.3,103.8 500.5,104.0 500.8,104.1 501.0,104.2 501.2,104.4 501.5,104.5 501.7,104.7 502.0,104.8 502.2,105.0 502.4,105.1 502.7,105.3 502.9,105.4 503.1,105.6 503.4,105.7 503.6,105.8 503.9,106.0 504.1,106.1 504.3,106.3 504.6,106.4 504.8,106.6 505.1,106.7 505.3,106.9 505.5,107.0 505.8,107.1 506.0,107.3 506.2,107.4 506.5,107.6 506.7,107.7 507.0,107.9 507.2,108.0 507.4,108.2 507.7,108.3 507.9,108.5 508.1,108.6 508.4,108.7 508.6,108.9 508.9,109.0 509.1,109.2 509.3,109.3 509.6,109.5 509.8,109.6 510.1,109.8 510.3,109.9 510.5,110.0 510.8,110.2 511.0,110.3 511.2,110.5 511.5,110.6 511.7,110.8 512.0,110.9 512.2,111.1 512.4,111.2 512.7,111.4 512.9,111.5 513.1,111.6 513.4,111.8 513.6,111.9 513.9,112.1 514.1,112.2 514.3,112.4 514.6,112.5 514.8,112.7 515.1,112.8 515.3,112.9 515.5,113.1 515.8,113.2 516.0,113.4 516.2,113.5 516.5,113.7 516.7,113.8 517.0,114.0 517.2,114.1 517.4,114.3 517.7,114.4 517.9,114.5 518.2,114.7 518.4,114.8 518.6,115.0 518.9,115.1 519.1,115.3 519.3,115.4 519.6,115.6 519.8,115.7 520.1,115.8 520.3,116.0 520.5,116.1 520.8,116.3 521.0,116.4 521.2,116.6 521.5,116.7 521.7,116.9 522.0,117.0 522.2,117.2 522.4,117.3 522.7,117.4 522.9,117.6 523.2,117.7 523.4,117.9 523.6,118.0 523.9,118.2 524.1,118.3 524.3,118.5 524.6,118.6 524.8,118.7 525.1,118.9 525.3,119.0 525.5,119.2 525.8,119.3 526.0,119.5 526.3,119.6 526.5,119.8 526.7,119.9 527.0,120.1 527.2,120.2 527.4,120.3 527.7,120.5 527.9,120.6 528.2,120.8 528.4,120.9 528.6,121.1 528.9,121.2 529.1,121.4 529.3,121.5 529.6,121.6 529.8,121.8 530.1,121.9 530.3,122.1 530.5,122.2 530.8,122.4 531.0,122.5 531.3,122.7 531.5,122.8 531.7,123.0 532.0,123.1 532.2,123.2 532.4,123.4 532.7,123.5 532.9,123.7 533.2,123.8 533.4,124.0 533.6,124.1 533.9,124.3 534.1,124.4 534.3,124.5 534.6,124.7 534.8,124.8 535.1,125.0 535.3,125.1 535.5,125.3 535.8,125.4 536.0,125.6 536.3,125.7 536.5,125.9 536.7,126.0 537.0,126.1 537.2,126.3 537.4,126.4 537.7,126.6 537.9,126.7 538.2,126.9 538.4,127.0 538.6,127.2 538.9,127.3 539.1,127.4 539.4,127.6 539.6,127.7 539.8,127.9 540.1,128.0 540.3,128.2 540.5,128.3 540.8,128.5 541.0,128.6 541.3,128.8 541.5,128.9 541.7,129.0 542.0,129.2 542.2,129.3 542.4,129.5 542.7,129.6 542.9,129.8 543.2,129.9 543.4,130.1 543.6,130.2 543.9,130.3 544.1,130.5 544.4,130.6 544.6,130.8 544.8,130.9 545.1,131.1 545.3,131.2 545.5,131.4 545.8,131.5 546.0,131.7 546.3,131.8 546.5,131.9 546.7,132.1 547.0,132.2 547.2,132.4 547.5,132.5 547.7,132.7 547.9,132.8 548.2,133.0 548.4,133.1 548.6,133.2 548.9,133.4 549.1,133.5 549.4,133.7 549.6,133.8 549.8,134.0 550.1,134.1 550.3,134.3 550.5,134.4 550.8,134.6 551.0,134.7 551.3,134.8 551.5,135.0 551.7,135.1 552.0,135.3 552.2,135.4 552.5,135.6 552.7,135.7 552.9,135.9 553.2,136.0 553.4,136.1 553.6,136.3 553.9,136.4 554.1,136.6 554.4,136.7 554.6,136.9 554.8,137.0 555.1,137.2 555.3,137.3 555.5,137.5 555.8,137.6 556.0,137.7 556.3,137.9 556.5,138.0 556.7,138.2 557.0,138.3 557.2,138.5 557.5,138.6 557.7,138.8 557.9,138.9 558.2,139.0 558.4,139.2 558.6,139.3 558.9,139.5 559.1,139.6 559.4,139.8 559.6,139.9 559.8,140.1 560.1,140.2 560.3,140.4 560.6,140.5 560.8,140.6 561.0,140.8 561.3,140.9 561.5,141.1 561.7,141.2 562.0,141.4 562.2,141.5 562.5,141.7 562.7,141.8 562.9,141.9 563.2,142.1 563.4,142.2 563.6,142.4 563.9,142.5 564.1,142.7 564.4,142.8 564.6,143.0 564.8,143.1 565.1,143.3 565.3,143.4 565.6,143.5 565.8,143.7 566.0,143.8 566.3,144.0 566.5,144.1 566.7,144.3 567.0,144.4 567.2,144.6 567.5,144.7 567.7,144.8 567.9,145.0 568.2,145.1 568.4,145.3 568.7,145.4 568.9,145.6 569.1,145.7 569.4,145.9 569.6,146.0 569.8,146.2 570.1,146.3 570.3,146.4 570.6,146.6 570.8,146.7 571.0,146.9 571.3,147.0 571.5,147.2 571.7,147.3 572.0,147.5 572.2,147.6 572.5,147.7 572.7,147.9 572.9,148.0 573.2,148.2 573.4,148.3 573.7,148.5 573.9,148.6 574.1,148.8 574.4,148.9 574.6,149.1 574.8,149.2 575.1,149.3 575.3,149.5 575.6,149.6 575.8,149.8 576.0,149.9 576.3,150.1 576.5,150.2 576.7,150.4 577.0,150.5 577.2,150.6 577.5,150.8 577.7,150.9 577.9,151.1 578.2,151.2 578.4,151.4 578.7,151.5 578.9,151.7 579.1,151.8 579.4,152.0 579.6,152.1 579.8,152.2 580.1,152.4 580.3,152.5 580.6,152.7 580.8,152.8 581.0,153.0 581.3,153.1 581.5,153.3 581.8,153.4 582.0,153.5 582.2,153.7 582.5,153.8 582.7,154.0 582.9,154.1 583.2,154.3 583.4,154.4 583.7,154.6 583.9,154.7 584.1,154.9 584.4,155.0 584.6,155.1 584.8,155.3 585.1,155.4 585.3,155.6 585.6,155.7 585.8,155.9 586.0,156.0 586.3,156.2 586.5,156.3 586.8,156.4 587.0,156.6 587.2,156.7 587.5,156.9 587.7,157.0 587.9,157.2 588.2,157.3 588.4,157.5 588.7,157.6 588.9,157.8 589.1,157.9 589.4,158.0 589.6,158.2 589.8,158.3 590.1,158.4 590.3,158.6 590.6,158.7 590.8,158.8 591.0,159.0 591.3,159.1 591.5,159.2 591.8,159.4 592.0,159.5 592.2,159.6 592.5,159.8 592.7,159.9 592.9,160.0 593.2,160.2 593.4,160.3 593.7,160.4 593.9,160.6 594.1,160.7 594.4,160.8 594.6,161.0 594.9,161.1 595.1,161.2 595.3,161.4 595.6,161.5 595.8,161.6 596.0,161.8 596.3,161.9 596.5,162.0 596.8,162.2 597.0,162.3 597.2,162.4 597.5,162.5 597.7,162.7 597.9,162.8 598.2,162.9 598.4,163.0 598.7,163.2 598.9,163.3 599.1,163.4 599.4,163.5 599.6,163.7 599.9,163.8 600.1,163.9 600.3,164.0 600.6,164.2 600.8,164.3 601.0,164.4 601.3,164.5 601.5,164.7 601.8,164.8 602.0,164.9 602.2,165.0 602.5,165.2 602.7,165.3 603.0,165.4 603.2,165.5 603.4,165.7 603.7,165.8 603.9,165.9 604.1,166.0 604.4,166.2 604.6,166.3 604.9,166.4 605.1,166.6 605.3,166.8 605.6,167.0 605.8,167.2 606.0,167.4 606.3,167.6 606.5,167.8 606.8,168.0 607.0,168.3 607.2,168.5 607.5,168.7 607.7,168.9 608.0,169.1 608.2,169.3 608.4,169.5 608.7,169.7 608.9,169.9 609.1,168.3 609.4,174.9 609.6,169.2 609.9,175.5 610.1,172.1 610.3,174.0 610.6,172.7 610.8,168.3 611.0,172.5 611.3,171.5 611.5,177.7 611.8,168.3 612.0,174.2 612.2,176.8 612.5,170.2 612.7,173.0 613.0,169.9 613.2,168.5 613.4,171.4 613.7,176.3 613.9,173.4 614.1,174.5 614.4,171.1 614.6,169.6 614.9,166.5 615.1,169.1 615.3,173.4 615.6,175.1 615.8,172.2 616.1,168.2 616.3,173.2 616.5,173.7 616.8,175.6 617.0,175.1 617.2,173.6 617.5,175.5 617.7,174.9 618.0,168.1 618.2,171.6 618.4,169.3 618.7,172.0 618.9,173.1 619.1,172.4 619.4,178.8 619.6,178.7 619.9,172.5 620.1,179.8 620.3,165.2 620.6,177.1 620.8,173.0 621.1,171.3 621.3,174.2 621.5,174.9 621.8,165.9 622.0,171.6 622.2,172.8 622.5,169.4 622.7,170.6 623.0,169.8 623.2,171.6 623.4,175.6 623.7,176.0 623.9,174.5 624.2,174.3 624.4,168.5 624.6,171.8 624.9,168.4 625.1,176.4 625.3,180.3 625.6,175.5 625.8,173.0 626.1,171.1 626.3,168.0 626.5,165.1 626.8,170.7 627.0,172.9 627.2,173.1 627.5,172.4 627.7,175.9" fill="none" stroke="#8c564b" stroke-width="1.7" stroke-linejoin="round"/>
<path d="M391.88,39.67 L389.5,41.05 L387.12,39.67 L387.12,36.92 L389.5,35.55 L391.88,36.92 Z" fill="#8c564b"/>
<path d="M400.17,41.27 L397.78,42.65 L395.4,41.27 L395.4,38.52 L397.78,37.15 L400.17,38.52 Z" fill="#8c564b"/>
<path d="M408.45,47.37 L406.07,48.74 L403.69,47.37 L403.69,44.62 L406.07,43.24 L408.45,44.62 Z" fill="#8c564b"/>
<path d="M416.73,53.45 L414.35,54.82 L411.97,53.45 L411.97,50.7 L414.35,49.32 L416.73,50.7 Z" fill="#8c564b"/>
<path d="M425.02,59.53 L422.64,60.9 L420.25,59.53 L420.25,56.78 L422.64,55.4 L425.02,56.78 Z" fill="#8c564b"/>
<path d="M433.3,64.4 L430.92,65.78 L428.54,64.4 L428.54,61.65 L430.92,60.28 L433.3,61.65 Z" fill="#8c564b"/>
<path d="M441.59,69.27 L439.2,70.64 L436.82,69.27 L436.82,66.52 L439.2,65.14 L441.59,66.52 Z" fill="#8c564b"/>
<path d="M449.87,74.13 L447.49,75.51 L445.11,74.13 L445.11,71.38 L447.49,70.01 L449.87,71.38 Z" fill="#8c564b"/>
<path d="M458.15,79 L455.77,80.37 L453.39,79 L453.39,76.25 L455.77,74.87 L458.15,76.25 Z" fill="#8c564b"/>
<path d="M466.44,83.86 L464.06,85.23 L461.67,83.86 L461.67,81.11 L464.06,79.73 L466.44,81.11 Z" fill="#8c564b"/>
<path d="M474.72,88.72 L472.34,90.1 L469.96,88.72 L469.96,85.97 L472.34,84.6 L474.72,85.97 Z" fill="#8c564b"/>
<path d="M483.01,93.59 L480.62,94.96 L478.24,93.59 L478.24,90.84 L480.62,89.46 L483.01,90.84 Z" fill="#8c564b"/>
<path d="M491.29,98.45 L488.91,99.83 L486.53,98.45 L486.53,95.7 L488.91,94.33 L491.29,95.7 Z" fill="#8c564b"/>
<path d="M499.57,103.32 L497.19,104.69 L494.81,103.32 L494.81,100.57 L497.19,99.19 L499.57,100.57 Z" fill="#8c564b"/>
<path d="M507.86,108.35 L505.48,109.72 L503.09,108.35 L503.09,105.6 L505.48,104.22 L507.86,105.6 Z" fill="#8c564b"/>
<path d="M516.14,113.39 L513.76,114.77 L511.38,113.39 L511.38,110.64 L513.76,109.27 L516.14,110.64 Z" fill="#8c564b"/>
<path d="M524.43,118.43 L522.04,119.81 L519.66,118.43 L519.66,115.68 L522.04,114.31 L524.43,115.68 Z" fill="#8c564b"/>
<path d="M532.71,123.48 L530.33,124.85 L527.95,123.48 L527.95,120.73 L530.33,119.35 L532.71,120.73 Z" fill="#8c564b"/>
<path d="M540.99,128.52 L538.61,129.89 L536.23,128.52 L536.23,125.77 L538.61,124.39 L540.99,125.77 Z" fill="#8c564b"/>
<path d="M549.28,133.56 L546.9,134.94 L544.51,133.56 L544.51,130.81 L546.9,129.44 L549.28,130.81 Z" fill="#8c564b"/>
<path d="M557.56,138.6 L555.18,139.98 L552.8,138.6 L552.8,135.85 L555.18,134.48 L557.56,135.85 Z" fill="#8c564b"/>
<path d="M565.85,143.65 L563.46,145.02 L561.08,143.65 L561.08,140.9 L563.46,139.52 L565.85,140.9 Z" fill="#8c564b"/>
<path d="M574.13,148.69 L571.75,150.07 L569.37,148.69 L569.37,145.94 L571.75,144.57 L574.13,145.94 Z" fill="#8c564b"/>
<path d="M582.41,153.73 L580.03,155.11 L577.65,153.73 L577.65,150.98 L580.03,149.61 L582.41,150.98 Z" fill="#8c564b"/>
<path d="M590.7,158.78 L588.32,160.15 L585.93,158.78 L585.93,156.03 L588.32,154.65 L590.7,156.03 Z" fill="#8c564b"/>
<path d="M598.98,163.45 L596.6,164.83 L594.22,163.45 L594.22,160.7 L596.6,159.33 L598.98,160.7 Z" fill="#8c564b"/>
<path d="M607.27,167.81 L604.88,169.19 L602.5,167.81 L602.5,165.06 L604.88,163.69 L607.27,165.06 Z" fill="#8c564b"/>
<path d="M615.55,171.87 L613.17,173.25 L610.79,171.87 L610.79,169.12 L613.17,167.75 L615.55,169.12 Z" fill="#8c564b"/>
<path d="M623.83,175.26 L621.45,176.63 L619.07,175.26 L619.07,172.51 L621.45,171.13 L623.83,172.51 Z" fill="#8c564b"/>
</g>
<line x1="638.8" y1="17.7" x2="638.8" y2="188.4" stroke="#858585" stroke-width="1.6" />
<line x1="377.7" y1="18.3" x2="638.8" y2="18.3" stroke="#363636" stroke-width="1.25" />
<line x1="377.7" y1="187.8" x2="638.8" y2="187.8" stroke="#363636" stroke-width="1.25" />
<line x1="377.7" y1="17.7" x2="377.7" y2="188.4" stroke="#363636" stroke-width="1.25" />
<line x1="389.5" y1="187.8" x2="389.5" y2="191" stroke="#363636" stroke-width="1" />
<line x1="449.05" y1="187.8" x2="449.05" y2="191" stroke="#363636" stroke-width="1" />
<line x1="508.6" y1="187.8" x2="508.6" y2="191" stroke="#363636" stroke-width="1" />
<line x1="568.15" y1="187.8" x2="568.15" y2="191" stroke="#363636" stroke-width="1" />
<line x1="627.7" y1="187.8" x2="627.7" y2="191" stroke="#363636" stroke-width="1" />
<line x1="374.5" y1="31.4" x2="377.7" y2="31.4" stroke="#363636" stroke-width="1" />
<line x1="374.5" y1="58.37" x2="377.7" y2="58.37" stroke="#363636" stroke-width="1" />
<line x1="374.5" y1="85.34" x2="377.7" y2="85.34" stroke="#363636" stroke-width="1" />
<line x1="374.5" y1="112.31" x2="377.7" y2="112.31" stroke="#363636" stroke-width="1" />
<line x1="374.5" y1="139.28" x2="377.7" y2="139.28" stroke="#363636" stroke-width="1" />
<line x1="374.5" y1="166.25" x2="377.7" y2="166.25" stroke="#363636" stroke-width="1" />
<text x="389.5" y="201.6" font-size="11" font-family="Liberation Sans" font-style="normal" text-anchor="middle" fill="#4a4a4a" >0</text>
<text x="449.05" y="201.6" font-size="11" font-family="Liberation Sans" font-style="normal" text-anchor="middle" fill="#4a4a4a" >500</text>
<text x="508.6" y="201.6" font-size="11" font-family="Liberation Sans" font-style="normal" text-anchor="middle" fill="#4a4a4a" >1000</text>
<text x="568.15" y="201.6" font-size="11" font-family="Liberation Sans" font-style="normal" text-anchor="middle" fill="#4a4a4a" >1500</text>
<text x="627.7" y="201.6" font-size="11" font-family="Liberation Sans" font-style="normal" text-anchor="middle" fill="#4a4a4a" >2000</text>
<text x="367" y="36.1" font-size="11" font-family="Liberation Sans" font-style="normal" text-anchor="end" fill="#4a4a4a" textLength="11.6" lengthAdjust="spacingAndGlyphs" >10</text>
<text x="368" y="31.8" font-size="7.8" font-family="Liberation Sans" font-style="normal" text-anchor="start" fill="#707070" textLength="3.8" lengthAdjust="spacingAndGlyphs" >2</text>
<text x="365.6" y="63.07" font-size="11" font-family="Liberation Sans" font-style="normal" text-anchor="end" fill="#4a4a4a" textLength="11.6" lengthAdjust="spacingAndGlyphs" >10</text>
<text x="371" y="58.77" font-size="7.8" font-family="Liberation Sans" font-style="normal" text-anchor="end" fill="#707070" textLength="2.25" lengthAdjust="spacingAndGlyphs" >1</text>
<line x1="366.3" y1="55.97" x2="369.2" y2="55.97" stroke="#dddddd" stroke-width="0.8" />
<text x="363.8" y="90.04" font-size="11" font-family="Liberation Sans" font-style="normal" text-anchor="end" fill="#4a4a4a" textLength="11.6" lengthAdjust="spacingAndGlyphs" >10</text>
<text x="371.8" y="85.74" font-size="7.8" font-family="Liberation Sans" font-style="normal" text-anchor="end" fill="#707070" textLength="3.69" lengthAdjust="spacingAndGlyphs" >4</text>
<line x1="363.9" y1="82.94" x2="366.8" y2="82.94" stroke="#dddddd" stroke-width="0.8" />
<text x="363.8" y="117.01" font-size="11" font-family="Liberation Sans" font-style="normal" text-anchor="end" fill="#4a4a4a" textLength="11.6" lengthAdjust="spacingAndGlyphs" >10</text>
<text x="371.8" y="112.71" font-size="7.8" font-family="Liberation Sans" font-style="normal" text-anchor="end" fill="#707070" textLength="3.69" lengthAdjust="spacingAndGlyphs" >7</text>
<line x1="363.9" y1="109.91" x2="366.8" y2="109.91" stroke="#dddddd" stroke-width="0.8" />
<text x="359" y="143.98" font-size="11" font-family="Liberation Sans" font-style="normal" text-anchor="end" fill="#4a4a4a" textLength="11.6" lengthAdjust="spacingAndGlyphs" >10</text>
<text x="372" y="139.68" font-size="7.8" font-family="Liberation Sans" font-style="normal" text-anchor="end" fill="#707070" textLength="7.44" lengthAdjust="spacingAndGlyphs" >10</text>
<line x1="360.3" y1="136.88" x2="363.2" y2="136.88" stroke="#dddddd" stroke-width="0.8" />
<text x="359" y="170.95" font-size="11" font-family="Liberation Sans" font-style="normal" text-anchor="end" fill="#4a4a4a" textLength="11.6" lengthAdjust="spacingAndGlyphs" >10</text>
<text x="372" y="166.65" font-size="7.8" font-family="Liberation Sans" font-style="normal" text-anchor="end" fill="#707070" textLength="7.44" lengthAdjust="spacingAndGlyphs" >13</text>
<line x1="360.3" y1="163.85" x2="363.2" y2="163.85" stroke="#dddddd" stroke-width="0.8" />
<text x="507.9" y="215.3" font-size="11.3" font-family="Liberation Sans" font-style="normal" text-anchor="middle" fill="#4a4a4a" textLength="109.5" lengthAdjust="spacingAndGlyphs" >Number of iterations</text>
<text transform="translate(338.8,100.2) rotate(-90)" font-size="11.3" font-family="Liberation Sans" text-anchor="middle" fill="#4a4a4a">Distance to <tspan font-family="Liberation Serif" font-style="italic">w</tspan><tspan font-family="Liberation Sans" font-size="9.5" dy="-4.2">*</tspan></text>
<rect x="525.4" y="22.7" width="108.8" height="84.6" rx="2.5" fill="#ffffff" fill-opacity="0.8" stroke="#d9d9d9" stroke-width="1"/>
<line x1="528.3" y1="29.9" x2="548.1" y2="29.9" stroke="#1f77b4" stroke-width="1.4" />
<path d="M538.2,27.52 L538.76,29.13 L540.46,29.17 L539.1,30.19 L539.6,31.82 L538.2,30.85 L536.8,31.82 L537.3,30.19 L535.94,29.17 L537.64,29.13 Z" fill="#1f77b4"/>
<text x="555" y="33.1" font-size="9" font-family="Liberation Sans" font-style="normal" text-anchor="start" fill="#444444" textLength="58.7" lengthAdjust="spacingAndGlyphs" >MEG (optimal)</text>
<line x1="528.3" y1="43.55" x2="548.1" y2="43.55" stroke="#ff7f0e" stroke-width="1.4" />
<path d="M535.35,41.27 L541.05,41.27 L538.2,46.4 Z" fill="#ff7f0e"/>
<text x="555" y="46.75" font-size="9" font-family="Liberation Sans" font-style="normal" text-anchor="start" fill="#444444" textLength="48.4" lengthAdjust="spacingAndGlyphs" >GD (theory)</text>
<line x1="528.3" y1="57.2" x2="548.1" y2="57.2" stroke="#2ca02c" stroke-width="1.4" />
<path d="M535.35,59.48 L541.05,59.48 L538.2,54.35 Z" fill="#2ca02c"/>
<text x="555" y="60.4" font-size="9" font-family="Liberation Sans" font-style="normal" text-anchor="start" fill="#444444" textLength="68" lengthAdjust="spacingAndGlyphs" >GD (grid search)</text>
<line x1="528.3" y1="70.85" x2="548.1" y2="70.85" stroke="#d62728" stroke-width="1.4" />
<path d="M537.3,68.19 h1.8 v1.76 h1.76 v1.8 h-1.76 v1.76 h-1.8 v-1.76 h-1.76 v-1.8 h1.76 Z" fill="#d62728"/>
<text x="555" y="74.05" font-size="9" font-family="Liberation Sans" font-style="normal" text-anchor="start" fill="#444444" textLength="75.4" lengthAdjust="spacingAndGlyphs" >GDM (grid search)</text>
<line x1="528.3" y1="84.5" x2="548.1" y2="84.5" stroke="#9467bd" stroke-width="1.4" />
<circle cx="538.2" cy="84.5" r="2.52" fill="#9467bd"/>
<text x="555" y="87.7" font-size="9" font-family="Liberation Sans" font-style="normal" text-anchor="start" fill="#444444" textLength="47.8" lengthAdjust="spacingAndGlyphs" >EG (theory)</text>
<line x1="528.3" y1="98.15" x2="548.1" y2="98.15" stroke="#8c564b" stroke-width="1.4" />
<path d="M540.22,99.32 L538.2,100.49 L536.18,99.32 L536.18,96.98 L538.2,95.81 L540.22,96.98 Z" fill="#8c564b"/>
<text x="555" y="101.35" font-size="9" font-family="Liberation Sans" font-style="normal" text-anchor="start" fill="#444444" textLength="67.5" lengthAdjust="spacingAndGlyphs" >EG (grid search)</text>
<text x="413.6" y="12.7" font-size="14.6" font-family="Liberation Serif" font-style="italic" text-anchor="start" fill="#202020" textLength="10.6" lengthAdjust="spacingAndGlyphs" >A</text>
<path d="M436.4,4.4 L432.6,4.4 C430.4,4.4 428.8,6.4 428.8,8.8 C428.8,11.2 430.4,13.2 432.6,13.2 L436.4,13.2" fill="none" stroke="#202020" stroke-width="1.1"/>
<line x1="429.2" y1="8.8" x2="436.2" y2="8.8" stroke="#555555" stroke-width="0.75" />
<text x="440.2" y="12.7" font-size="14.2" font-family="Liberation Serif" font-style="italic" text-anchor="start" fill="#3a3a3a" textLength="11.6" lengthAdjust="spacingAndGlyphs" >R</text>
<text x="453.8" y="7.1" font-size="9.6" font-family="Liberation Serif" font-style="normal" text-anchor="start" fill="#202020" textLength="45" lengthAdjust="spacingAndGlyphs" >200 × 200</text>
<text x="500.3" y="12.7" font-size="14" font-family="Liberation Serif" font-style="normal" text-anchor="start" fill="#202020" >,</text>
<text x="506.4" y="12.7" font-size="14.6" font-family="Liberation Serif" font-style="italic" text-anchor="start" fill="#202020" textLength="10.2" lengthAdjust="spacingAndGlyphs" >μ</text>
<text x="521" y="12.7" font-size="12" font-family="Liberation Sans" font-style="normal" text-anchor="start" fill="#202020" textLength="7.6" lengthAdjust="spacingAndGlyphs" >=</text>
<text x="533.4" y="12.7" font-size="13" font-family="Liberation Sans" font-style="normal" text-anchor="start" fill="#202020" textLength="12" lengthAdjust="spacingAndGlyphs" >1,</text>
<text x="550.5" y="12.7" font-size="14.6" font-family="Liberation Serif" font-style="italic" text-anchor="start" fill="#202020" textLength="12.4" lengthAdjust="spacingAndGlyphs" >L</text>
<text x="565" y="12.7" font-size="12" font-family="Liberation Sans" font-style="normal" text-anchor="start" fill="#202020" textLength="7.6" lengthAdjust="spacingAndGlyphs" >=</text>
<text x="576.8" y="12.7" font-size="13" font-family="Liberation Sans" font-style="normal" text-anchor="start" fill="#202020" textLength="26.6" lengthAdjust="spacingAndGlyphs" >200</text>
<line x1="389.5" y1="250.7" x2="389.5" y2="420.2" stroke="#d2d2d2" stroke-width="1" />
<line x1="449.05" y1="250.7" x2="449.05" y2="420.2" stroke="#d2d2d2" stroke-width="1" />
<line x1="508.6" y1="250.7" x2="508.6" y2="420.2" stroke="#d2d2d2" stroke-width="1" />
<line x1="568.15" y1="250.7" x2="568.15" y2="420.2" stroke="#d2d2d2" stroke-width="1" />
<line x1="627.7" y1="250.7" x2="627.7" y2="420.2" stroke="#d2d2d2" stroke-width="1" />
<line x1="377.7" y1="267.1" x2="638.8" y2="267.1" stroke="#d2d2d2" stroke-width="1" />
<line x1="377.7" y1="293.65" x2="638.8" y2="293.65" stroke="#d2d2d2" stroke-width="1" />
<line x1="377.7" y1="320.2" x2="638.8" y2="320.2" stroke="#d2d2d2" stroke-width="1" />
<line x1="377.7" y1="346.75" x2="638.8" y2="346.75" stroke="#d2d2d2" stroke-width="1" />
<line x1="377.7" y1="373.3" x2="638.8" y2="373.3" stroke="#d2d2d2" stroke-width="1" />
<line x1="377.7" y1="399.85" x2="638.8" y2="399.85" stroke="#d2d2d2" stroke-width="1" />
<clipPath id="c232"><rect x="377.7" y="250.7" width="261.1" height="169.5"/></clipPath>
<g clip-path="url(#c232)">
<polyline points="389.5,275.0 390.0,258.1 390.2,257.6 390.5,259.4 390.7,261.0 391.0,261.8 391.2,261.9 391.4,261.2 391.7,262.0 391.9,261.9 392.1,261.2 392.4,262.7 392.6,264.7 392.9,264.5 393.1,264.3 393.3,264.0 393.6,265.6 393.8,265.6 394.0,266.8 394.3,267.8 394.5,265.2 394.8,268.1 395.0,267.2 395.2,268.2 395.5,268.4 395.7,271.5 396.0,271.5 396.2,271.8 396.4,271.0 396.7,270.7 396.9,272.4 397.1,273.5 397.4,273.7 397.6,275.1 397.9,274.4 398.1,277.3 398.3,276.6 398.6,278.5 398.8,277.1 399.1,277.1 399.3,277.0 399.5,279.3 399.8,280.0 400.0,279.6 400.2,280.4 400.5,280.1 400.7,280.5 401.0,281.1 401.2,279.9 401.4,281.3 401.7,283.0 401.9,283.6 402.1,285.1 402.4,285.2 402.6,285.4 402.9,285.5 403.1,283.4 403.3,286.4 403.6,285.9 403.8,287.9 404.1,287.5 404.3,287.9 404.5,288.2 404.8,288.9 405.0,287.6 405.2,288.5 405.5,292.0 405.7,291.6 406.0,291.1 406.2,291.7 406.4,292.2 406.7,296.6 406.9,294.1 407.2,294.0 407.4,293.8 407.6,292.4 407.9,295.6 408.1,297.4 408.3,297.4 408.6,297.2 408.8,296.7 409.1,296.5 409.3,298.4 409.5,298.3 409.8,298.0 410.0,301.6 410.2,299.2 410.5,300.1 410.7,298.6 411.0,303.5 411.2,302.0 411.4,302.5 411.7,303.4 411.9,302.7 412.2,303.4 412.4,304.9 412.6,304.1 412.9,305.8 413.1,307.3 413.3,307.3 413.6,308.5 413.8,308.6 414.1,309.8 414.3,308.7 414.5,309.3 414.8,308.1 415.0,309.6 415.2,309.5 415.5,310.7 415.7,310.1 416.0,312.1 416.2,315.0 416.4,311.8 416.7,313.8 416.9,314.3 417.2,313.3 417.4,314.2 417.6,314.5 417.9,316.0 418.1,315.3 418.3,319.3 418.6,317.9 418.8,318.5 419.1,320.0 419.3,319.4 419.5,318.1 419.8,319.0 420.0,318.9 420.3,319.5 420.5,320.6 420.7,317.7 421.0,318.3 421.2,320.1 421.4,321.3 421.7,320.6 421.9,321.2 422.2,323.0 422.4,322.8 422.6,322.3 422.9,322.3 423.1,321.4 423.3,323.9 423.6,323.8 423.8,322.9 424.1,324.8 424.3,324.2 424.5,324.5 424.8,323.4 425.0,326.5 425.3,325.0 425.5,326.5 425.7,326.8 426.0,326.2 426.2,327.1 426.4,327.2 426.7,327.5 426.9,328.3 427.2,327.7 427.4,329.5 427.6,329.2 427.9,328.1 428.1,330.1 428.4,329.5 428.6,330.8 428.8,328.1 429.1,331.3 429.3,328.8 429.5,331.1 429.8,335.4 430.0,332.9 430.3,333.6 430.5,332.0 430.7,331.8 431.0,333.3 431.2,334.1 431.4,333.9 431.7,333.6 431.9,333.6 432.2,334.5 432.4,337.0 432.6,335.5 432.9,335.4 433.1,335.9 433.4,335.4 433.6,335.3 433.8,337.2 434.1,338.9 434.3,338.2 434.5,336.5 434.8,340.0 435.0,338.9 435.3,341.0 435.5,339.1 435.7,338.1 436.0,340.1 436.2,340.0 436.4,339.3 436.7,339.9 436.9,340.6 437.2,340.4 437.4,342.4 437.6,342.3 437.9,341.8 438.1,342.2 438.4,343.9 438.6,343.7 438.8,342.2 439.1,344.1 439.3,346.0 439.5,344.8 439.8,343.8 440.0,346.7 440.3,348.1 440.5,345.8 440.7,343.4 441.0,344.7 441.2,348.7 441.5,346.7 441.7,348.0 441.9,348.1 442.2,348.0 442.4,350.0 442.6,348.7 442.9,349.5 443.1,349.5 443.4,349.7 443.6,352.4 443.8,348.8 444.1,349.0 444.3,351.9 444.5,349.5 444.8,351.4 445.0,350.4 445.3,352.9 445.5,352.1 445.7,353.2 446.0,352.0 446.2,352.9 446.5,350.8 446.7,354.6 446.9,354.4 447.2,354.3 447.4,354.6 447.6,354.5 447.9,355.1 448.1,357.6 448.4,355.2 448.6,355.7 448.8,357.3 449.1,357.1 449.3,356.6 449.6,359.4 449.8,359.8 450.0,357.9 450.3,360.6 450.5,357.5 450.7,361.0 451.0,357.9 451.2,360.5 451.5,360.2 451.7,360.3 451.9,361.8 452.2,360.4 452.4,360.9 452.6,360.9 452.9,364.1 453.1,362.2 453.4,363.6 453.6,363.3 453.8,365.0 454.1,363.1 454.3,363.6 454.6,364.2 454.8,365.5 455.0,364.8 455.3,366.5 455.5,366.9 455.7,367.8 456.0,367.6 456.2,368.9 456.5,367.3 456.7,367.5 456.9,367.7 457.2,368.0 457.4,367.6 457.6,369.9 457.9,369.9 458.1,367.8 458.4,370.4 458.6,370.1 458.8,370.2 459.1,371.2 459.3,373.2 459.6,372.4 459.8,370.4 460.0,373.3 460.3,372.3 460.5,375.5 460.7,373.5 461.0,374.3 461.2,374.5 461.5,374.1 461.7,374.9 461.9,375.6 462.2,378.5 462.4,376.6 462.7,377.4 462.9,377.3 463.1,377.7 463.4,378.2 463.6,379.6 463.8,375.1 464.1,377.9 464.3,377.9 464.6,380.1 464.8,378.5 465.0,380.7 465.3,381.1 465.5,379.5 465.7,381.0 466.0,380.1 466.2,381.8 466.5,381.7 466.7,382.8 466.9,382.6 467.2,380.8 467.4,383.8 467.7,382.5 467.9,383.9 468.1,383.1 468.4,384.3 468.6,382.2 468.8,385.2 469.1,383.0 469.3,384.1 469.6,385.1 469.8,383.1 470.0,385.5 470.3,385.4 470.5,386.5 470.7,385.7 471.0,385.0 471.2,385.2 471.5,385.7 471.7,387.0 471.9,386.9 472.2,388.0 472.4,389.3 472.7,387.6 472.9,387.6 473.1,388.8 473.4,389.2 473.6,386.6 473.8,388.5 474.1,389.5 474.3,390.4 474.6,389.4 474.8,389.1 475.0,392.7 475.3,387.3 475.5,400.5 475.8,393.4 476.0,396.7 476.2,392.3 476.5,399.7 476.7,394.5 476.9,398.2 477.2,397.1 477.4,397.6 477.7,395.1 477.9,390.6 478.1,394.2 478.4,401.8 478.6,397.8 478.8,396.9 479.1,393.1 479.3,398.9 479.6,396.3 479.8,396.5 480.0,395.3 480.3,393.5 480.5,394.5 480.8,389.8 481.0,392.3 481.2,397.4 481.5,398.2 481.7,394.6 481.9,399.3 482.2,394.5 482.4,394.4 482.7,395.4 482.9,400.2 483.1,401.0 483.4,395.7 483.6,395.7 483.9,396.1 484.1,394.6 484.3,397.8 484.6,398.5 484.8,394.2 485.0,396.5 485.3,393.3 485.5,395.1 485.8,402.5 486.0,396.5 486.2,388.2 486.5,393.6 486.7,396.4 486.9,392.3 487.2,393.9 487.4,392.0 487.7,391.3 487.9,397.8 488.1,399.1 488.4,386.8 488.6,399.2 488.9,398.5 489.1,396.6 489.3,392.7 489.6,397.2 489.8,396.9 490.0,391.7 490.3,399.5 490.5,399.2 490.8,395.0 491.0,396.8 491.2,387.3 491.5,390.7 491.7,395.8 491.9,400.8 492.2,399.2 492.4,395.6 492.7,392.9 492.9,388.9 493.1,392.6 493.4,395.1 493.6,396.7 493.9,398.1 494.1,396.9 494.3,391.7 494.6,393.3 494.8,395.2 495.0,395.7 495.3,389.0 495.5,399.9 495.8,402.7 496.0,392.0 496.2,395.7 496.5,390.2 496.7,395.2 497.0,398.3 497.2,392.1 497.4,394.5 497.7,402.0 497.9,401.8 498.1,389.9 498.4,397.9 498.6,400.2 498.9,394.8 499.1,396.7 499.3,395.2 499.6,397.0 499.8,398.7 500.0,396.8 500.3,395.8 500.5,398.3 500.8,397.5 501.0,395.3 501.2,396.9 501.5,396.1 501.7,402.6 502.0,395.9 502.2,398.6 502.4,401.2 502.7,400.4 502.9,400.1 503.1,395.4 503.4,397.8 503.6,397.0 503.9,399.6 504.1,393.6 504.3,392.2 504.6,395.3 504.8,397.4 505.1,392.9 505.3,393.4 505.5,399.2 505.8,398.4 506.0,394.3 506.2,397.6 506.5,390.9 506.7,399.0 507.0,392.4 507.2,391.4 507.4,399.2 507.7,395.7 507.9,393.6 508.1,397.6 508.4,385.6 508.6,395.1 508.9,393.1 509.1,393.0 509.3,394.5 509.6,400.4 509.8,398.7 510.1,398.0 510.3,403.4 510.5,395.9 510.8,395.2 511.0,397.2 511.2,393.6 511.5,394.8 511.7,396.6 512.0,393.5 512.2,395.2 512.4,388.9 512.7,389.8 512.9,390.2 513.1,393.4 513.4,401.9 513.6,389.7 513.9,393.6 514.1,396.7 514.3,396.3 514.6,392.7 514.8,390.9 515.1,401.5 515.3,399.8 515.5,395.4 515.8,396.7 516.0,402.2 516.2,397.9 516.5,397.5 516.7,399.5 517.0,394.7 517.2,396.6 517.4,394.9 517.7,390.3 517.9,395.0 518.2,391.8 518.4,399.2 518.6,395.4 518.9,391.9 519.1,396.7 519.3,393.1 519.6,399.6 519.8,396.1 520.1,394.3 520.3,397.5 520.5,397.4 520.8,397.8 521.0,395.0 521.2,392.6 521.5,395.2 521.7,396.5 522.0,395.8 522.2,402.8 522.4,398.8 522.7,391.0 522.9,400.8 523.2,397.8 523.4,396.1 523.6,394.7 523.9,395.7 524.1,398.9 524.3,396.6 524.6,399.0 524.8,398.5 525.1,395.6 525.3,400.8 525.5,398.6 525.8,396.5 526.0,394.7 526.3,395.2 526.5,391.2 526.7,398.0 527.0,396.3 527.2,404.2 527.4,394.5 527.7,394.8 527.9,397.7 528.2,395.0 528.4,395.6 528.6,399.9 528.9,396.7 529.1,395.0 529.3,393.5 529.6,394.6 529.8,392.5 530.1,396.9 530.3,396.5 530.5,396.0 530.8,400.4 531.0,392.1 531.3,394.1 531.5,397.6 531.7,394.8 532.0,396.5 532.2,396.0 532.4,395.1 532.7,396.1 532.9,400.4 533.2,395.7 533.4,396.7 533.6,395.1 533.9,392.8 534.1,393.5 534.3,396.2 534.6,398.4 534.8,396.4 535.1,388.5 535.3,390.4 535.5,392.5 535.8,390.8 536.0,395.3 536.3,390.6 536.5,397.5 536.7,392.8 537.0,395.3 537.2,396.0 537.4,388.3 537.7,391.0 537.9,391.6 538.2,396.0 538.4,391.1 538.6,399.0 538.9,403.4 539.1,395.0 539.4,395.6 539.6,397.6 539.8,388.4 540.1,393.1 540.3,394.8 540.5,395.8 540.8,397.7 541.0,396.9 541.3,394.5 541.5,396.4 541.7,397.9 542.0,397.7 542.2,399.5 542.4,393.4 542.7,401.5 542.9,386.7 543.2,395.1 543.4,395.3 543.6,393.5 543.9,399.0 544.1,396.9 544.4,395.1 544.6,394.1 544.8,397.2 545.1,391.7 545.3,396.5 545.5,398.6 545.8,395.3 546.0,394.9 546.3,396.1 546.5,397.2 546.7,391.8 547.0,399.6 547.2,398.9 547.5,400.7 547.7,402.4 547.9,393.9 548.2,390.6 548.4,400.2 548.6,393.4 548.9,391.7 549.1,391.0 549.4,396.1 549.6,391.5 549.8,392.4 550.1,391.0 550.3,394.1 550.5,390.8 550.8,399.6 551.0,391.9 551.3,397.9 551.5,399.7 551.7,396.2 552.0,393.1 552.2,395.8 552.5,396.5 552.7,396.1 552.9,394.0 553.2,402.4 553.4,396.9 553.6,401.1 553.9,392.2 554.1,395.8 554.4,395.2 554.6,401.7 554.8,399.5 555.1,390.5 555.3,400.4 555.5,396.9 555.8,392.7 556.0,398.3 556.3,392.2 556.5,399.7 556.7,395.0 557.0,394.3 557.2,393.1 557.5,399.9 557.7,395.4 557.9,395.4 558.2,396.4 558.4,393.9 558.6,398.2 558.9,391.5 559.1,396.6 559.4,390.3 559.6,397.7 559.8,393.1 560.1,396.0 560.3,401.5 560.6,394.4 560.8,386.3 561.0,398.4 561.3,398.3 561.5,391.9 561.7,392.4 562.0,392.1 562.2,391.5 562.5,398.6 562.7,398.7 562.9,395.6 563.2,398.2 563.4,393.0 563.6,398.0 563.9,392.1 564.1,397.6 564.4,394.9 564.6,395.6 564.8,393.9 565.1,396.4 565.3,394.2 565.6,397.1 565.8,392.4 566.0,397.6 566.3,394.6 566.5,393.2 566.7,392.6 567.0,396.6 567.2,397.9 567.5,399.7 567.7,395.4 567.9,399.5 568.2,399.1 568.4,392.6 568.7,394.6 568.9,388.3 569.1,399.2 569.4,393.9 569.6,400.0 569.8,394.7 570.1,395.1 570.3,391.0 570.6,390.1 570.8,395.1 571.0,401.8 571.3,393.1 571.5,391.3 571.7,391.9 572.0,399.4 572.2,395.4 572.5,393.9 572.7,394.6 572.9,399.0 573.2,401.9 573.4,397.8 573.7,391.9 573.9,392.8 574.1,398.1 574.4,399.1 574.6,388.4 574.8,398.5 575.1,396.3 575.3,396.2 575.6,395.2 575.8,396.4 576.0,395.7 576.3,398.2 576.5,387.5 576.7,388.2 577.0,395.2 577.2,393.4 577.5,390.3 577.7,393.5 577.9,393.3 578.2,393.9 578.4,395.4 578.7,384.0 578.9,392.5 579.1,391.4 579.4,400.5 579.6,391.4 579.8,398.7 580.1,395.5 580.3,398.4 580.6,397.5 580.8,393.5 581.0,397.2 581.3,391.5 581.5,397.3 581.8,398.8 582.0,391.0 582.2,396.3 582.5,391.3 582.7,397.4 582.9,393.8 583.2,399.0 583.4,402.2 583.7,390.3 583.9,392.6 584.1,396.1 584.4,389.6 584.6,394.9 584.8,395.6 585.1,397.5 585.3,397.9 585.6,394.6 585.8,398.0 586.0,391.9 586.3,396.2 586.5,399.4 586.8,390.3 587.0,394.1 587.2,395.8 587.5,397.8 587.7,395.2 587.9,399.6 588.2,398.0 588.4,397.4 588.7,400.9 588.9,398.0 589.1,397.7 589.4,392.0 589.6,402.6 589.8,397.4 590.1,396.9 590.3,397.4 590.6,387.2 590.8,395.6 591.0,392.7 591.3,392.9 591.5,392.4 591.8,399.1 592.0,400.6 592.2,391.4 592.5,393.7 592.7,397.3 592.9,393.5 593.2,393.1 593.4,391.7 593.7,395.0 593.9,400.2 594.1,392.5 594.4,400.1 594.6,401.8 594.9,395.3 595.1,391.5 595.3,392.5 595.6,397.7 595.8,393.0 596.0,393.8 596.3,390.9 596.5,396.1 596.8,395.0 597.0,395.3 597.2,392.8 597.5,396.3 597.7,399.9 597.9,391.4 598.2,388.6 598.4,395.4 598.7,402.4 598.9,392.1 599.1,399.5 599.4,392.1 599.6,397.8 599.9,395.0 600.1,385.4 600.3,395.8 600.6,394.2 600.8,391.6 601.0,394.5 601.3,390.5 601.5,394.8 601.8,391.8 602.0,395.2 602.2,393.1 602.5,398.6 602.7,396.8 603.0,392.7 603.2,397.9 603.4,399.2 603.7,397.0 603.9,393.3 604.1,395.2 604.4,392.9 604.6,390.5 604.9,390.1 605.1,395.0 605.3,400.4 605.6,388.1 605.8,396.4 606.0,397.7 606.3,390.5 606.5,393.2 606.8,397.5 607.0,396.4 607.2,399.3 607.5,397.5 607.7,402.0 608.0,398.2 608.2,400.4 608.4,393.0 608.7,396.9 608.9,395.6 609.1,394.9 609.4,394.5 609.6,396.8 609.9,393.4 610.1,396.1 610.3,391.2 610.6,390.2 610.8,392.5 611.0,393.2 611.3,390.1 611.5,394.5 611.8,401.8 612.0,394.3 612.2,401.8 612.5,393.6 612.7,397.0 613.0,395.5 613.2,402.9 613.4,391.9 613.7,398.6 613.9,400.7 614.1,394.1 614.4,394.2 614.6,399.0 614.9,395.7 615.1,401.2 615.3,392.0 615.6,396.5 615.8,392.0 616.1,388.7 616.3,397.7 616.5,394.2 616.8,390.1 617.0,397.6 617.2,397.4 617.5,399.9 617.7,397.6 618.0,395.7 618.2,396.4 618.4,396.1 618.7,392.6 618.9,393.1 619.1,397.8 619.4,393.1 619.6,390.6 619.9,393.8 620.1,399.3 620.3,393.3 620.6,398.2 620.8,392.9 621.1,399.1 621.3,394.5 621.5,393.6 621.8,395.0 622.0,396.0 622.2,395.0 622.5,388.6 622.7,390.8 623.0,398.1 623.2,394.0 623.4,393.9 623.7,399.7 623.9,393.4 624.2,398.1 624.4,396.8 624.6,390.5 624.9,392.9 625.1,394.9 625.3,393.5 625.6,397.5 625.8,390.3 626.1,394.1 626.3,392.4 626.5,401.4 626.8,393.6 627.0,396.6 627.2,391.1 627.5,395.8 627.7,398.6" fill="none" stroke="#1f77b4" stroke-width="1.7" stroke-linejoin="round"/>
<path d="M389.5,272.5 L390.09,274.19 L391.88,274.23 L390.45,275.31 L390.97,277.02 L389.5,276 L388.03,277.02 L388.55,275.31 L387.12,274.23 L388.91,274.19 Z" fill="#1f77b4"/>
<path d="M397.78,272.17 L398.37,273.86 L400.16,273.9 L398.74,274.98 L399.25,276.69 L397.78,275.67 L396.31,276.69 L396.83,274.98 L395.41,273.9 L397.2,273.86 Z" fill="#1f77b4"/>
<path d="M406.07,289.36 L406.66,291.05 L408.45,291.09 L407.02,292.17 L407.54,293.88 L406.07,292.86 L404.6,293.88 L405.12,292.17 L403.69,291.09 L405.48,291.05 Z" fill="#1f77b4"/>
<path d="M414.35,305.98 L414.94,307.67 L416.73,307.71 L415.3,308.79 L415.82,310.5 L414.35,309.48 L412.88,310.5 L413.4,308.79 L411.97,307.71 L413.76,307.67 Z" fill="#1f77b4"/>
<path d="M422.64,319.91 L423.22,321.6 L425.01,321.63 L423.59,322.71 L424.11,324.43 L422.64,323.41 L421.17,324.43 L421.68,322.71 L420.26,321.63 L422.05,321.6 Z" fill="#1f77b4"/>
<path d="M430.92,330.93 L431.51,332.62 L433.3,332.66 L431.87,333.74 L432.39,335.45 L430.92,334.43 L429.45,335.45 L429.97,333.74 L428.54,332.66 L430.33,332.62 Z" fill="#1f77b4"/>
<path d="M439.2,341.52 L439.79,343.22 L441.58,343.25 L440.16,344.33 L440.67,346.05 L439.2,345.02 L437.73,346.05 L438.25,344.33 L436.83,343.25 L438.62,343.22 Z" fill="#1f77b4"/>
<path d="M447.49,352.12 L448.08,353.81 L449.87,353.84 L448.44,354.93 L448.96,356.64 L447.49,355.62 L446.02,356.64 L446.54,354.93 L445.11,353.84 L446.9,353.81 Z" fill="#1f77b4"/>
<path d="M455.77,364.16 L456.36,365.85 L458.15,365.88 L456.72,366.96 L457.24,368.68 L455.77,367.66 L454.3,368.68 L454.82,366.96 L453.39,365.88 L455.18,365.85 Z" fill="#1f77b4"/>
<path d="M464.06,376.02 L464.64,377.71 L466.43,377.75 L465.01,378.83 L465.53,380.54 L464.06,379.52 L462.59,380.54 L463.1,378.83 L461.68,377.75 L463.47,377.71 Z" fill="#1f77b4"/>
<path d="M472.34,384.98 L472.93,386.67 L474.72,386.71 L473.29,387.79 L473.81,389.5 L472.34,388.48 L470.87,389.5 L471.39,387.79 L469.96,386.71 L471.75,386.67 Z" fill="#1f77b4"/>
<path d="M480.62,391.46 L481.21,393.15 L483,393.18 L481.58,394.27 L482.09,395.98 L480.62,394.96 L479.15,395.98 L479.67,394.27 L478.25,393.18 L480.04,393.15 Z" fill="#1f77b4"/>
<path d="M488.91,392.03 L489.5,393.72 L491.29,393.76 L489.86,394.84 L490.38,396.55 L488.91,395.53 L487.44,396.55 L487.96,394.84 L486.53,393.76 L488.32,393.72 Z" fill="#1f77b4"/>
<path d="M497.19,395.28 L497.78,396.97 L499.57,397.01 L498.14,398.09 L498.66,399.81 L497.19,398.78 L495.72,399.81 L496.24,398.09 L494.81,397.01 L496.6,396.97 Z" fill="#1f77b4"/>
<path d="M505.48,394.05 L506.06,395.74 L507.85,395.77 L506.43,396.85 L506.95,398.57 L505.48,397.55 L504.01,398.57 L504.52,396.85 L503.1,395.77 L504.89,395.74 Z" fill="#1f77b4"/>
<path d="M513.76,391.56 L514.35,393.25 L516.14,393.29 L514.71,394.37 L515.23,396.08 L513.76,395.06 L512.29,396.08 L512.81,394.37 L511.38,393.29 L513.17,393.25 Z" fill="#1f77b4"/>
<path d="M522.04,386.97 L522.63,388.66 L524.42,388.7 L523,389.78 L523.51,391.5 L522.04,390.47 L520.57,391.5 L521.09,389.78 L519.67,388.7 L521.46,388.66 Z" fill="#1f77b4"/>
<path d="M530.33,391.19 L530.92,392.88 L532.71,392.92 L531.28,394 L531.8,395.71 L530.33,394.69 L528.86,395.71 L529.38,394 L527.95,392.92 L529.74,392.88 Z" fill="#1f77b4"/>
<path d="M538.61,388.32 L539.2,390.01 L540.99,390.05 L539.56,391.13 L540.08,392.84 L538.61,391.82 L537.14,392.84 L537.66,391.13 L536.23,390.05 L538.02,390.01 Z" fill="#1f77b4"/>
<path d="M546.9,393.33 L547.48,395.03 L549.27,395.06 L547.85,396.14 L548.37,397.86 L546.9,396.83 L545.43,397.86 L545.94,396.14 L544.52,395.06 L546.31,395.03 Z" fill="#1f77b4"/>
<path d="M555.18,394.74 L555.77,396.43 L557.56,396.47 L556.13,397.55 L556.65,399.26 L555.18,398.24 L553.71,399.26 L554.23,397.55 L552.8,396.47 L554.59,396.43 Z" fill="#1f77b4"/>
<path d="M563.46,395.48 L564.05,397.17 L565.84,397.21 L564.42,398.29 L564.93,400 L563.46,398.98 L561.99,400 L562.51,398.29 L561.09,397.21 L562.88,397.17 Z" fill="#1f77b4"/>
<path d="M571.75,392.97 L572.34,394.66 L574.13,394.7 L572.7,395.78 L573.22,397.49 L571.75,396.47 L570.28,397.49 L570.8,395.78 L569.37,394.7 L571.16,394.66 Z" fill="#1f77b4"/>
<path d="M580.03,392.91 L580.62,394.61 L582.41,394.64 L580.98,395.72 L581.5,397.44 L580.03,396.41 L578.56,397.44 L579.08,395.72 L577.65,394.64 L579.44,394.61 Z" fill="#1f77b4"/>
<path d="M588.32,390.79 L588.9,392.49 L590.69,392.52 L589.27,393.6 L589.79,395.32 L588.32,394.29 L586.85,395.32 L587.36,393.6 L585.94,392.52 L587.73,392.49 Z" fill="#1f77b4"/>
<path d="M596.6,394.07 L597.19,395.76 L598.98,395.8 L597.55,396.88 L598.07,398.6 L596.6,397.57 L595.13,398.6 L595.65,396.88 L594.22,395.8 L596.01,395.76 Z" fill="#1f77b4"/>
<path d="M604.88,395.32 L605.47,397.01 L607.26,397.05 L605.84,398.13 L606.35,399.84 L604.88,398.82 L603.41,399.84 L603.93,398.13 L602.51,397.05 L604.3,397.01 Z" fill="#1f77b4"/>
<path d="M613.17,397.22 L613.76,398.92 L615.55,398.95 L614.12,400.03 L614.64,401.75 L613.17,400.72 L611.7,401.75 L612.22,400.03 L610.79,398.95 L612.58,398.92 Z" fill="#1f77b4"/>
<path d="M621.45,394.36 L622.04,396.05 L623.83,396.08 L622.4,397.17 L622.92,398.88 L621.45,397.86 L619.98,398.88 L620.5,397.17 L619.07,396.08 L620.86,396.05 Z" fill="#1f77b4"/>
<polyline points="389.5,275.0 390.0,264.0 390.2,264.4 390.5,264.8 390.7,265.2 391.0,265.6 391.2,266.0 391.4,266.4 391.7,266.8 391.9,267.3 392.1,267.7 392.4,268.1 392.6,268.5 392.9,268.9 393.1,269.3 393.3,269.7 393.6,270.1 393.8,270.5 394.0,270.9 394.3,271.3 394.5,271.7 394.8,272.1 395.0,272.5 395.2,273.0 395.5,273.4 395.7,273.8 396.0,274.2 396.2,274.6 396.4,275.0 396.7,275.4 396.9,275.8 397.1,276.2 397.4,276.6 397.6,277.0 397.9,277.4 398.1,277.6 398.3,277.8 398.6,277.9 398.8,278.1 399.1,278.3 399.3,278.4 399.5,278.6 399.8,278.7 400.0,278.9 400.2,279.1 400.5,279.2 400.7,279.4 401.0,279.5 401.2,279.7 401.4,279.9 401.7,280.0 401.9,280.2 402.1,280.3 402.4,280.5 402.6,280.6 402.9,280.8 403.1,281.0 403.3,281.1 403.6,281.3 403.8,281.4 404.1,281.6 404.3,281.8 404.5,281.9 404.8,282.1 405.0,282.2 405.2,282.4 405.5,282.5 405.7,282.7 406.0,282.9 406.2,283.0 406.4,283.2 406.7,283.3 406.9,283.5 407.2,283.7 407.4,283.8 407.6,284.0 407.9,284.1 408.1,284.3 408.3,284.4 408.6,284.6 408.8,284.8 409.1,284.9 409.3,285.1 409.5,285.2 409.8,285.4 410.0,285.6 410.2,285.7 410.5,285.9 410.7,286.0 411.0,286.2 411.2,286.3 411.4,286.5 411.7,286.7 411.9,286.8 412.2,287.0 412.4,287.1 412.6,287.3 412.9,287.5 413.1,287.6 413.3,287.8 413.6,287.9 413.8,288.1 414.1,288.3 414.3,288.4 414.5,288.6 414.8,288.7 415.0,288.9 415.2,289.0 415.5,289.2 415.7,289.4 416.0,289.5 416.2,289.7 416.4,289.8 416.7,290.0 416.9,290.2 417.2,290.3 417.4,290.5 417.6,290.6 417.9,290.8 418.1,290.9 418.3,291.1 418.6,291.3 418.8,291.4 419.1,291.6 419.3,291.7 419.5,291.9 419.8,292.1 420.0,292.2 420.3,292.4 420.5,292.5 420.7,292.7 421.0,292.8 421.2,293.0 421.4,293.2 421.7,293.3 421.9,293.5 422.2,293.6 422.4,293.8 422.6,294.0 422.9,294.1 423.1,294.2 423.3,294.4 423.6,294.5 423.8,294.7 424.1,294.8 424.3,294.9 424.5,295.1 424.8,295.2 425.0,295.4 425.3,295.5 425.5,295.7 425.7,295.8 426.0,295.9 426.2,296.1 426.4,296.2 426.7,296.4 426.9,296.5 427.2,296.6 427.4,296.8 427.6,296.9 427.9,297.1 428.1,297.2 428.4,297.3 428.6,297.5 428.8,297.6 429.1,297.8 429.3,297.9 429.5,298.0 429.8,298.2 430.0,298.3 430.3,298.5 430.5,298.6 430.7,298.7 431.0,298.9 431.2,299.0 431.4,299.2 431.7,299.3 431.9,299.5 432.2,299.6 432.4,299.7 432.6,299.9 432.9,300.0 433.1,300.2 433.4,300.3 433.6,300.4 433.8,300.6 434.1,300.7 434.3,300.9 434.5,301.0 434.8,301.1 435.0,301.3 435.3,301.4 435.5,301.6 435.7,301.7 436.0,301.8 436.2,302.0 436.4,302.1 436.7,302.3 436.9,302.4 437.2,302.6 437.4,302.7 437.6,302.8 437.9,303.0 438.1,303.1 438.4,303.3 438.6,303.4 438.8,303.5 439.1,303.7 439.3,303.8 439.5,304.0 439.8,304.1 440.0,304.2 440.3,304.4 440.5,304.5 440.7,304.7 441.0,304.8 441.2,304.9 441.5,305.1 441.7,305.2 441.9,305.4 442.2,305.5 442.4,305.6 442.6,305.8 442.9,305.9 443.1,306.1 443.4,306.2 443.6,306.4 443.8,306.5 444.1,306.6 444.3,306.8 444.5,306.9 444.8,307.1 445.0,307.2 445.3,307.3 445.5,307.5 445.7,307.6 446.0,307.8 446.2,307.9 446.5,308.0 446.7,308.2 446.9,308.3 447.2,308.5 447.4,308.6 447.6,308.7 447.9,308.9 448.1,309.0 448.4,309.2 448.6,309.3 448.8,309.5 449.1,309.6 449.3,309.7 449.6,309.9 449.8,310.0 450.0,310.2 450.3,310.3 450.5,310.4 450.7,310.6 451.0,310.7 451.2,310.9 451.5,311.0 451.7,311.1 451.9,311.3 452.2,311.4 452.4,311.6 452.6,311.7 452.9,311.8 453.1,312.0 453.4,312.1 453.6,312.3 453.8,312.4 454.1,312.5 454.3,312.7 454.6,312.8 454.8,313.0 455.0,313.1 455.3,313.3 455.5,313.4 455.7,313.5 456.0,313.7 456.2,313.8 456.5,314.0 456.7,314.1 456.9,314.2 457.2,314.4 457.4,314.5 457.6,314.7 457.9,314.8 458.1,314.9 458.4,315.1 458.6,315.2 458.8,315.4 459.1,315.5 459.3,315.6 459.6,315.8 459.8,315.9 460.0,316.1 460.3,316.2 460.5,316.4 460.7,316.5 461.0,316.6 461.2,316.8 461.5,316.9 461.7,317.1 461.9,317.2 462.2,317.3 462.4,317.5 462.7,317.6 462.9,317.8 463.1,317.9 463.4,318.0 463.6,318.2 463.8,318.3 464.1,318.5 464.3,318.6 464.6,318.7 464.8,318.9 465.0,319.0 465.3,319.2 465.5,319.3 465.7,319.5 466.0,319.6 466.2,319.7 466.5,319.9 466.7,320.0 466.9,320.2 467.2,320.3 467.4,320.4 467.7,320.6 467.9,320.7 468.1,320.9 468.4,321.0 468.6,321.1 468.8,321.3 469.1,321.4 469.3,321.6 469.6,321.7 469.8,321.8 470.0,322.0 470.3,322.1 470.5,322.3 470.7,322.4 471.0,322.5 471.2,322.7 471.5,322.8 471.7,323.0 471.9,323.1 472.2,323.3 472.4,323.4 472.7,323.5 472.9,323.7 473.1,323.8 473.4,324.0 473.6,324.1 473.8,324.2 474.1,324.4 474.3,324.5 474.6,324.7 474.8,324.8 475.0,324.9 475.3,325.1 475.5,325.2 475.8,325.4 476.0,325.5 476.2,325.6 476.5,325.8 476.7,325.9 476.9,326.1 477.2,326.2 477.4,326.4 477.7,326.5 477.9,326.6 478.1,326.8 478.4,326.9 478.6,327.1 478.8,327.2 479.1,327.3 479.3,327.5 479.6,327.6 479.8,327.8 480.0,327.9 480.3,328.0 480.5,328.2 480.8,328.3 481.0,328.5 481.2,328.6 481.5,328.7 481.7,328.9 481.9,329.0 482.2,329.2 482.4,329.3 482.7,329.4 482.9,329.6 483.1,329.7 483.4,329.9 483.6,330.0 483.9,330.2 484.1,330.3 484.3,330.4 484.6,330.6 484.8,330.7 485.0,330.9 485.3,331.0 485.5,331.1 485.8,331.3 486.0,331.4 486.2,331.6 486.5,331.7 486.7,331.8 486.9,332.0 487.2,332.1 487.4,332.3 487.7,332.4 487.9,332.5 488.1,332.7 488.4,332.8 488.6,333.0 488.9,333.1 489.1,333.3 489.3,333.4 489.6,333.5 489.8,333.7 490.0,333.8 490.3,334.0 490.5,334.1 490.8,334.2 491.0,334.4 491.2,334.5 491.5,334.7 491.7,334.8 491.9,334.9 492.2,335.1 492.4,335.2 492.7,335.4 492.9,335.5 493.1,335.6 493.4,335.8 493.6,335.9 493.9,336.1 494.1,336.2 494.3,336.3 494.6,336.5 494.8,336.6 495.0,336.8 495.3,336.9 495.5,337.1 495.8,337.2 496.0,337.3 496.2,337.5 496.5,337.6 496.7,337.8 497.0,337.9 497.2,338.0 497.4,338.2 497.7,338.3 497.9,338.5 498.1,338.7 498.4,338.8 498.6,339.0 498.9,339.2 499.1,339.3 499.3,339.5 499.6,339.7 499.8,339.9 500.0,340.0 500.3,340.2 500.5,340.4 500.8,340.6 501.0,340.7 501.2,340.9 501.5,341.1 501.7,341.3 502.0,341.4 502.2,341.6 502.4,341.8 502.7,342.0 502.9,342.1 503.1,342.3 503.4,342.5 503.6,342.6 503.9,342.8 504.1,343.0 504.3,343.2 504.6,343.3 504.8,343.5 505.1,343.7 505.3,343.9 505.5,344.0 505.8,344.2 506.0,344.4 506.2,344.6 506.5,344.7 506.7,344.9 507.0,345.1 507.2,345.3 507.4,345.4 507.7,345.6 507.9,345.8 508.1,346.0 508.4,346.1 508.6,346.3 508.9,346.5 509.1,346.6 509.3,346.8 509.6,347.0 509.8,347.2 510.1,347.3 510.3,347.5 510.5,347.7 510.8,347.9 511.0,348.0 511.2,348.2 511.5,348.4 511.7,348.6 512.0,348.7 512.2,348.9 512.4,349.1 512.7,349.3 512.9,349.4 513.1,349.6 513.4,349.8 513.6,350.0 513.9,350.1 514.1,350.3 514.3,350.4 514.6,350.6 514.8,350.7 515.1,350.9 515.3,351.0 515.5,351.2 515.8,351.3 516.0,351.4 516.2,351.6 516.5,351.7 516.7,351.9 517.0,352.0 517.2,352.2 517.4,352.3 517.7,352.4 517.9,352.6 518.2,352.7 518.4,352.9 518.6,353.0 518.9,353.2 519.1,353.3 519.3,353.4 519.6,353.6 519.8,353.7 520.1,353.9 520.3,354.0 520.5,354.2 520.8,354.3 521.0,354.4 521.2,354.6 521.5,354.7 521.7,354.9 522.0,355.0 522.2,355.2 522.4,355.3 522.7,355.4 522.9,355.6 523.2,355.7 523.4,355.9 523.6,356.0 523.9,356.2 524.1,356.3 524.3,356.4 524.6,356.6 524.8,356.7 525.1,356.9 525.3,357.0 525.5,357.2 525.8,357.3 526.0,357.4 526.3,357.6 526.5,357.7 526.7,357.9 527.0,358.0 527.2,358.2 527.4,358.3 527.7,358.4 527.9,358.6 528.2,358.7 528.4,358.9 528.6,359.0 528.9,359.2 529.1,359.3 529.3,359.4 529.6,359.6 529.8,359.7 530.1,359.9 530.3,360.0 530.5,360.2 530.8,360.3 531.0,360.4 531.3,360.6 531.5,360.7 531.7,360.9 532.0,361.0 532.2,361.2 532.4,361.3 532.7,361.4 532.9,361.6 533.2,361.7 533.4,361.9 533.6,362.0 533.9,362.2 534.1,362.3 534.3,362.4 534.6,362.6 534.8,362.7 535.1,362.9 535.3,363.0 535.5,363.2 535.8,363.3 536.0,363.4 536.3,363.6 536.5,363.7 536.7,363.9 537.0,364.0 537.2,364.2 537.4,364.3 537.7,364.4 537.9,364.6 538.2,364.7 538.4,364.9 538.6,365.0 538.9,365.2 539.1,365.3 539.4,365.4 539.6,365.6 539.8,365.7 540.1,365.9 540.3,366.0 540.5,366.2 540.8,366.3 541.0,366.4 541.3,366.6 541.5,366.7 541.7,366.9 542.0,367.0 542.2,367.2 542.4,367.3 542.7,367.4 542.9,367.6 543.2,367.7 543.4,367.9 543.6,368.0 543.9,368.2 544.1,368.3 544.4,368.4 544.6,368.6 544.8,368.7 545.1,368.9 545.3,369.0 545.5,369.2 545.8,369.3 546.0,369.4 546.3,369.6 546.5,369.7 546.7,369.9 547.0,370.0 547.2,370.2 547.5,370.3 547.7,370.4 547.9,370.6 548.2,370.7 548.4,370.9 548.6,371.0 548.9,371.2 549.1,371.3 549.4,371.4 549.6,371.6 549.8,371.7 550.1,371.9 550.3,372.0 550.5,372.2 550.8,372.3 551.0,372.4 551.3,372.6 551.5,372.7 551.7,372.9 552.0,373.0 552.2,373.2 552.5,373.3 552.7,373.4 552.9,373.6 553.2,373.7 553.4,373.9 553.6,374.0 553.9,374.2 554.1,374.3 554.4,374.4 554.6,374.6 554.8,374.7 555.1,374.9 555.3,375.0 555.5,375.2 555.8,375.3 556.0,375.4 556.3,375.6 556.5,375.7 556.7,375.9 557.0,376.0 557.2,376.2 557.5,376.3 557.7,376.4 557.9,376.6 558.2,376.7 558.4,376.9 558.6,377.0 558.9,377.2 559.1,377.3 559.4,377.4 559.6,377.6 559.8,377.7 560.1,377.9 560.3,378.0 560.6,378.2 560.8,378.3 561.0,378.4 561.3,378.6 561.5,378.7 561.7,378.9 562.0,379.0 562.2,379.2 562.5,379.3 562.7,379.4 562.9,379.6 563.2,379.7 563.4,379.9 563.6,380.0 563.9,380.2 564.1,380.3 564.4,380.4 564.6,380.6 564.8,380.7 565.1,380.9 565.3,381.0 565.6,381.2 565.8,381.3 566.0,381.4 566.3,381.6 566.5,381.7 566.7,381.9 567.0,382.0 567.2,382.2 567.5,382.3 567.7,382.4 567.9,382.6 568.2,382.7 568.4,382.9 568.7,383.0 568.9,383.2 569.1,383.3 569.4,383.4 569.6,383.6 569.8,383.7 570.1,383.9 570.3,384.0 570.6,384.2 570.8,384.3 571.0,384.4 571.3,384.6 571.5,384.7 571.7,384.9 572.0,385.0 572.2,385.2 572.5,385.3 572.7,385.4 572.9,385.6 573.2,385.7 573.4,385.9 573.7,386.0 573.9,386.2 574.1,386.3 574.4,386.4 574.6,386.6 574.8,386.7 575.1,386.9 575.3,387.0 575.6,387.2 575.8,387.3 576.0,387.4 576.3,387.6 576.5,387.7 576.7,387.9 577.0,388.0 577.2,388.2 577.5,388.3 577.7,388.4 577.9,388.6 578.2,388.7 578.4,388.9 578.7,389.0 578.9,389.2 579.1,389.3 579.4,389.4 579.6,389.6 579.8,389.7 580.1,389.9 580.3,390.0 580.6,390.2 580.8,390.3 581.0,390.4 581.3,390.6 581.5,390.7 581.8,390.9 582.0,391.0 582.2,391.2 582.5,391.3 582.7,391.4 582.9,391.6 583.2,391.7 583.4,391.9 583.7,392.0 583.9,392.2 584.1,392.3 584.4,392.4 584.6,392.6 584.8,392.7 585.1,392.9 585.3,393.0 585.6,393.2 585.8,393.3 586.0,393.4 586.3,393.6 586.5,393.7 586.8,393.9 587.0,394.0 587.2,394.2 587.5,394.3 587.7,394.4 587.9,394.6 588.2,394.7 588.4,394.9 588.7,395.0 588.9,395.2 589.1,395.3 589.4,395.5 589.6,395.6 589.8,395.8 590.1,396.0 590.3,396.1 590.6,396.3 590.8,396.5 591.0,396.7 591.3,396.8 591.5,397.0 591.8,397.2 592.0,397.4 592.2,397.5 592.5,397.7 592.7,397.9 592.9,398.1 593.2,398.1 593.4,398.2 593.7,398.2 593.9,398.2 594.1,398.2 594.4,398.3 594.6,398.3 594.9,398.3 595.1,398.4 595.3,398.4 595.6,398.4 595.8,398.5 596.0,398.5 596.3,398.5 596.5,398.6 596.8,398.6 597.0,398.6 597.2,398.6 597.5,398.7 597.7,398.7 597.9,398.7 598.2,398.8 598.4,398.8 598.7,398.8 598.9,398.9 599.1,398.9 599.4,398.9 599.6,399.0 599.9,399.0 600.1,403.8 600.3,405.0 600.6,407.4 600.8,406.9 601.0,407.0 601.3,402.9 601.5,400.1 601.8,409.7 602.0,411.0 602.2,396.5 602.5,403.1 602.7,404.3 603.0,405.4 603.2,401.9 603.4,404.3 603.7,408.0 603.9,399.9 604.1,404.0 604.4,404.8 604.6,400.8 604.9,403.6 605.1,398.9 605.3,404.7 605.6,408.0 605.8,402.5 606.0,404.8 606.3,403.6 606.5,405.7 606.8,401.9 607.0,408.6 607.2,401.9 607.5,407.8 607.7,404.8 608.0,402.1 608.2,403.3 608.4,405.9 608.7,403.1 608.9,403.0 609.1,408.4 609.4,404.8 609.6,409.0 609.9,406.5 610.1,396.8 610.3,405.4 610.6,403.9 610.8,405.2 611.0,400.9 611.3,403.1 611.5,404.3 611.8,405.3 612.0,404.5 612.2,416.4 612.5,410.1 612.7,402.5 613.0,410.1 613.2,406.2 613.4,405.6 613.7,398.2 613.9,404.3 614.1,402.0 614.4,404.8 614.6,406.1 614.9,399.4 615.1,404.8 615.3,400.3 615.6,403.9 615.8,401.6 616.1,400.5 616.3,405.2 616.5,403.2 616.8,401.2 617.0,400.2 617.2,402.5 617.5,401.2 617.7,401.1 618.0,406.0 618.2,399.5 618.4,398.9 618.7,401.3 618.9,402.2 619.1,403.6 619.4,404.4 619.6,407.1 619.9,400.3 620.1,405.5 620.3,403.8 620.6,407.2 620.8,401.9 621.1,401.8 621.3,402.7 621.5,412.3 621.8,410.0 622.0,405.4 622.2,409.9 622.5,403.9 622.7,406.2 623.0,405.8 623.2,406.6 623.4,405.5 623.7,402.9 623.9,406.9 624.2,408.5 624.4,400.1 624.6,403.1 624.9,403.5 625.1,405.9 625.3,404.5 625.6,407.5 625.8,402.6 626.1,405.4 626.3,405.2 626.5,410.6 626.8,407.9 627.0,402.8 627.2,405.4 627.5,403.6 627.7,404.8" fill="none" stroke="#ff7f0e" stroke-width="1.7" stroke-linejoin="round"/>
<path d="M386.5,272.6 L392.5,272.6 L389.5,278 Z" fill="#ff7f0e"/>
<path d="M394.78,274.9 L400.78,274.9 L397.78,280.3 Z" fill="#ff7f0e"/>
<path d="M403.07,280.53 L409.07,280.53 L406.07,285.93 Z" fill="#ff7f0e"/>
<path d="M411.35,286.05 L417.35,286.05 L414.35,291.45 Z" fill="#ff7f0e"/>
<path d="M419.64,291.56 L425.64,291.56 L422.64,296.96 Z" fill="#ff7f0e"/>
<path d="M427.92,296.46 L433.92,296.46 L430.92,301.86 Z" fill="#ff7f0e"/>
<path d="M436.2,301.36 L442.2,301.36 L439.2,306.76 Z" fill="#ff7f0e"/>
<path d="M444.49,306.25 L450.49,306.25 L447.49,311.65 Z" fill="#ff7f0e"/>
<path d="M452.77,311.15 L458.77,311.15 L455.77,316.55 Z" fill="#ff7f0e"/>
<path d="M461.06,316.05 L467.06,316.05 L464.06,321.45 Z" fill="#ff7f0e"/>
<path d="M469.34,320.95 L475.34,320.95 L472.34,326.35 Z" fill="#ff7f0e"/>
<path d="M477.62,325.85 L483.62,325.85 L480.62,331.25 Z" fill="#ff7f0e"/>
<path d="M485.91,330.74 L491.91,330.74 L488.91,336.14 Z" fill="#ff7f0e"/>
<path d="M494.19,335.64 L500.19,335.64 L497.19,341.04 Z" fill="#ff7f0e"/>
<path d="M502.48,341.6 L508.48,341.6 L505.48,347 Z" fill="#ff7f0e"/>
<path d="M510.76,347.65 L516.76,347.65 L513.76,353.05 Z" fill="#ff7f0e"/>
<path d="M519.04,352.66 L525.04,352.66 L522.04,358.06 Z" fill="#ff7f0e"/>
<path d="M527.33,357.63 L533.33,357.63 L530.33,363.03 Z" fill="#ff7f0e"/>
<path d="M535.61,362.6 L541.61,362.6 L538.61,368 Z" fill="#ff7f0e"/>
<path d="M543.9,367.57 L549.9,367.57 L546.9,372.97 Z" fill="#ff7f0e"/>
<path d="M552.18,372.54 L558.18,372.54 L555.18,377.94 Z" fill="#ff7f0e"/>
<path d="M560.46,377.51 L566.46,377.51 L563.46,382.91 Z" fill="#ff7f0e"/>
<path d="M568.75,382.47 L574.75,382.47 L571.75,387.87 Z" fill="#ff7f0e"/>
<path d="M577.03,387.44 L583.03,387.44 L580.03,392.84 Z" fill="#ff7f0e"/>
<path d="M585.32,392.41 L591.32,392.41 L588.32,397.81 Z" fill="#ff7f0e"/>
<path d="M593.6,396.16 L599.6,396.16 L596.6,401.56 Z" fill="#ff7f0e"/>
<path d="M601.88,404.06 L607.88,404.06 L604.88,409.46 Z" fill="#ff7f0e"/>
<path d="M610.17,402.56 L616.17,402.56 L613.17,407.96 Z" fill="#ff7f0e"/>
<path d="M618.45,401.64 L624.45,401.64 L621.45,407.04 Z" fill="#ff7f0e"/>
<polyline points="389.5,276.0 390.0,266.0 390.2,266.4 390.5,266.8 390.7,267.3 391.0,267.7 391.2,268.1 391.4,268.5 391.7,269.0 391.9,269.4 392.1,269.8 392.4,270.2 392.6,270.6 392.9,271.1 393.1,271.5 393.3,271.9 393.6,272.3 393.8,272.8 394.0,273.2 394.3,273.6 394.5,274.0 394.8,274.4 395.0,274.9 395.2,275.3 395.5,275.7 395.7,276.1 396.0,276.6 396.2,277.0 396.4,277.4 396.7,277.8 396.9,278.2 397.1,278.7 397.4,279.1 397.6,279.5 397.9,279.9 398.1,280.2 398.3,280.4 398.6,280.6 398.8,280.8 399.1,281.0 399.3,281.2 399.5,281.4 399.8,281.6 400.0,281.8 400.2,282.0 400.5,282.2 400.7,282.4 401.0,282.7 401.2,282.9 401.4,283.1 401.7,283.3 401.9,283.5 402.1,283.7 402.4,283.9 402.6,284.1 402.9,284.3 403.1,284.5 403.3,284.7 403.6,284.9 403.8,285.1 404.1,285.3 404.3,285.5 404.5,285.8 404.8,286.0 405.0,286.2 405.2,286.4 405.5,286.6 405.7,286.8 406.0,287.0 406.2,287.2 406.4,287.4 406.7,287.6 406.9,287.8 407.2,288.0 407.4,288.2 407.6,288.4 407.9,288.6 408.1,288.9 408.3,289.1 408.6,289.3 408.8,289.5 409.1,289.7 409.3,289.9 409.5,290.1 409.8,290.3 410.0,290.5 410.2,290.7 410.5,290.9 410.7,291.1 411.0,291.3 411.2,291.5 411.4,291.7 411.7,292.0 411.9,292.2 412.2,292.4 412.4,292.6 412.6,292.8 412.9,293.0 413.1,293.2 413.3,293.4 413.6,293.6 413.8,293.8 414.1,294.0 414.3,294.2 414.5,294.4 414.8,294.6 415.0,294.9 415.2,295.1 415.5,295.3 415.7,295.5 416.0,295.7 416.2,295.9 416.4,296.1 416.7,296.3 416.9,296.5 417.2,296.7 417.4,296.9 417.6,297.1 417.9,297.3 418.1,297.5 418.3,297.7 418.6,298.0 418.8,298.2 419.1,298.4 419.3,298.6 419.5,298.8 419.8,299.0 420.0,299.2 420.3,299.4 420.5,299.6 420.7,299.8 421.0,300.0 421.2,300.2 421.4,300.4 421.7,300.6 421.9,300.8 422.2,301.1 422.4,301.3 422.6,301.5 422.9,301.7 423.1,301.9 423.3,302.1 423.6,302.3 423.8,302.5 424.1,302.7 424.3,302.9 424.5,303.1 424.8,303.3 425.0,303.5 425.3,303.7 425.5,303.9 425.7,304.2 426.0,304.4 426.2,304.6 426.4,304.8 426.7,305.0 426.9,305.2 427.2,305.4 427.4,305.6 427.6,305.8 427.9,306.0 428.1,306.2 428.4,306.4 428.6,306.6 428.8,306.8 429.1,307.0 429.3,307.3 429.5,307.5 429.8,307.7 430.0,307.9 430.3,308.1 430.5,308.3 430.7,308.5 431.0,308.7 431.2,308.9 431.4,309.1 431.7,309.3 431.9,309.6 432.2,309.8 432.4,310.0 432.6,310.2 432.9,310.4 433.1,310.6 433.4,310.8 433.6,311.1 433.8,311.3 434.1,311.5 434.3,311.7 434.5,311.9 434.8,312.1 435.0,312.3 435.3,312.5 435.5,312.8 435.7,313.0 436.0,313.2 436.2,313.4 436.4,313.6 436.7,313.8 436.9,314.0 437.2,314.3 437.4,314.5 437.6,314.7 437.9,314.9 438.1,315.1 438.4,315.3 438.6,315.5 438.8,315.8 439.1,316.0 439.3,316.2 439.5,316.4 439.8,316.6 440.0,316.8 440.3,317.0 440.5,317.3 440.7,317.5 441.0,317.7 441.2,317.9 441.5,318.1 441.7,318.3 441.9,318.5 442.2,318.8 442.4,319.0 442.6,319.2 442.9,319.4 443.1,319.6 443.4,319.8 443.6,320.0 443.8,320.3 444.1,320.5 444.3,320.7 444.5,320.9 444.8,321.1 445.0,321.3 445.3,321.5 445.5,321.8 445.7,322.0 446.0,322.2 446.2,322.4 446.5,322.6 446.7,322.8 446.9,323.0 447.2,323.3 447.4,323.5 447.6,323.7 447.9,323.9 448.1,324.1 448.4,324.3 448.6,324.5 448.8,324.7 449.1,324.9 449.3,325.1 449.6,325.4 449.8,325.6 450.0,325.8 450.3,326.0 450.5,326.2 450.7,326.4 451.0,326.6 451.2,326.8 451.5,327.0 451.7,327.2 451.9,327.4 452.2,327.6 452.4,327.8 452.6,328.0 452.9,328.2 453.1,328.4 453.4,328.6 453.6,328.9 453.8,329.1 454.1,329.3 454.3,329.5 454.6,329.7 454.8,329.9 455.0,330.1 455.3,330.3 455.5,330.5 455.7,330.7 456.0,330.9 456.2,331.1 456.5,331.3 456.7,331.5 456.9,331.7 457.2,331.9 457.4,332.1 457.6,332.4 457.9,332.6 458.1,332.8 458.4,333.0 458.6,333.2 458.8,333.4 459.1,333.6 459.3,333.8 459.6,334.0 459.8,334.2 460.0,334.4 460.3,334.6 460.5,334.8 460.7,335.0 461.0,335.2 461.2,335.4 461.5,335.6 461.7,335.9 461.9,336.1 462.2,336.3 462.4,336.5 462.7,336.7 462.9,336.9 463.1,337.1 463.4,337.3 463.6,337.5 463.8,337.7 464.1,337.9 464.3,338.1 464.6,338.3 464.8,338.5 465.0,338.7 465.3,339.0 465.5,339.2 465.7,339.4 466.0,339.6 466.2,339.8 466.5,340.0 466.7,340.2 466.9,340.4 467.2,340.6 467.4,340.8 467.7,341.0 467.9,341.2 468.1,341.5 468.4,341.7 468.6,341.9 468.8,342.1 469.1,342.3 469.3,342.5 469.6,342.7 469.8,342.9 470.0,343.1 470.3,343.3 470.5,343.5 470.7,343.8 471.0,344.0 471.2,344.2 471.5,344.4 471.7,344.6 471.9,344.8 472.2,345.0 472.4,345.2 472.7,345.4 472.9,345.6 473.1,345.8 473.4,346.0 473.6,346.3 473.8,346.5 474.1,346.7 474.3,346.9 474.6,347.1 474.8,347.3 475.0,347.5 475.3,347.7 475.5,347.9 475.8,348.1 476.0,348.3 476.2,348.6 476.5,348.8 476.7,349.0 476.9,349.2 477.2,349.4 477.4,349.6 477.7,349.8 477.9,350.0 478.1,350.2 478.4,350.4 478.6,350.6 478.8,350.9 479.1,351.1 479.3,351.3 479.6,351.5 479.8,351.7 480.0,351.9 480.3,352.1 480.5,352.3 480.8,352.5 481.0,352.7 481.2,352.9 481.5,353.1 481.7,353.4 481.9,353.6 482.2,353.8 482.4,354.0 482.7,354.2 482.9,354.4 483.1,354.6 483.4,354.8 483.6,355.0 483.9,355.2 484.1,355.4 484.3,355.7 484.6,355.9 484.8,356.1 485.0,356.3 485.3,356.5 485.5,356.7 485.8,356.9 486.0,357.1 486.2,357.3 486.5,357.5 486.7,357.7 486.9,358.0 487.2,358.2 487.4,358.4 487.7,358.6 487.9,358.8 488.1,359.0 488.4,359.2 488.6,359.4 488.9,359.6 489.1,359.8 489.3,360.0 489.6,360.2 489.8,360.5 490.0,360.7 490.3,360.9 490.5,361.1 490.8,361.3 491.0,361.5 491.2,361.7 491.5,361.9 491.7,362.1 491.9,362.3 492.2,362.5 492.4,362.8 492.7,363.0 492.9,363.2 493.1,363.4 493.4,363.6 493.6,363.8 493.9,364.0 494.1,364.2 494.3,364.4 494.6,364.6 494.8,364.8 495.0,365.0 495.3,365.3 495.5,365.5 495.8,365.7 496.0,365.9 496.2,366.1 496.5,366.3 496.7,366.5 497.0,366.7 497.2,366.9 497.4,367.1 497.7,367.3 497.9,367.6 498.1,367.8 498.4,368.0 498.6,368.2 498.9,368.4 499.1,368.6 499.3,368.8 499.6,369.0 499.8,369.2 500.0,369.4 500.3,369.6 500.5,369.9 500.8,370.1 501.0,370.3 501.2,370.5 501.5,370.7 501.7,370.9 502.0,371.1 502.2,371.3 502.4,371.5 502.7,371.7 502.9,371.9 503.1,372.1 503.4,372.4 503.6,372.6 503.9,372.8 504.1,373.0 504.3,373.2 504.6,373.4 504.8,373.6 505.1,373.8 505.3,374.0 505.5,374.2 505.8,374.4 506.0,374.7 506.2,374.9 506.5,375.1 506.7,375.3 507.0,375.5 507.2,375.7 507.4,375.9 507.7,376.1 507.9,376.3 508.1,376.5 508.4,376.8 508.6,377.0 508.9,377.2 509.1,377.4 509.3,377.6 509.6,377.8 509.8,378.0 510.1,378.2 510.3,378.4 510.5,378.6 510.8,378.9 511.0,379.1 511.2,379.3 511.5,379.5 511.7,379.7 512.0,379.9 512.2,380.1 512.4,380.3 512.7,380.5 512.9,380.8 513.1,381.0 513.4,381.2 513.6,381.4 513.9,381.6 514.1,381.8 514.3,382.0 514.6,382.2 514.8,382.5 515.1,382.7 515.3,382.9 515.5,383.1 515.8,383.3 516.0,383.5 516.2,383.8 516.5,384.0 516.7,384.2 517.0,384.4 517.2,384.6 517.4,384.9 517.7,385.1 517.9,385.3 518.2,385.5 518.4,385.7 518.6,385.9 518.9,386.2 519.1,386.4 519.3,386.6 519.6,386.8 519.8,387.0 520.1,387.3 520.3,387.5 520.5,387.7 520.8,387.9 521.0,388.1 521.2,388.3 521.5,388.6 521.7,388.8 522.0,389.0 522.2,389.2 522.4,389.4 522.7,389.7 522.9,389.9 523.2,390.1 523.4,390.3 523.6,390.5 523.9,390.7 524.1,391.0 524.3,391.2 524.6,391.4 524.8,391.6 525.1,391.8 525.3,392.1 525.5,392.3 525.8,392.5 526.0,392.7 526.3,392.9 526.5,393.1 526.7,393.4 527.0,393.6 527.2,393.8 527.4,394.0 527.7,394.2 527.9,394.5 528.2,394.7 528.4,394.9 528.6,395.1 528.9,395.3 529.1,395.5 529.3,395.8 529.6,396.0 529.8,396.2 530.1,396.4 530.3,396.6 530.5,396.9 530.8,408.0 531.0,408.6 531.3,407.3 531.5,406.2 531.7,408.7 532.0,407.5 532.2,399.5 532.4,403.3 532.7,406.7 532.9,399.2 533.2,411.4 533.4,405.0 533.6,411.1 533.9,402.5 534.1,404.3 534.3,411.6 534.6,408.3 534.8,406.1 535.1,406.8 535.3,406.7 535.5,406.8 535.8,401.3 536.0,400.5 536.3,400.5 536.5,410.5 536.7,408.3 537.0,406.2 537.2,409.9 537.4,405.2 537.7,406.2 537.9,405.1 538.2,409.2 538.4,407.6 538.6,412.7 538.9,410.3 539.1,405.4 539.4,408.4 539.6,410.8 539.8,411.1 540.1,405.9 540.3,412.1 540.5,403.2 540.8,411.3 541.0,408.4 541.3,408.6 541.5,409.8 541.7,405.6 542.0,401.6 542.2,404.6 542.4,409.6 542.7,404.9 542.9,406.3 543.2,405.2 543.4,402.1 543.6,410.2 543.9,406.0 544.1,399.8 544.4,404.6 544.6,410.7 544.8,407.5 545.1,404.8 545.3,400.3 545.5,409.0 545.8,406.6 546.0,407.9 546.3,405.8 546.5,409.0 546.7,404.5 547.0,407.4 547.2,403.4 547.5,409.0 547.7,407.8 547.9,404.5 548.2,404.3 548.4,407.0 548.6,409.0 548.9,404.2 549.1,411.7 549.4,407.0 549.6,406.4 549.8,412.6 550.1,403.3 550.3,409.4 550.5,398.9 550.8,405.1 551.0,407.8 551.3,407.9 551.5,410.4 551.7,409.3 552.0,409.3 552.2,409.7 552.5,409.3 552.7,403.4 552.9,405.6 553.2,411.3 553.4,405.2 553.6,405.6 553.9,409.3 554.1,408.5 554.4,403.1 554.6,405.7 554.8,406.2 555.1,407.1 555.3,409.9 555.5,411.7 555.8,404.2 556.0,404.0 556.3,403.9 556.5,409.4 556.7,404.0 557.0,409.1 557.2,409.0 557.5,405.9 557.7,408.1 557.9,403.1 558.2,405.9 558.4,406.0 558.6,415.7 558.9,407.0 559.1,404.6 559.4,408.8 559.6,410.8 559.8,402.7 560.1,406.4 560.3,406.5 560.6,406.3 560.8,406.5 561.0,410.3 561.3,403.3 561.5,412.2 561.7,406.4 562.0,407.9 562.2,410.6 562.5,405.9 562.7,402.7 562.9,406.3 563.2,402.9 563.4,406.9 563.6,405.7 563.9,407.5 564.1,406.2 564.4,408.4 564.6,412.5 564.8,407.4 565.1,409.7 565.3,405.7 565.6,400.4 565.8,405.2 566.0,404.8 566.3,403.2 566.5,407.8 566.7,406.2 567.0,405.4 567.2,406.7 567.5,408.0 567.7,406.2 567.9,411.9 568.2,412.2 568.4,405.5 568.7,410.4 568.9,407.5 569.1,404.7 569.4,407.4 569.6,406.0 569.8,405.9 570.1,406.7 570.3,409.7 570.6,403.5 570.8,409.0 571.0,412.5 571.3,404.2 571.5,406.4 571.7,410.6 572.0,402.9 572.2,413.3 572.5,408.6 572.7,408.3 572.9,409.5 573.2,404.8 573.4,405.6 573.7,408.3 573.9,404.8 574.1,407.9 574.4,406.5 574.6,401.8 574.8,405.4 575.1,403.9 575.3,405.5 575.6,402.8 575.8,410.1 576.0,404.1 576.3,404.5 576.5,411.0 576.7,408.0 577.0,410.3 577.2,403.8 577.5,404.0 577.7,403.6 577.9,409.5 578.2,407.3 578.4,406.7 578.7,402.9 578.9,406.8 579.1,407.1 579.4,409.0 579.6,410.0 579.8,406.9 580.1,411.0 580.3,410.0 580.6,409.6 580.8,408.0 581.0,405.3 581.3,398.5 581.5,402.6 581.8,408.9 582.0,402.1 582.2,400.6 582.5,404.6 582.7,407.5 582.9,407.9 583.2,409.3 583.4,403.1 583.7,407.4 583.9,407.4 584.1,410.5 584.4,407.6 584.6,411.1 584.8,406.4 585.1,406.8 585.3,407.8 585.6,404.0 585.8,405.6 586.0,406.5 586.3,405.7 586.5,407.2 586.8,407.2 587.0,409.8 587.2,405.0 587.5,409.6 587.7,417.6 587.9,407.3 588.2,405.5 588.4,406.3 588.7,411.0 588.9,411.6 589.1,412.7 589.4,406.8 589.6,409.3 589.8,410.0 590.1,407.5 590.3,407.4 590.6,408.7 590.8,413.7 591.0,409.2 591.3,407.5 591.5,409.5 591.8,409.4 592.0,400.7 592.2,410.7 592.5,406.1 592.7,409.1 592.9,408.1 593.2,404.7 593.4,403.9 593.7,407.9 593.9,405.3 594.1,409.4 594.4,406.8 594.6,404.9 594.9,409.4 595.1,405.9 595.3,406.1 595.6,407.2 595.8,407.2 596.0,411.0 596.3,410.3 596.5,407.2 596.8,411.4 597.0,406.6 597.2,406.8 597.5,408.2 597.7,407.9 597.9,407.9 598.2,406.9 598.4,408.5 598.7,406.4 598.9,405.9 599.1,404.7 599.4,405.2 599.6,409.1 599.9,404.4 600.1,405.3 600.3,410.5 600.6,400.5 600.8,406.3 601.0,407.1 601.3,409.5 601.5,410.8 601.8,405.6 602.0,402.6 602.2,410.2 602.5,403.1 602.7,407.4 603.0,409.6 603.2,405.0 603.4,404.2 603.7,404.0 603.9,402.4 604.1,410.1 604.4,404.7 604.6,409.3 604.9,413.5 605.1,410.2 605.3,402.4 605.6,407.2 605.8,408.5 606.0,404.2 606.3,406.2 606.5,404.8 606.8,408.0 607.0,400.4 607.2,402.2 607.5,405.0 607.7,410.8 608.0,402.9 608.2,403.8 608.4,410.6 608.7,408.4 608.9,409.4 609.1,405.2 609.4,407.9 609.6,407.1 609.9,412.6 610.1,407.0 610.3,400.9 610.6,408.3 610.8,405.7 611.0,409.3 611.3,410.0 611.5,410.0 611.8,401.2 612.0,404.5 612.2,403.1 612.5,408.0 612.7,403.1 613.0,406.9 613.2,410.4 613.4,407.1 613.7,414.0 613.9,406.8 614.1,405.4 614.4,405.6 614.6,404.3 614.9,405.8 615.1,404.0 615.3,406.3 615.6,404.2 615.8,405.0 616.1,404.4 616.3,404.9 616.5,404.0 616.8,407.3 617.0,406.5 617.2,411.3 617.5,403.5 617.7,407.4 618.0,407.5 618.2,408.7 618.4,406.2 618.7,411.3 618.9,408.0 619.1,409.6 619.4,407.3 619.6,403.4 619.9,408.5 620.1,400.8 620.3,409.3 620.6,402.0 620.8,408.5 621.1,409.4 621.3,402.9 621.5,403.8 621.8,407.4 622.0,409.3 622.2,404.4 622.5,407.7 622.7,408.2 623.0,410.3 623.2,408.3 623.4,406.8 623.7,409.6 623.9,410.2 624.2,403.8 624.4,411.4 624.6,402.8 624.9,402.6 625.1,401.5 625.3,403.9 625.6,406.0 625.8,405.7 626.1,406.9 626.3,405.4 626.5,409.2 626.8,401.8 627.0,411.0 627.2,408.0 627.5,406.2 627.7,405.4" fill="none" stroke="#2ca02c" stroke-width="1.7" stroke-linejoin="round"/>
<path d="M386.5,278.4 L392.5,278.4 L389.5,273 Z" fill="#2ca02c"/>
<path d="M394.78,282.19 L400.78,282.19 L397.78,276.79 Z" fill="#2ca02c"/>
<path d="M403.07,289.49 L409.07,289.49 L406.07,284.09 Z" fill="#2ca02c"/>
<path d="M411.35,296.68 L417.35,296.68 L414.35,291.28 Z" fill="#2ca02c"/>
<path d="M419.64,303.87 L425.64,303.87 L422.64,298.47 Z" fill="#2ca02c"/>
<path d="M427.92,311.06 L433.92,311.06 L430.92,305.66 Z" fill="#2ca02c"/>
<path d="M436.2,318.5 L442.2,318.5 L439.2,313.1 Z" fill="#2ca02c"/>
<path d="M444.49,325.95 L450.49,325.95 L447.49,320.55 Z" fill="#2ca02c"/>
<path d="M452.77,333.13 L458.77,333.13 L455.77,327.73 Z" fill="#2ca02c"/>
<path d="M461.06,340.29 L467.06,340.29 L464.06,334.89 Z" fill="#2ca02c"/>
<path d="M469.34,347.55 L475.34,347.55 L472.34,342.15 Z" fill="#2ca02c"/>
<path d="M477.62,354.81 L483.62,354.81 L480.62,349.41 Z" fill="#2ca02c"/>
<path d="M485.91,362.07 L491.91,362.07 L488.91,356.67 Z" fill="#2ca02c"/>
<path d="M494.19,369.33 L500.19,369.33 L497.19,363.93 Z" fill="#2ca02c"/>
<path d="M502.48,376.59 L508.48,376.59 L505.48,371.19 Z" fill="#2ca02c"/>
<path d="M510.76,383.9 L516.76,383.9 L513.76,378.5 Z" fill="#2ca02c"/>
<path d="M519.04,391.47 L525.04,391.47 L522.04,386.07 Z" fill="#2ca02c"/>
<path d="M527.33,399.06 L533.33,399.06 L530.33,393.66 Z" fill="#2ca02c"/>
<path d="M535.61,408.55 L541.61,408.55 L538.61,403.15 Z" fill="#2ca02c"/>
<path d="M543.9,410.98 L549.9,410.98 L546.9,405.58 Z" fill="#2ca02c"/>
<path d="M552.18,406.98 L558.18,406.98 L555.18,401.58 Z" fill="#2ca02c"/>
<path d="M560.46,406.73 L566.46,406.73 L563.46,401.33 Z" fill="#2ca02c"/>
<path d="M568.75,408.15 L574.75,408.15 L571.75,402.75 Z" fill="#2ca02c"/>
<path d="M577.03,407.14 L583.03,407.14 L580.03,401.74 Z" fill="#2ca02c"/>
<path d="M585.32,408.22 L591.32,408.22 L588.32,402.82 Z" fill="#2ca02c"/>
<path d="M593.6,413.13 L599.6,413.13 L596.6,407.73 Z" fill="#2ca02c"/>
<path d="M601.88,407.8 L607.88,407.8 L604.88,402.4 Z" fill="#2ca02c"/>
<path d="M610.17,411.84 L616.17,411.84 L613.17,406.44 Z" fill="#2ca02c"/>
<path d="M618.45,406.52 L624.45,406.52 L621.45,401.12 Z" fill="#2ca02c"/>
<polyline points="389.5,275.0 390.0,263.0 390.2,263.5 390.5,264.1 390.7,264.6 391.0,265.1 391.2,265.6 391.4,266.2 391.7,266.7 391.9,267.2 392.1,267.7 392.4,268.3 392.6,268.8 392.9,269.3 393.1,269.9 393.3,270.4 393.6,270.9 393.8,271.4 394.0,272.0 394.3,272.5 394.5,273.0 394.8,273.6 395.0,274.1 395.2,274.6 395.5,275.1 395.7,275.7 396.0,276.2 396.2,276.7 396.4,277.2 396.7,277.8 396.9,278.3 397.1,278.8 397.4,279.4 397.6,279.9 397.9,280.4 398.1,280.7 398.3,280.9 398.6,281.1 398.8,281.3 399.1,281.5 399.3,281.8 399.5,282.0 399.8,282.2 400.0,282.4 400.2,282.6 400.5,282.8 400.7,283.1 401.0,283.3 401.2,283.5 401.4,283.7 401.7,283.9 401.9,284.1 402.1,284.4 402.4,284.6 402.6,284.8 402.9,285.0 403.1,285.2 403.3,285.5 403.6,285.7 403.8,285.9 404.1,286.1 404.3,286.3 404.5,286.5 404.8,286.8 405.0,287.0 405.2,287.2 405.5,287.4 405.7,287.6 406.0,287.8 406.2,288.1 406.4,288.3 406.7,288.5 406.9,288.7 407.2,288.9 407.4,289.1 407.6,289.4 407.9,289.6 408.1,289.8 408.3,290.0 408.6,290.2 408.8,290.4 409.1,290.7 409.3,290.9 409.5,291.1 409.8,291.3 410.0,291.5 410.2,291.7 410.5,292.0 410.7,292.2 411.0,292.4 411.2,292.6 411.4,292.8 411.7,293.0 411.9,293.3 412.2,293.5 412.4,293.7 412.6,293.9 412.9,294.1 413.1,294.3 413.3,294.6 413.6,294.8 413.8,295.0 414.1,295.2 414.3,295.4 414.5,295.6 414.8,295.9 415.0,296.1 415.2,296.3 415.5,296.5 415.7,296.7 416.0,296.9 416.2,297.1 416.4,297.4 416.7,297.6 416.9,297.8 417.2,298.0 417.4,298.2 417.6,298.4 417.9,298.7 418.1,298.9 418.3,299.1 418.6,299.3 418.8,299.5 419.1,299.7 419.3,299.9 419.5,300.2 419.8,300.4 420.0,300.6 420.3,300.8 420.5,301.0 420.7,301.2 421.0,301.5 421.2,301.7 421.4,301.9 421.7,302.1 421.9,302.3 422.2,302.5 422.4,302.7 422.6,303.0 422.9,303.2 423.1,303.4 423.3,303.6 423.6,303.8 423.8,304.0 424.1,304.3 424.3,304.5 424.5,304.7 424.8,304.9 425.0,305.1 425.3,305.3 425.5,305.5 425.7,305.8 426.0,306.0 426.2,306.2 426.4,306.4 426.7,306.6 426.9,306.8 427.2,307.1 427.4,307.3 427.6,307.5 427.9,307.7 428.1,307.9 428.4,308.1 428.6,308.3 428.8,308.6 429.1,308.8 429.3,309.0 429.5,309.2 429.8,309.4 430.0,309.6 430.3,309.9 430.5,310.1 430.7,310.3 431.0,310.5 431.2,310.7 431.4,310.9 431.7,311.1 431.9,311.4 432.2,311.6 432.4,311.8 432.6,312.0 432.9,312.2 433.1,312.4 433.4,312.6 433.6,312.9 433.8,313.1 434.1,313.3 434.3,313.5 434.5,313.7 434.8,313.9 435.0,314.2 435.3,314.4 435.5,314.6 435.7,314.8 436.0,315.0 436.2,315.2 436.4,315.4 436.7,315.7 436.9,315.9 437.2,316.1 437.4,316.3 437.6,316.5 437.9,316.7 438.1,317.0 438.4,317.2 438.6,317.4 438.8,317.6 439.1,317.8 439.3,318.0 439.5,318.2 439.8,318.5 440.0,318.7 440.3,318.9 440.5,319.1 440.7,319.3 441.0,319.5 441.2,319.8 441.5,320.0 441.7,320.2 441.9,320.4 442.2,320.6 442.4,320.8 442.6,321.0 442.9,321.3 443.1,321.5 443.4,321.7 443.6,321.9 443.8,322.1 444.1,322.3 444.3,322.6 444.5,322.8 444.8,323.0 445.0,323.2 445.3,323.4 445.5,323.6 445.7,323.8 446.0,324.1 446.2,324.3 446.5,324.5 446.7,324.7 446.9,324.9 447.2,325.1 447.4,325.4 447.6,325.6 447.9,325.8 448.1,326.0 448.4,326.2 448.6,326.4 448.8,326.6 449.1,326.9 449.3,327.1 449.6,327.3 449.8,327.5 450.0,327.7 450.3,327.9 450.5,328.2 450.7,328.4 451.0,328.6 451.2,328.8 451.5,329.0 451.7,329.2 451.9,329.4 452.2,329.7 452.4,329.9 452.6,330.1 452.9,330.3 453.1,330.5 453.4,330.7 453.6,330.9 453.8,331.2 454.1,331.4 454.3,331.6 454.6,331.8 454.8,332.0 455.0,332.2 455.3,332.5 455.5,332.7 455.7,332.9 456.0,333.1 456.2,333.3 456.5,333.5 456.7,333.8 456.9,334.0 457.2,334.2 457.4,334.4 457.6,334.6 457.9,334.9 458.1,335.1 458.4,335.3 458.6,335.5 458.8,335.8 459.1,336.0 459.3,336.2 459.6,336.4 459.8,336.6 460.0,336.9 460.3,337.1 460.5,337.3 460.7,337.5 461.0,337.7 461.2,338.0 461.5,338.2 461.7,338.4 461.9,338.6 462.2,338.9 462.4,339.1 462.7,339.3 462.9,339.5 463.1,339.7 463.4,340.0 463.6,340.2 463.8,340.4 464.1,340.6 464.3,340.8 464.6,341.1 464.8,341.3 465.0,341.5 465.3,341.7 465.5,341.9 465.7,342.2 466.0,342.4 466.2,342.6 466.5,342.8 466.7,343.1 466.9,343.3 467.2,343.5 467.4,343.7 467.7,343.9 467.9,344.2 468.1,344.4 468.4,344.6 468.6,344.8 468.8,345.0 469.1,345.3 469.3,345.5 469.6,345.7 469.8,345.9 470.0,346.2 470.3,346.4 470.5,346.6 470.7,346.8 471.0,347.0 471.2,347.3 471.5,347.5 471.7,347.7 471.9,347.9 472.2,348.1 472.4,348.4 472.7,348.6 472.9,348.8 473.1,349.0 473.4,349.3 473.6,349.5 473.8,349.7 474.1,349.9 474.3,350.1 474.6,350.4 474.8,350.6 475.0,350.8 475.3,351.0 475.5,351.2 475.8,351.5 476.0,351.7 476.2,351.9 476.5,352.1 476.7,352.4 476.9,352.6 477.2,352.8 477.4,353.0 477.7,353.2 477.9,353.5 478.1,353.7 478.4,353.9 478.6,354.1 478.8,354.3 479.1,354.6 479.3,354.8 479.6,355.0 479.8,355.2 480.0,355.5 480.3,355.7 480.5,355.9 480.8,356.1 481.0,356.3 481.2,356.6 481.5,356.8 481.7,357.0 481.9,357.2 482.2,357.4 482.4,357.7 482.7,357.9 482.9,358.1 483.1,358.3 483.4,358.5 483.6,358.8 483.9,359.0 484.1,359.2 484.3,359.4 484.6,359.7 484.8,359.9 485.0,360.1 485.3,360.3 485.5,360.5 485.8,360.8 486.0,361.0 486.2,361.2 486.5,361.4 486.7,361.6 486.9,361.9 487.2,362.1 487.4,362.3 487.7,362.5 487.9,362.8 488.1,363.0 488.4,363.2 488.6,363.4 488.9,363.6 489.1,363.9 489.3,364.1 489.6,364.3 489.8,364.5 490.0,364.7 490.3,365.0 490.5,365.2 490.8,365.4 491.0,365.6 491.2,365.9 491.5,366.1 491.7,366.3 491.9,366.5 492.2,366.7 492.4,367.0 492.7,367.2 492.9,367.4 493.1,367.6 493.4,367.8 493.6,368.1 493.9,368.3 494.1,368.5 494.3,368.7 494.6,369.0 494.8,369.2 495.0,369.4 495.3,369.6 495.5,369.8 495.8,370.1 496.0,370.3 496.2,370.5 496.5,370.7 496.7,370.9 497.0,371.2 497.2,371.4 497.4,371.6 497.7,371.8 497.9,372.0 498.1,372.3 498.4,372.5 498.6,372.7 498.9,372.9 499.1,373.2 499.3,373.4 499.6,373.6 499.8,373.8 500.0,374.0 500.3,374.3 500.5,374.5 500.8,374.7 501.0,374.9 501.2,375.1 501.5,375.4 501.7,375.6 502.0,375.8 502.2,376.0 502.4,376.3 502.7,376.5 502.9,376.7 503.1,376.9 503.4,377.1 503.6,377.4 503.9,377.6 504.1,377.8 504.3,378.0 504.6,378.2 504.8,378.5 505.1,378.7 505.3,378.9 505.5,379.1 505.8,379.4 506.0,379.6 506.2,379.8 506.5,380.0 506.7,380.2 507.0,380.5 507.2,380.7 507.4,380.9 507.7,381.1 507.9,381.3 508.1,381.6 508.4,381.8 508.6,382.0 508.9,382.2 509.1,382.5 509.3,382.7 509.6,382.9 509.8,383.1 510.1,383.3 510.3,383.6 510.5,383.8 510.8,384.0 511.0,384.2 511.2,384.4 511.5,384.7 511.7,384.9 512.0,385.1 512.2,385.3 512.4,385.6 512.7,385.8 512.9,386.0 513.1,386.2 513.4,386.4 513.6,386.7 513.9,386.9 514.1,387.1 514.3,387.3 514.6,387.5 514.8,387.8 515.1,388.0 515.3,388.2 515.5,388.4 515.8,388.7 516.0,388.9 516.2,389.1 516.5,389.3 516.7,389.5 517.0,389.8 517.2,390.0 517.4,390.2 517.7,390.4 517.9,390.6 518.2,390.9 518.4,391.1 518.6,391.3 518.9,391.5 519.1,391.8 519.3,392.0 519.6,392.2 519.8,392.4 520.1,392.6 520.3,392.9 520.5,393.1 520.8,393.3 521.0,393.5 521.2,393.7 521.5,394.0 521.7,394.2 522.0,394.4 522.2,394.6 522.4,394.9 522.7,395.1 522.9,395.3 523.2,395.5 523.4,395.7 523.6,395.9 523.9,396.1 524.1,396.3 524.3,396.5 524.6,396.7 524.8,396.9 525.1,397.2 525.3,397.4 525.5,397.6 525.8,397.8 526.0,398.0 526.3,398.2 526.5,398.4 526.7,398.6 527.0,398.8 527.2,399.0 527.4,399.2 527.7,399.5 527.9,399.7 528.2,399.9 528.4,402.6 528.6,402.6 528.9,399.8 529.1,402.7 529.3,402.1 529.6,400.5 529.8,407.5 530.1,409.0 530.3,403.6 530.5,401.9 530.8,402.0 531.0,406.8 531.3,400.7 531.5,407.6 531.7,411.0 532.0,407.1 532.2,400.6 532.4,406.7 532.7,402.8 532.9,401.0 533.2,404.0 533.4,408.1 533.6,403.1 533.9,398.9 534.1,401.6 534.3,403.8 534.6,402.9 534.8,401.6 535.1,404.6 535.3,403.0 535.5,402.1 535.8,410.0 536.0,403.9 536.3,406.4 536.5,406.8 536.7,405.1 537.0,402.6 537.2,409.6 537.4,400.9 537.7,399.0 537.9,402.1 538.2,407.7 538.4,410.8 538.6,405.7 538.9,410.3 539.1,400.7 539.4,404.8 539.6,407.7 539.8,402.5 540.1,402.7 540.3,407.0 540.5,404.0 540.8,408.0 541.0,398.2 541.3,402.2 541.5,403.1 541.7,405.4 542.0,402.4 542.2,407.4 542.4,398.2 542.7,400.8 542.9,407.4 543.2,404.2 543.4,401.3 543.6,396.2 543.9,401.3 544.1,404.0 544.4,405.6 544.6,408.8 544.8,403.6 545.1,401.3 545.3,403.0 545.5,408.1 545.8,406.8 546.0,402.3 546.3,403.3 546.5,406.0 546.7,405.4 547.0,402.6 547.2,399.4 547.5,404.3 547.7,400.4 547.9,407.2 548.2,401.4 548.4,403.9 548.6,407.2 548.9,405.7 549.1,403.9 549.4,399.5 549.6,407.3 549.8,399.9 550.1,406.9 550.3,402.3 550.5,404.9 550.8,402.5 551.0,402.4 551.3,396.9 551.5,403.7 551.7,410.9 552.0,408.6 552.2,407.1 552.5,407.6 552.7,403.9 552.9,404.7 553.2,400.5 553.4,405.0 553.6,400.4 553.9,406.2 554.1,408.3 554.4,404.9 554.6,403.3 554.8,400.7 555.1,409.6 555.3,399.0 555.5,402.8 555.8,404.0 556.0,404.7 556.3,404.8 556.5,399.6 556.7,401.6 557.0,400.8 557.2,406.2 557.5,406.0 557.7,403.4 557.9,406.2 558.2,401.1 558.4,406.1 558.6,404.8 558.9,410.3 559.1,404.1 559.4,403.1 559.6,400.2 559.8,405.3 560.1,402.6 560.3,399.0 560.6,403.1 560.8,400.9 561.0,399.4 561.3,401.1 561.5,406.4 561.7,405.3 562.0,406.1 562.2,402.6 562.5,404.4 562.7,405.2 562.9,403.2 563.2,405.6 563.4,403.6 563.6,405.2 563.9,401.8 564.1,405.7 564.4,402.2 564.6,403.3 564.8,408.8 565.1,411.7 565.3,404.3 565.6,405.4 565.8,402.3 566.0,395.9 566.3,404.0 566.5,405.9 566.7,408.0 567.0,405.9 567.2,403.6 567.5,406.6 567.7,402.5 567.9,400.1 568.2,405.3 568.4,403.2 568.7,407.5 568.9,407.0 569.1,401.4 569.4,399.6 569.6,406.6 569.8,405.9 570.1,407.9 570.3,403.4 570.6,398.6 570.8,401.2 571.0,403.0 571.3,403.3 571.5,403.1 571.7,401.3 572.0,403.3 572.2,394.8 572.5,407.5 572.7,403.2 572.9,404.4 573.2,403.2 573.4,401.7 573.7,408.7 573.9,407.2 574.1,405.1 574.4,405.6 574.6,401.8 574.8,403.7 575.1,403.5 575.3,399.8 575.6,402.0 575.8,397.2 576.0,402.1 576.3,405.4 576.5,402.6 576.7,404.9 577.0,400.3 577.2,408.9 577.5,401.0 577.7,405.0 577.9,405.7 578.2,406.4 578.4,405.3 578.7,400.3 578.9,401.7 579.1,406.2 579.4,405.2 579.6,403.3 579.8,404.4 580.1,403.6 580.3,396.2 580.6,406.6 580.8,403.2 581.0,403.5 581.3,403.6 581.5,408.0 581.8,404.5 582.0,406.5 582.2,399.1 582.5,405.1 582.7,405.3 582.9,406.3 583.2,406.6 583.4,403.5 583.7,410.3 583.9,408.9 584.1,403.2 584.4,403.5 584.6,411.3 584.8,404.6 585.1,409.5 585.3,405.3 585.6,409.4 585.8,399.9 586.0,406.5 586.3,401.6 586.5,405.3 586.8,401.5 587.0,406.7 587.2,399.7 587.5,401.9 587.7,399.7 587.9,400.8 588.2,401.6 588.4,396.8 588.7,405.0 588.9,406.9 589.1,404.4 589.4,406.8 589.6,401.2 589.8,408.8 590.1,407.6 590.3,405.1 590.6,403.2 590.8,406.5 591.0,399.1 591.3,404.9 591.5,403.1 591.8,409.3 592.0,403.5 592.2,401.0 592.5,404.1 592.7,406.5 592.9,401.3 593.2,399.6 593.4,409.5 593.7,401.6 593.9,402.8 594.1,406.9 594.4,401.5 594.6,399.8 594.9,397.3 595.1,398.4 595.3,399.7 595.6,405.2 595.8,404.3 596.0,404.2 596.3,403.2 596.5,404.4 596.8,405.8 597.0,400.1 597.2,404.6 597.5,403.6 597.7,400.4 597.9,401.6 598.2,406.8 598.4,405.4 598.7,410.2 598.9,406.1 599.1,399.4 599.4,408.2 599.6,410.6 599.9,401.8 600.1,398.2 600.3,412.0 600.6,404.4 600.8,407.4 601.0,405.9 601.3,409.0 601.5,412.1 601.8,407.0 602.0,403.0 602.2,409.6 602.5,406.8 602.7,406.9 603.0,401.4 603.2,402.3 603.4,406.2 603.7,404.2 603.9,404.4 604.1,400.1 604.4,405.4 604.6,404.7 604.9,404.9 605.1,404.9 605.3,400.7 605.6,402.7 605.8,397.0 606.0,401.4 606.3,406.2 606.5,406.1 606.8,414.3 607.0,402.0 607.2,399.1 607.5,410.7 607.7,402.5 608.0,406.9 608.2,402.6 608.4,404.2 608.7,408.8 608.9,403.8 609.1,401.1 609.4,410.4 609.6,401.2 609.9,403.3 610.1,406.0 610.3,403.0 610.6,405.7 610.8,405.1 611.0,398.2 611.3,398.3 611.5,406.1 611.8,399.0 612.0,404.5 612.2,409.8 612.5,401.0 612.7,401.9 613.0,409.0 613.2,402.1 613.4,409.6 613.7,403.3 613.9,403.6 614.1,402.7 614.4,400.9 614.6,405.0 614.9,403.5 615.1,410.8 615.3,399.6 615.6,406.2 615.8,403.3 616.1,401.8 616.3,405.4 616.5,403.6 616.8,400.8 617.0,402.6 617.2,404.9 617.5,405.0 617.7,406.0 618.0,407.4 618.2,401.4 618.4,402.2 618.7,403.5 618.9,404.5 619.1,400.0 619.4,406.9 619.6,405.7 619.9,403.5 620.1,394.2 620.3,402.5 620.6,406.2 620.8,408.6 621.1,405.0 621.3,400.6 621.5,402.4 621.8,395.3 622.0,405.4 622.2,404.9 622.5,406.7 622.7,405.4 623.0,408.8 623.2,402.6 623.4,400.9 623.7,403.2 623.9,406.2 624.2,398.5 624.4,404.8 624.6,406.0 624.9,402.4 625.1,401.3 625.3,412.6 625.6,408.1 625.8,404.0 626.1,403.5 626.3,400.6 626.5,407.7 626.8,403.0 627.0,404.3 627.2,399.7 627.5,405.4 627.7,406.3" fill="none" stroke="#d62728" stroke-width="1.7" stroke-linejoin="round"/>
<path d="M388.55,272.2 h1.9 v1.85 h1.85 v1.9 h-1.85 v1.85 h-1.9 v-1.85 h-1.85 v-1.9 h1.85 Z" fill="#d62728"/>
<path d="M396.83,277.44 h1.9 v1.85 h1.85 v1.9 h-1.85 v1.85 h-1.9 v-1.85 h-1.85 v-1.9 h1.85 Z" fill="#d62728"/>
<path d="M405.12,285.13 h1.9 v1.85 h1.85 v1.9 h-1.85 v1.85 h-1.9 v-1.85 h-1.85 v-1.9 h1.85 Z" fill="#d62728"/>
<path d="M413.4,292.67 h1.9 v1.85 h1.85 v1.9 h-1.85 v1.85 h-1.9 v-1.85 h-1.85 v-1.9 h1.85 Z" fill="#d62728"/>
<path d="M421.69,300.16 h1.9 v1.85 h1.85 v1.9 h-1.85 v1.85 h-1.9 v-1.85 h-1.85 v-1.9 h1.85 Z" fill="#d62728"/>
<path d="M429.97,307.65 h1.9 v1.85 h1.85 v1.9 h-1.85 v1.85 h-1.9 v-1.85 h-1.85 v-1.9 h1.85 Z" fill="#d62728"/>
<path d="M438.25,315.14 h1.9 v1.85 h1.85 v1.9 h-1.85 v1.85 h-1.9 v-1.85 h-1.85 v-1.9 h1.85 Z" fill="#d62728"/>
<path d="M446.54,322.63 h1.9 v1.85 h1.85 v1.9 h-1.85 v1.85 h-1.9 v-1.85 h-1.85 v-1.9 h1.85 Z" fill="#d62728"/>
<path d="M454.82,330.11 h1.9 v1.85 h1.85 v1.9 h-1.85 v1.85 h-1.9 v-1.85 h-1.85 v-1.9 h1.85 Z" fill="#d62728"/>
<path d="M463.11,337.8 h1.9 v1.85 h1.85 v1.9 h-1.85 v1.85 h-1.9 v-1.85 h-1.85 v-1.9 h1.85 Z" fill="#d62728"/>
<path d="M471.39,345.5 h1.9 v1.85 h1.85 v1.9 h-1.85 v1.85 h-1.9 v-1.85 h-1.85 v-1.9 h1.85 Z" fill="#d62728"/>
<path d="M479.67,353.19 h1.9 v1.85 h1.85 v1.9 h-1.85 v1.85 h-1.9 v-1.85 h-1.85 v-1.9 h1.85 Z" fill="#d62728"/>
<path d="M487.96,360.89 h1.9 v1.85 h1.85 v1.9 h-1.85 v1.85 h-1.9 v-1.85 h-1.85 v-1.9 h1.85 Z" fill="#d62728"/>
<path d="M496.24,368.59 h1.9 v1.85 h1.85 v1.9 h-1.85 v1.85 h-1.9 v-1.85 h-1.85 v-1.9 h1.85 Z" fill="#d62728"/>
<path d="M504.53,376.28 h1.9 v1.85 h1.85 v1.9 h-1.85 v1.85 h-1.9 v-1.85 h-1.85 v-1.9 h1.85 Z" fill="#d62728"/>
<path d="M512.81,383.98 h1.9 v1.85 h1.85 v1.9 h-1.85 v1.85 h-1.9 v-1.85 h-1.85 v-1.9 h1.85 Z" fill="#d62728"/>
<path d="M521.09,391.68 h1.9 v1.85 h1.85 v1.9 h-1.85 v1.85 h-1.9 v-1.85 h-1.85 v-1.9 h1.85 Z" fill="#d62728"/>
<path d="M529.38,396.59 h1.9 v1.85 h1.85 v1.9 h-1.85 v1.85 h-1.9 v-1.85 h-1.85 v-1.9 h1.85 Z" fill="#d62728"/>
<path d="M537.66,405.04 h1.9 v1.85 h1.85 v1.9 h-1.85 v1.85 h-1.9 v-1.85 h-1.85 v-1.9 h1.85 Z" fill="#d62728"/>
<path d="M545.95,399.34 h1.9 v1.85 h1.85 v1.9 h-1.85 v1.85 h-1.9 v-1.85 h-1.85 v-1.9 h1.85 Z" fill="#d62728"/>
<path d="M554.23,401.22 h1.9 v1.85 h1.85 v1.9 h-1.85 v1.85 h-1.9 v-1.85 h-1.85 v-1.9 h1.85 Z" fill="#d62728"/>
<path d="M562.51,400.62 h1.9 v1.85 h1.85 v1.9 h-1.85 v1.85 h-1.9 v-1.85 h-1.85 v-1.9 h1.85 Z" fill="#d62728"/>
<path d="M570.8,396.97 h1.9 v1.85 h1.85 v1.9 h-1.85 v1.85 h-1.9 v-1.85 h-1.85 v-1.9 h1.85 Z" fill="#d62728"/>
<path d="M579.08,394.7 h1.9 v1.85 h1.85 v1.9 h-1.85 v1.85 h-1.9 v-1.85 h-1.85 v-1.9 h1.85 Z" fill="#d62728"/>
<path d="M587.37,402.23 h1.9 v1.85 h1.85 v1.9 h-1.85 v1.85 h-1.9 v-1.85 h-1.85 v-1.9 h1.85 Z" fill="#d62728"/>
<path d="M595.65,404.01 h1.9 v1.85 h1.85 v1.9 h-1.85 v1.85 h-1.9 v-1.85 h-1.85 v-1.9 h1.85 Z" fill="#d62728"/>
<path d="M603.93,399.07 h1.9 v1.85 h1.85 v1.9 h-1.85 v1.85 h-1.9 v-1.85 h-1.85 v-1.9 h1.85 Z" fill="#d62728"/>
<path d="M612.22,403.86 h1.9 v1.85 h1.85 v1.9 h-1.85 v1.85 h-1.9 v-1.85 h-1.85 v-1.9 h1.85 Z" fill="#d62728"/>
<path d="M620.5,400.12 h1.9 v1.85 h1.85 v1.9 h-1.85 v1.85 h-1.9 v-1.85 h-1.85 v-1.9 h1.85 Z" fill="#d62728"/>
<polyline points="389.5,276.0 390.0,263.5 390.2,263.7 390.5,263.8 390.7,264.0 391.0,264.1 391.2,264.3 391.4,264.4 391.7,264.6 391.9,264.8 392.1,264.9 392.4,265.1 392.6,265.2 392.9,265.4 393.1,265.5 393.3,265.7 393.6,265.9 393.8,266.0 394.0,266.2 394.3,266.3 394.5,266.5 394.8,266.6 395.0,266.8 395.2,266.9 395.5,267.1 395.7,267.3 396.0,267.4 396.2,267.6 396.4,267.7 396.7,267.9 396.9,268.0 397.1,268.2 397.4,268.4 397.6,268.5 397.9,268.7 398.1,268.8 398.3,268.8 398.6,268.9 398.8,269.0 399.1,269.1 399.3,269.2 399.5,269.3 399.8,269.3 400.0,269.4 400.2,269.5 400.5,269.6 400.7,269.7 401.0,269.7 401.2,269.8 401.4,269.9 401.7,270.0 401.9,270.1 402.1,270.1 402.4,270.2 402.6,270.3 402.9,270.4 403.1,270.5 403.3,270.6 403.6,270.6 403.8,270.7 404.1,270.8 404.3,270.9 404.5,271.0 404.8,271.0 405.0,271.1 405.2,271.2 405.5,271.3 405.7,271.4 406.0,271.5 406.2,271.5 406.4,271.6 406.7,271.7 406.9,271.8 407.2,271.9 407.4,271.9 407.6,272.0 407.9,272.1 408.1,272.2 408.3,272.3 408.6,272.3 408.8,272.4 409.1,272.5 409.3,272.6 409.5,272.7 409.8,272.8 410.0,272.8 410.2,272.9 410.5,273.0 410.7,273.1 411.0,273.2 411.2,273.2 411.4,273.3 411.7,273.4 411.9,273.5 412.2,273.6 412.4,273.6 412.6,273.7 412.9,273.8 413.1,273.9 413.3,274.0 413.6,274.1 413.8,274.1 414.1,274.2 414.3,274.3 414.5,274.4 414.8,274.4 415.0,274.5 415.2,274.5 415.5,274.6 415.7,274.7 416.0,274.7 416.2,274.8 416.4,274.8 416.7,274.9 416.9,274.9 417.2,275.0 417.4,275.0 417.6,275.1 417.9,275.1 418.1,275.2 418.3,275.3 418.6,275.3 418.8,275.4 419.1,275.4 419.3,275.5 419.5,275.5 419.8,275.6 420.0,275.6 420.3,275.7 420.5,275.7 420.7,275.8 421.0,275.9 421.2,275.9 421.4,276.0 421.7,276.0 421.9,276.1 422.2,276.1 422.4,276.2 422.6,276.2 422.9,276.3 423.1,276.3 423.3,276.4 423.6,276.4 423.8,276.5 424.1,276.6 424.3,276.6 424.5,276.7 424.8,276.7 425.0,276.8 425.3,276.8 425.5,276.9 425.7,276.9 426.0,277.0 426.2,277.0 426.4,277.1 426.7,277.2 426.9,277.2 427.2,277.3 427.4,277.3 427.6,277.4 427.9,277.4 428.1,277.5 428.4,277.5 428.6,277.6 428.8,277.6 429.1,277.7 429.3,277.8 429.5,277.8 429.8,277.9 430.0,277.9 430.3,278.0 430.5,278.0 430.7,278.1 431.0,278.1 431.2,278.2 431.4,278.2 431.7,278.3 431.9,278.3 432.2,278.4 432.4,278.5 432.6,278.5 432.9,278.6 433.1,278.6 433.4,278.7 433.6,278.7 433.8,278.8 434.1,278.8 434.3,278.9 434.5,278.9 434.8,279.0 435.0,279.1 435.3,279.1 435.5,279.2 435.7,279.2 436.0,279.3 436.2,279.3 436.4,279.4 436.7,279.4 436.9,279.5 437.2,279.5 437.4,279.6 437.6,279.7 437.9,279.7 438.1,279.8 438.4,279.8 438.6,279.9 438.8,279.9 439.1,280.0 439.3,280.0 439.5,280.1 439.8,280.1 440.0,280.2 440.3,280.2 440.5,280.3 440.7,280.4 441.0,280.4 441.2,280.5 441.5,280.5 441.7,280.6 441.9,280.6 442.2,280.7 442.4,280.7 442.6,280.8 442.9,280.8 443.1,280.9 443.4,281.0 443.6,281.0 443.8,281.1 444.1,281.1 444.3,281.2 444.5,281.2 444.8,281.3 445.0,281.3 445.3,281.4 445.5,281.4 445.7,281.5 446.0,281.6 446.2,281.6 446.5,281.7 446.7,281.7 446.9,281.8 447.2,281.8 447.4,281.9 447.6,281.9 447.9,282.0 448.1,282.0 448.4,282.0 448.6,282.1 448.8,282.1 449.1,282.2 449.3,282.2 449.6,282.2 449.8,282.3 450.0,282.3 450.3,282.4 450.5,282.4 450.7,282.4 451.0,282.5 451.2,282.5 451.5,282.6 451.7,282.6 451.9,282.6 452.2,282.7 452.4,282.7 452.6,282.8 452.9,282.8 453.1,282.8 453.4,282.9 453.6,282.9 453.8,283.0 454.1,283.0 454.3,283.0 454.6,283.1 454.8,283.1 455.0,283.2 455.3,283.2 455.5,283.2 455.7,283.3 456.0,283.3 456.2,283.4 456.5,283.4 456.7,283.4 456.9,283.5 457.2,283.5 457.4,283.6 457.6,283.6 457.9,283.6 458.1,283.7 458.4,283.7 458.6,283.8 458.8,283.8 459.1,283.8 459.3,283.9 459.6,283.9 459.8,284.0 460.0,284.0 460.3,284.0 460.5,284.1 460.7,284.1 461.0,284.2 461.2,284.2 461.5,284.2 461.7,284.3 461.9,284.3 462.2,284.3 462.4,284.4 462.7,284.4 462.9,284.5 463.1,284.5 463.4,284.5 463.6,284.6 463.8,284.6 464.1,284.7 464.3,284.7 464.6,284.7 464.8,284.8 465.0,284.8 465.3,284.9 465.5,284.9 465.7,284.9 466.0,285.0 466.2,285.0 466.5,285.1 466.7,285.1 466.9,285.1 467.2,285.2 467.4,285.2 467.7,285.3 467.9,285.3 468.1,285.3 468.4,285.4 468.6,285.4 468.8,285.5 469.1,285.5 469.3,285.5 469.6,285.6 469.8,285.6 470.0,285.7 470.3,285.7 470.5,285.7 470.7,285.8 471.0,285.8 471.2,285.9 471.5,285.9 471.7,285.9 471.9,286.0 472.2,286.0 472.4,286.1 472.7,286.1 472.9,286.1 473.1,286.2 473.4,286.2 473.6,286.3 473.8,286.3 474.1,286.3 474.3,286.4 474.6,286.4 474.8,286.5 475.0,286.5 475.3,286.5 475.5,286.6 475.8,286.6 476.0,286.7 476.2,286.7 476.5,286.7 476.7,286.8 476.9,286.8 477.2,286.9 477.4,286.9 477.7,286.9 477.9,287.0 478.1,287.0 478.4,287.1 478.6,287.1 478.8,287.1 479.1,287.2 479.3,287.2 479.6,287.3 479.8,287.3 480.0,287.3 480.3,287.4 480.5,287.4 480.8,287.5 481.0,287.5 481.2,287.5 481.5,287.6 481.7,287.6 481.9,287.7 482.2,287.7 482.4,287.7 482.7,287.8 482.9,287.8 483.1,287.8 483.4,287.9 483.6,287.9 483.9,288.0 484.1,288.0 484.3,288.0 484.6,288.1 484.8,288.1 485.0,288.2 485.3,288.2 485.5,288.2 485.8,288.3 486.0,288.3 486.2,288.4 486.5,288.4 486.7,288.4 486.9,288.5 487.2,288.5 487.4,288.6 487.7,288.6 487.9,288.6 488.1,288.7 488.4,288.7 488.6,288.8 488.9,288.8 489.1,288.8 489.3,288.9 489.6,288.9 489.8,289.0 490.0,289.0 490.3,289.0 490.5,289.1 490.8,289.1 491.0,289.2 491.2,289.2 491.5,289.2 491.7,289.3 491.9,289.3 492.2,289.4 492.4,289.4 492.7,289.4 492.9,289.5 493.1,289.5 493.4,289.6 493.6,289.6 493.9,289.6 494.1,289.7 494.3,289.7 494.6,289.8 494.8,289.8 495.0,289.8 495.3,289.9 495.5,289.9 495.8,290.0 496.0,290.0 496.2,290.0 496.5,290.1 496.7,290.1 497.0,290.2 497.2,290.2 497.4,290.2 497.7,290.3 497.9,290.3 498.1,290.4 498.4,290.4 498.6,290.4 498.9,290.5 499.1,290.5 499.3,290.6 499.6,290.6 499.8,290.6 500.0,290.7 500.3,290.7 500.5,290.8 500.8,290.8 501.0,290.8 501.2,290.9 501.5,290.9 501.7,291.0 502.0,291.0 502.2,291.0 502.4,291.1 502.7,291.1 502.9,291.2 503.1,291.2 503.4,291.2 503.6,291.3 503.9,291.3 504.1,291.3 504.3,291.4 504.6,291.4 504.8,291.5 505.1,291.5 505.3,291.5 505.5,291.6 505.8,291.6 506.0,291.6 506.2,291.7 506.5,291.7 506.7,291.7 507.0,291.8 507.2,291.8 507.4,291.8 507.7,291.8 507.9,291.9 508.1,291.9 508.4,291.9 508.6,291.9 508.9,292.0 509.1,292.0 509.3,292.0 509.6,292.0 509.8,292.1 510.1,292.1 510.3,292.1 510.5,292.2 510.8,292.2 511.0,292.2 511.2,292.2 511.5,292.3 511.7,292.3 512.0,292.3 512.2,292.3 512.4,292.4 512.7,292.4 512.9,292.4 513.1,292.4 513.4,292.5 513.6,292.5 513.9,292.5 514.1,292.6 514.3,292.6 514.6,292.6 514.8,292.6 515.1,292.7 515.3,292.7 515.5,292.7 515.8,292.7 516.0,292.8 516.2,292.8 516.5,292.8 516.7,292.8 517.0,292.9 517.2,292.9 517.4,292.9 517.7,293.0 517.9,293.0 518.2,293.0 518.4,293.0 518.6,293.1 518.9,293.1 519.1,293.1 519.3,293.1 519.6,293.2 519.8,293.2 520.1,293.2 520.3,293.2 520.5,293.3 520.8,293.3 521.0,293.3 521.2,293.4 521.5,293.4 521.7,293.4 522.0,293.4 522.2,293.5 522.4,293.5 522.7,293.5 522.9,293.5 523.2,293.6 523.4,293.6 523.6,293.6 523.9,293.6 524.1,293.7 524.3,293.7 524.6,293.7 524.8,293.8 525.1,293.8 525.3,293.8 525.5,293.8 525.8,293.9 526.0,293.9 526.3,293.9 526.5,293.9 526.7,294.0 527.0,294.0 527.2,294.0 527.4,294.0 527.7,294.1 527.9,294.1 528.2,294.1 528.4,294.2 528.6,294.2 528.9,294.2 529.1,294.2 529.3,294.3 529.6,294.3 529.8,294.3 530.1,294.3 530.3,294.4 530.5,294.4 530.8,294.4 531.0,294.5 531.3,294.5 531.5,294.6 531.7,294.6 532.0,294.6 532.2,294.7 532.4,294.7 532.7,294.8 532.9,294.8 533.2,294.8 533.4,294.9 533.6,294.9 533.9,295.0 534.1,295.0 534.3,295.0 534.6,295.1 534.8,295.1 535.1,295.2 535.3,295.2 535.5,295.2 535.8,295.3 536.0,295.3 536.3,295.4 536.5,295.4 536.7,295.4 537.0,295.5 537.2,295.5 537.4,295.6 537.7,295.6 537.9,295.6 538.2,295.7 538.4,295.7 538.6,295.8 538.9,295.8 539.1,295.8 539.4,295.9 539.6,295.9 539.8,296.0 540.1,296.0 540.3,296.0 540.5,296.1 540.8,296.1 541.0,296.2 541.3,296.2 541.5,296.2 541.7,296.3 542.0,296.3 542.2,296.4 542.4,296.4 542.7,296.4 542.9,296.5 543.2,296.5 543.4,296.6 543.6,296.6 543.9,296.6 544.1,296.7 544.4,296.7 544.6,296.8 544.8,296.8 545.1,296.8 545.3,296.9 545.5,296.9 545.8,297.0 546.0,297.0 546.3,297.1 546.5,297.1 546.7,297.1 547.0,297.2 547.2,297.2 547.5,297.3 547.7,297.3 547.9,297.3 548.2,297.4 548.4,297.4 548.6,297.5 548.9,297.5 549.1,297.5 549.4,297.6 549.6,297.6 549.8,297.7 550.1,297.7 550.3,297.7 550.5,297.8 550.8,297.8 551.0,297.9 551.3,297.9 551.5,297.9 551.7,298.0 552.0,298.0 552.2,298.1 552.5,298.1 552.7,298.1 552.9,298.2 553.2,298.2 553.4,298.3 553.6,298.3 553.9,298.3 554.1,298.4 554.4,298.4 554.6,298.5 554.8,298.5 555.1,298.5 555.3,298.6 555.5,298.6 555.8,298.7 556.0,298.7 556.3,298.7 556.5,298.8 556.7,298.8 557.0,298.9 557.2,298.9 557.5,298.9 557.7,299.0 557.9,299.0 558.2,299.1 558.4,299.1 558.6,299.1 558.9,299.2 559.1,299.2 559.4,299.2 559.6,299.3 559.8,299.3 560.1,299.4 560.3,299.4 560.6,299.4 560.8,299.5 561.0,299.5 561.3,299.6 561.5,299.6 561.7,299.6 562.0,299.7 562.2,299.7 562.5,299.7 562.7,299.8 562.9,299.8 563.2,299.9 563.4,299.9 563.6,299.9 563.9,300.0 564.1,300.0 564.4,300.1 564.6,300.1 564.8,300.1 565.1,300.2 565.3,300.2 565.6,300.2 565.8,300.3 566.0,300.3 566.3,300.4 566.5,300.4 566.7,300.4 567.0,300.5 567.2,300.5 567.5,300.6 567.7,300.6 567.9,300.6 568.2,300.7 568.4,300.7 568.7,300.7 568.9,300.8 569.1,300.8 569.4,300.9 569.6,300.9 569.8,300.9 570.1,301.0 570.3,301.0 570.6,301.1 570.8,301.1 571.0,301.1 571.3,301.2 571.5,301.2 571.7,301.2 572.0,301.3 572.2,301.3 572.5,301.4 572.7,301.4 572.9,301.4 573.2,301.5 573.4,301.5 573.7,301.6 573.9,301.6 574.1,301.6 574.4,301.7 574.6,301.7 574.8,301.7 575.1,301.8 575.3,301.8 575.6,301.9 575.8,301.9 576.0,301.9 576.3,302.0 576.5,302.0 576.7,302.1 577.0,302.1 577.2,302.1 577.5,302.2 577.7,302.2 577.9,302.2 578.2,302.3 578.4,302.3 578.7,302.4 578.9,302.4 579.1,302.4 579.4,302.5 579.6,302.5 579.8,302.6 580.1,302.6 580.3,302.6 580.6,302.7 580.8,302.7 581.0,302.7 581.3,302.8 581.5,302.8 581.8,302.9 582.0,302.9 582.2,302.9 582.5,303.0 582.7,303.0 582.9,303.1 583.2,303.1 583.4,303.1 583.7,303.2 583.9,303.2 584.1,303.2 584.4,303.3 584.6,303.3 584.8,303.4 585.1,303.4 585.3,303.4 585.6,303.5 585.8,303.5 586.0,303.6 586.3,303.6 586.5,303.6 586.8,303.7 587.0,303.7 587.2,303.7 587.5,303.8 587.7,303.8 587.9,303.9 588.2,303.9 588.4,303.9 588.7,304.0 588.9,304.0 589.1,304.1 589.4,304.1 589.6,304.1 589.8,304.2 590.1,304.2 590.3,304.2 590.6,304.3 590.8,304.3 591.0,304.4 591.3,304.4 591.5,304.4 591.8,304.5 592.0,304.5 592.2,304.6 592.5,304.6 592.7,304.6 592.9,304.7 593.2,304.7 593.4,304.7 593.7,304.8 593.9,304.8 594.1,304.9 594.4,304.9 594.6,304.9 594.9,305.0 595.1,305.0 595.3,305.1 595.6,305.1 595.8,305.1 596.0,305.2 596.3,305.2 596.5,305.2 596.8,305.3 597.0,305.3 597.2,305.4 597.5,305.4 597.7,305.4 597.9,305.5 598.2,305.5 598.4,305.6 598.7,305.6 598.9,305.6 599.1,305.7 599.4,305.7 599.6,305.7 599.9,305.8 600.1,305.8 600.3,305.9 600.6,305.9 600.8,305.9 601.0,306.0 601.3,306.0 601.5,306.1 601.8,306.1 602.0,306.1 602.2,306.2 602.5,306.2 602.7,306.2 603.0,306.3 603.2,306.3 603.4,306.4 603.7,306.4 603.9,306.4 604.1,306.5 604.4,306.5 604.6,306.6 604.9,306.6 605.1,306.6 605.3,306.7 605.6,306.7 605.8,306.7 606.0,306.8 606.3,306.8 606.5,306.9 606.8,306.9 607.0,306.9 607.2,307.0 607.5,307.0 607.7,307.1 608.0,307.1 608.2,307.1 608.4,307.2 608.7,307.2 608.9,307.2 609.1,307.3 609.4,307.3 609.6,307.4 609.9,307.4 610.1,307.4 610.3,307.5 610.6,307.5 610.8,307.6 611.0,307.6 611.3,307.6 611.5,307.7 611.8,307.7 612.0,307.7 612.2,307.8 612.5,307.8 612.7,307.9 613.0,307.9 613.2,307.9 613.4,308.0 613.7,308.0 613.9,308.1 614.1,308.1 614.4,308.1 614.6,308.2 614.9,308.2 615.1,308.2 615.3,308.3 615.6,308.3 615.8,308.4 616.1,308.4 616.3,308.4 616.5,308.5 616.8,308.5 617.0,308.6 617.2,308.6 617.5,308.6 617.7,308.7 618.0,308.7 618.2,308.7 618.4,308.8 618.7,308.8 618.9,308.9 619.1,308.9 619.4,308.9 619.6,309.0 619.9,309.0 620.1,309.1 620.3,309.1 620.6,309.1 620.8,309.2 621.1,309.2 621.3,309.3 621.5,309.3 621.8,309.3 622.0,309.4 622.2,309.4 622.5,309.4 622.7,309.5 623.0,309.5 623.2,309.5 623.4,309.6 623.7,309.6 623.9,309.6 624.2,309.7 624.4,309.7 624.6,309.7 624.9,309.8 625.1,309.8 625.3,309.8 625.6,309.9 625.8,309.9 626.1,309.9 626.3,310.0 626.5,310.0 626.8,310.0 627.0,310.1 627.2,310.1 627.5,310.1 627.7,310.2" fill="none" stroke="#9467bd" stroke-width="1.7" stroke-linejoin="round"/>
<circle cx="389.5" cy="276" r="2.65" fill="#9467bd"/>
<circle cx="397.78" cy="268.62" r="2.65" fill="#9467bd"/>
<circle cx="406.07" cy="271.49" r="2.65" fill="#9467bd"/>
<circle cx="414.35" cy="274.32" r="2.65" fill="#9467bd"/>
<circle cx="422.64" cy="276.23" r="2.65" fill="#9467bd"/>
<circle cx="430.92" cy="278.12" r="2.65" fill="#9467bd"/>
<circle cx="439.2" cy="280.01" r="2.65" fill="#9467bd"/>
<circle cx="447.49" cy="281.9" r="2.65" fill="#9467bd"/>
<circle cx="455.77" cy="283.28" r="2.65" fill="#9467bd"/>
<circle cx="464.06" cy="284.66" r="2.65" fill="#9467bd"/>
<circle cx="472.34" cy="286.05" r="2.65" fill="#9467bd"/>
<circle cx="480.62" cy="287.43" r="2.65" fill="#9467bd"/>
<circle cx="488.91" cy="288.81" r="2.65" fill="#9467bd"/>
<circle cx="497.19" cy="290.2" r="2.65" fill="#9467bd"/>
<circle cx="505.48" cy="291.58" r="2.65" fill="#9467bd"/>
<circle cx="513.76" cy="292.51" r="2.65" fill="#9467bd"/>
<circle cx="522.04" cy="293.44" r="2.65" fill="#9467bd"/>
<circle cx="530.33" cy="294.37" r="2.65" fill="#9467bd"/>
<circle cx="538.61" cy="295.76" r="2.65" fill="#9467bd"/>
<circle cx="546.9" cy="297.16" r="2.65" fill="#9467bd"/>
<circle cx="555.18" cy="298.56" r="2.65" fill="#9467bd"/>
<circle cx="563.46" cy="299.91" r="2.65" fill="#9467bd"/>
<circle cx="571.75" cy="301.24" r="2.65" fill="#9467bd"/>
<circle cx="580.03" cy="302.58" r="2.65" fill="#9467bd"/>
<circle cx="588.32" cy="303.92" r="2.65" fill="#9467bd"/>
<circle cx="596.6" cy="305.26" r="2.65" fill="#9467bd"/>
<circle cx="604.88" cy="306.6" r="2.65" fill="#9467bd"/>
<circle cx="613.17" cy="307.94" r="2.65" fill="#9467bd"/>
<circle cx="621.45" cy="309.28" r="2.65" fill="#9467bd"/>
<polyline points="389.5,274.4 390.0,268.0 390.2,268.2 390.5,268.5 390.7,268.7 391.0,269.0 391.2,269.2 391.4,269.4 391.7,269.7 391.9,269.9 392.1,270.2 392.4,270.4 392.6,270.7 392.9,270.9 393.1,271.1 393.3,271.4 393.6,271.6 393.8,271.9 394.0,272.1 394.3,272.3 394.5,272.6 394.8,272.8 395.0,273.1 395.2,273.3 395.5,273.5 395.7,273.8 396.0,274.0 396.2,274.3 396.4,274.5 396.7,274.8 396.9,275.0 397.1,275.2 397.4,275.5 397.6,275.7 397.9,276.0 398.1,276.1 398.3,276.3 398.6,276.5 398.8,276.6 399.1,276.8 399.3,276.9 399.5,277.1 399.8,277.3 400.0,277.4 400.2,277.6 400.5,277.7 400.7,277.9 401.0,278.1 401.2,278.2 401.4,278.4 401.7,278.5 401.9,278.7 402.1,278.9 402.4,279.0 402.6,279.2 402.9,279.3 403.1,279.5 403.3,279.7 403.6,279.8 403.8,280.0 404.1,280.1 404.3,280.3 404.5,280.5 404.8,280.6 405.0,280.8 405.2,280.9 405.5,281.1 405.7,281.3 406.0,281.4 406.2,281.6 406.4,281.7 406.7,281.9 406.9,282.1 407.2,282.2 407.4,282.4 407.6,282.5 407.9,282.7 408.1,282.9 408.3,283.0 408.6,283.2 408.8,283.4 409.1,283.5 409.3,283.7 409.5,283.8 409.8,284.0 410.0,284.2 410.2,284.3 410.5,284.5 410.7,284.6 411.0,284.8 411.2,285.0 411.4,285.1 411.7,285.3 411.9,285.4 412.2,285.6 412.4,285.8 412.6,285.9 412.9,286.1 413.1,286.2 413.3,286.4 413.6,286.6 413.8,286.7 414.1,286.9 414.3,287.0 414.5,287.2 414.8,287.4 415.0,287.5 415.2,287.7 415.5,287.8 415.7,288.0 416.0,288.2 416.2,288.3 416.4,288.5 416.7,288.6 416.9,288.8 417.2,289.0 417.4,289.1 417.6,289.3 417.9,289.4 418.1,289.6 418.3,289.8 418.6,289.9 418.8,290.1 419.1,290.2 419.3,290.4 419.5,290.6 419.8,290.7 420.0,290.9 420.3,291.1 420.5,291.2 420.7,291.4 421.0,291.5 421.2,291.7 421.4,291.9 421.7,292.0 421.9,292.2 422.2,292.3 422.4,292.5 422.6,292.7 422.9,292.8 423.1,292.9 423.3,293.1 423.6,293.2 423.8,293.4 424.1,293.5 424.3,293.6 424.5,293.8 424.8,293.9 425.0,294.0 425.3,294.2 425.5,294.3 425.7,294.5 426.0,294.6 426.2,294.7 426.4,294.9 426.7,295.0 426.9,295.2 427.2,295.3 427.4,295.4 427.6,295.6 427.9,295.7 428.1,295.8 428.4,296.0 428.6,296.1 428.8,296.3 429.1,296.4 429.3,296.5 429.5,296.7 429.8,296.8 430.0,296.9 430.3,297.1 430.5,297.2 430.7,297.4 431.0,297.5 431.2,297.6 431.4,297.8 431.7,297.9 431.9,298.1 432.2,298.2 432.4,298.3 432.6,298.5 432.9,298.6 433.1,298.7 433.4,298.9 433.6,299.0 433.8,299.2 434.1,299.3 434.3,299.4 434.5,299.6 434.8,299.7 435.0,299.9 435.3,300.0 435.5,300.1 435.7,300.3 436.0,300.4 436.2,300.5 436.4,300.7 436.7,300.8 436.9,301.0 437.2,301.1 437.4,301.2 437.6,301.4 437.9,301.5 438.1,301.7 438.4,301.8 438.6,301.9 438.8,302.1 439.1,302.2 439.3,302.3 439.5,302.5 439.8,302.6 440.0,302.8 440.3,302.9 440.5,303.0 440.7,303.2 441.0,303.3 441.2,303.4 441.5,303.6 441.7,303.7 441.9,303.9 442.2,304.0 442.4,304.1 442.6,304.3 442.9,304.4 443.1,304.6 443.4,304.7 443.6,304.8 443.8,305.0 444.1,305.1 444.3,305.2 444.5,305.4 444.8,305.5 445.0,305.7 445.3,305.8 445.5,305.9 445.7,306.1 446.0,306.2 446.2,306.4 446.5,306.5 446.7,306.6 446.9,306.8 447.2,306.9 447.4,307.0 447.6,307.2 447.9,307.3 448.1,307.5 448.4,307.6 448.6,307.7 448.8,307.9 449.1,308.0 449.3,308.1 449.6,308.3 449.8,308.4 450.0,308.6 450.3,308.7 450.5,308.8 450.7,309.0 451.0,309.1 451.2,309.3 451.5,309.4 451.7,309.5 451.9,309.7 452.2,309.8 452.4,309.9 452.6,310.1 452.9,310.2 453.1,310.4 453.4,310.5 453.6,310.6 453.8,310.8 454.1,310.9 454.3,311.1 454.6,311.2 454.8,311.3 455.0,311.5 455.3,311.6 455.5,311.7 455.7,311.9 456.0,312.0 456.2,312.2 456.5,312.3 456.7,312.4 456.9,312.6 457.2,312.7 457.4,312.9 457.6,313.0 457.9,313.1 458.1,313.3 458.4,313.4 458.6,313.5 458.8,313.7 459.1,313.8 459.3,314.0 459.6,314.1 459.8,314.2 460.0,314.4 460.3,314.5 460.5,314.6 460.7,314.8 461.0,314.9 461.2,315.1 461.5,315.2 461.7,315.3 461.9,315.5 462.2,315.6 462.4,315.8 462.7,315.9 462.9,316.0 463.1,316.2 463.4,316.3 463.6,316.4 463.8,316.6 464.1,316.7 464.3,316.9 464.6,317.0 464.8,317.1 465.0,317.3 465.3,317.4 465.5,317.6 465.7,317.7 466.0,317.8 466.2,318.0 466.5,318.1 466.7,318.2 466.9,318.4 467.2,318.5 467.4,318.7 467.7,318.8 467.9,318.9 468.1,319.1 468.4,319.2 468.6,319.4 468.8,319.5 469.1,319.6 469.3,319.8 469.6,319.9 469.8,320.0 470.0,320.2 470.3,320.3 470.5,320.5 470.7,320.6 471.0,320.7 471.2,320.9 471.5,321.0 471.7,321.1 471.9,321.3 472.2,321.4 472.4,321.6 472.7,321.7 472.9,321.8 473.1,322.0 473.4,322.1 473.6,322.3 473.8,322.4 474.1,322.5 474.3,322.7 474.6,322.8 474.8,322.9 475.0,323.1 475.3,323.2 475.5,323.4 475.8,323.5 476.0,323.6 476.2,323.8 476.5,323.9 476.7,324.1 476.9,324.2 477.2,324.3 477.4,324.5 477.7,324.6 477.9,324.7 478.1,324.9 478.4,325.0 478.6,325.2 478.8,325.3 479.1,325.4 479.3,325.6 479.6,325.7 479.8,325.9 480.0,326.0 480.3,326.1 480.5,326.3 480.8,326.4 481.0,326.5 481.2,326.7 481.5,326.8 481.7,327.0 481.9,327.1 482.2,327.2 482.4,327.4 482.7,327.5 482.9,327.6 483.1,327.8 483.4,327.9 483.6,328.1 483.9,328.2 484.1,328.3 484.3,328.5 484.6,328.6 484.8,328.8 485.0,328.9 485.3,329.0 485.5,329.2 485.8,329.3 486.0,329.4 486.2,329.6 486.5,329.7 486.7,329.9 486.9,330.0 487.2,330.1 487.4,330.3 487.7,330.4 487.9,330.6 488.1,330.7 488.4,330.8 488.6,331.0 488.9,331.1 489.1,331.2 489.3,331.4 489.6,331.5 489.8,331.7 490.0,331.8 490.3,331.9 490.5,332.1 490.8,332.2 491.0,332.4 491.2,332.5 491.5,332.6 491.7,332.8 491.9,332.9 492.2,333.0 492.4,333.2 492.7,333.3 492.9,333.5 493.1,333.6 493.4,333.7 493.6,333.9 493.9,334.0 494.1,334.1 494.3,334.3 494.6,334.4 494.8,334.6 495.0,334.7 495.3,334.8 495.5,335.0 495.8,335.1 496.0,335.3 496.2,335.4 496.5,335.5 496.7,335.7 497.0,335.8 497.2,335.9 497.4,336.1 497.7,336.2 497.9,336.4 498.1,336.5 498.4,336.6 498.6,336.7 498.9,336.9 499.1,337.0 499.3,337.1 499.6,337.3 499.8,337.4 500.0,337.5 500.3,337.7 500.5,337.8 500.8,337.9 501.0,338.0 501.2,338.2 501.5,338.3 501.7,338.4 502.0,338.6 502.2,338.7 502.4,338.8 502.7,339.0 502.9,339.1 503.1,339.2 503.4,339.3 503.6,339.5 503.9,339.6 504.1,339.7 504.3,339.9 504.6,340.0 504.8,340.1 505.1,340.3 505.3,340.4 505.5,340.5 505.8,340.6 506.0,340.8 506.2,340.9 506.5,341.0 506.7,341.2 507.0,341.3 507.2,341.4 507.4,341.6 507.7,341.7 507.9,341.8 508.1,341.9 508.4,342.1 508.6,342.2 508.9,342.3 509.1,342.5 509.3,342.6 509.6,342.7 509.8,342.9 510.1,343.0 510.3,343.1 510.5,343.3 510.8,343.4 511.0,343.5 511.2,343.6 511.5,343.8 511.7,343.9 512.0,344.0 512.2,344.2 512.4,344.3 512.7,344.4 512.9,344.6 513.1,344.7 513.4,344.8 513.6,344.9 513.9,345.1 514.1,345.2 514.3,345.3 514.6,345.5 514.8,345.6 515.1,345.8 515.3,345.9 515.5,346.0 515.8,346.2 516.0,346.3 516.2,346.4 516.5,346.6 516.7,346.7 517.0,346.9 517.2,347.0 517.4,347.1 517.7,347.3 517.9,347.4 518.2,347.6 518.4,347.7 518.6,347.8 518.9,348.0 519.1,348.1 519.3,348.2 519.6,348.4 519.8,348.5 520.1,348.7 520.3,348.8 520.5,348.9 520.8,349.1 521.0,349.2 521.2,349.4 521.5,349.5 521.7,349.6 522.0,349.8 522.2,349.9 522.4,350.0 522.7,350.2 522.9,350.3 523.2,350.5 523.4,350.6 523.6,350.7 523.9,350.9 524.1,351.0 524.3,351.2 524.6,351.3 524.8,351.4 525.1,351.6 525.3,351.7 525.5,351.8 525.8,352.0 526.0,352.1 526.3,352.3 526.5,352.4 526.7,352.5 527.0,352.7 527.2,352.8 527.4,353.0 527.7,353.1 527.9,353.2 528.2,353.4 528.4,353.5 528.6,353.6 528.9,353.8 529.1,353.9 529.3,354.1 529.6,354.2 529.8,354.3 530.1,354.5 530.3,354.6 530.5,354.8 530.8,354.9 531.0,355.0 531.3,355.2 531.5,355.3 531.7,355.4 532.0,355.6 532.2,355.7 532.4,355.9 532.7,356.0 532.9,356.1 533.2,356.3 533.4,356.4 533.6,356.6 533.9,356.7 534.1,356.8 534.3,357.0 534.6,357.1 534.8,357.2 535.1,357.4 535.3,357.5 535.5,357.7 535.8,357.8 536.0,357.9 536.3,358.1 536.5,358.2 536.7,358.4 537.0,358.5 537.2,358.6 537.4,358.8 537.7,358.9 537.9,359.0 538.2,359.2 538.4,359.3 538.6,359.5 538.9,359.6 539.1,359.7 539.4,359.9 539.6,360.0 539.8,360.2 540.1,360.3 540.3,360.4 540.5,360.6 540.8,360.7 541.0,360.8 541.3,361.0 541.5,361.1 541.7,361.3 542.0,361.4 542.2,361.5 542.4,361.7 542.7,361.8 542.9,362.0 543.2,362.1 543.4,362.2 543.6,362.4 543.9,362.5 544.1,362.6 544.4,362.8 544.6,362.9 544.8,363.1 545.1,363.2 545.3,363.3 545.5,363.5 545.8,363.6 546.0,363.7 546.3,363.9 546.5,364.0 546.7,364.2 547.0,364.3 547.2,364.4 547.5,364.6 547.7,364.7 547.9,364.9 548.2,365.0 548.4,365.1 548.6,365.3 548.9,365.4 549.1,365.5 549.4,365.7 549.6,365.8 549.8,366.0 550.1,366.1 550.3,366.2 550.5,366.4 550.8,366.5 551.0,366.7 551.3,366.8 551.5,366.9 551.7,367.1 552.0,367.2 552.2,367.3 552.5,367.5 552.7,367.6 552.9,367.8 553.2,367.9 553.4,368.0 553.6,368.2 553.9,368.3 554.1,368.5 554.4,368.6 554.6,368.7 554.8,368.9 555.1,369.0 555.3,369.1 555.5,369.3 555.8,369.4 556.0,369.6 556.3,369.7 556.5,369.8 556.7,370.0 557.0,370.1 557.2,370.3 557.5,370.4 557.7,370.5 557.9,370.7 558.2,370.8 558.4,370.9 558.6,371.1 558.9,371.2 559.1,371.4 559.4,371.5 559.6,371.6 559.8,371.8 560.1,371.9 560.3,372.1 560.6,372.2 560.8,372.3 561.0,372.5 561.3,372.6 561.5,372.7 561.7,372.9 562.0,373.0 562.2,373.2 562.5,373.3 562.7,373.4 562.9,373.6 563.2,373.7 563.4,373.9 563.6,374.0 563.9,374.1 564.1,374.3 564.4,374.4 564.6,374.5 564.8,374.7 565.1,374.8 565.3,375.0 565.6,375.1 565.8,375.2 566.0,375.4 566.3,375.5 566.5,375.7 566.7,375.8 567.0,375.9 567.2,376.1 567.5,376.2 567.7,376.3 567.9,376.5 568.2,376.6 568.4,376.8 568.7,376.9 568.9,377.0 569.1,377.2 569.4,377.3 569.6,377.5 569.8,377.6 570.1,377.7 570.3,377.9 570.6,378.0 570.8,378.1 571.0,378.3 571.3,378.4 571.5,378.6 571.7,378.7 572.0,378.8 572.2,379.0 572.5,379.1 572.7,379.3 572.9,379.4 573.2,379.5 573.4,379.7 573.7,379.8 573.9,379.9 574.1,380.1 574.4,380.2 574.6,380.4 574.8,380.5 575.1,380.6 575.3,380.8 575.6,380.9 575.8,381.1 576.0,381.2 576.3,381.3 576.5,381.5 576.7,381.6 577.0,381.7 577.2,381.9 577.5,382.0 577.7,382.2 577.9,382.3 578.2,382.4 578.4,382.6 578.7,382.7 578.9,382.9 579.1,383.0 579.4,383.1 579.6,383.3 579.8,383.4 580.1,383.5 580.3,383.7 580.6,383.8 580.8,384.0 581.0,384.1 581.3,384.2 581.5,384.4 581.8,384.5 582.0,384.7 582.2,384.8 582.5,384.9 582.7,385.1 582.9,385.2 583.2,385.3 583.4,385.5 583.7,385.6 583.9,385.8 584.1,385.9 584.4,386.0 584.6,386.2 584.8,386.3 585.1,386.5 585.3,386.6 585.6,386.7 585.8,386.9 586.0,387.0 586.3,387.1 586.5,387.3 586.8,387.4 587.0,387.6 587.2,387.7 587.5,387.8 587.7,388.0 587.9,388.1 588.2,388.3 588.4,388.4 588.7,388.5 588.9,388.7 589.1,388.8 589.4,388.9 589.6,389.1 589.8,389.2 590.1,389.3 590.3,389.5 590.6,389.6 590.8,389.7 591.0,389.8 591.3,390.0 591.5,390.1 591.8,390.2 592.0,390.4 592.2,390.5 592.5,390.6 592.7,390.8 592.9,390.9 593.2,391.0 593.4,391.1 593.7,391.3 593.9,391.4 594.1,391.5 594.4,391.7 594.6,391.8 594.9,391.9 595.1,392.1 595.3,392.2 595.6,392.3 595.8,392.4 596.0,392.6 596.3,392.7 596.5,392.8 596.8,393.0 597.0,393.1 597.2,393.2 597.5,393.3 597.7,393.4 597.9,393.5 598.2,393.6 598.4,393.7 598.7,393.8 598.9,393.9 599.1,394.0 599.4,394.2 599.6,394.3 599.9,394.4 600.1,394.5 600.3,394.6 600.6,394.7 600.8,394.8 601.0,394.9 601.3,395.0 601.5,395.1 601.8,395.2 602.0,395.3 602.2,395.4 602.5,395.5 602.7,395.6 603.0,395.7 603.2,395.8 603.4,395.9 603.7,396.0 603.9,396.2 604.1,396.3 604.4,396.4 604.6,396.5 604.9,396.6 605.1,396.7 605.3,396.8 605.6,396.9 605.8,397.1 606.0,397.3 606.3,397.5 606.5,397.8 606.8,398.0 607.0,398.2 607.2,398.4 607.5,398.6 607.7,398.9 608.0,399.1 608.2,399.3 608.4,399.5 608.7,399.8 608.9,400.0 609.1,400.2 609.4,400.4 609.6,400.6 609.9,400.9 610.1,403.6 610.3,406.7 610.6,406.4 610.8,403.3 611.0,407.4 611.3,408.3 611.5,399.3 611.8,406.1 612.0,407.9 612.2,407.2 612.5,403.5 612.7,406.8 613.0,408.8 613.2,406.7 613.4,406.6 613.7,399.5 613.9,409.5 614.1,403.2 614.4,401.9 614.6,407.2 614.9,399.3 615.1,407.3 615.3,405.6 615.6,400.1 615.8,411.5 616.1,404.0 616.3,404.5 616.5,408.4 616.8,403.8 617.0,407.9 617.2,396.0 617.5,403.0 617.7,403.9 618.0,406.9 618.2,409.4 618.4,401.9 618.7,402.2 618.9,403.8 619.1,402.5 619.4,409.0 619.6,399.6 619.9,402.7 620.1,412.7 620.3,406.9 620.6,400.4 620.8,404.3 621.1,405.2 621.3,408.4 621.5,410.8 621.8,404.2 622.0,410.7 622.2,403.9 622.5,403.8 622.7,398.2 623.0,409.1 623.2,408.4 623.4,402.0 623.7,401.4 623.9,403.3 624.2,406.0 624.4,402.7 624.6,406.8 624.9,403.4 625.1,410.6 625.3,409.4 625.6,403.6 625.8,400.9 626.1,401.8 626.3,404.5 626.5,409.2 626.8,401.9 627.0,405.9 627.2,402.8 627.5,408.9 627.7,402.4" fill="none" stroke="#8c564b" stroke-width="1.7" stroke-linejoin="round"/>
<path d="M391.88,275.77 L389.5,277.15 L387.12,275.77 L387.12,273.02 L389.5,271.65 L391.88,273.02 Z" fill="#8c564b"/>
<path d="M400.17,277.26 L397.78,278.63 L395.4,277.26 L395.4,274.51 L397.78,273.13 L400.17,274.51 Z" fill="#8c564b"/>
<path d="M408.45,282.88 L406.07,284.25 L403.69,282.88 L403.69,280.13 L406.07,278.75 L408.45,280.13 Z" fill="#8c564b"/>
<path d="M416.73,288.45 L414.35,289.83 L411.97,288.45 L411.97,285.7 L414.35,284.33 L416.73,285.7 Z" fill="#8c564b"/>
<path d="M425.02,294.03 L422.64,295.41 L420.25,294.03 L420.25,291.28 L422.64,289.91 L425.02,291.28 Z" fill="#8c564b"/>
<path d="M433.3,298.85 L430.92,300.22 L428.54,298.85 L428.54,296.1 L430.92,294.72 L433.3,296.1 Z" fill="#8c564b"/>
<path d="M441.59,303.66 L439.2,305.03 L436.82,303.66 L436.82,300.91 L439.2,299.53 L441.59,300.91 Z" fill="#8c564b"/>
<path d="M449.87,308.47 L447.49,309.84 L445.11,308.47 L445.11,305.72 L447.49,304.34 L449.87,305.72 Z" fill="#8c564b"/>
<path d="M458.15,313.28 L455.77,314.65 L453.39,313.28 L453.39,310.53 L455.77,309.15 L458.15,310.53 Z" fill="#8c564b"/>
<path d="M466.44,318.08 L464.06,319.46 L461.67,318.08 L461.67,315.33 L464.06,313.96 L466.44,315.33 Z" fill="#8c564b"/>
<path d="M474.72,322.89 L472.34,324.27 L469.96,322.89 L469.96,320.14 L472.34,318.77 L474.72,320.14 Z" fill="#8c564b"/>
<path d="M483.01,327.7 L480.62,329.08 L478.24,327.7 L478.24,324.95 L480.62,323.58 L483.01,324.95 Z" fill="#8c564b"/>
<path d="M491.29,332.51 L488.91,333.89 L486.53,332.51 L486.53,329.76 L488.91,328.39 L491.29,329.76 Z" fill="#8c564b"/>
<path d="M499.57,337.32 L497.19,338.7 L494.81,337.32 L494.81,334.57 L497.19,333.2 L499.57,334.57 Z" fill="#8c564b"/>
<path d="M507.86,341.87 L505.48,343.24 L503.09,341.87 L503.09,339.12 L505.48,337.74 L507.86,339.12 Z" fill="#8c564b"/>
<path d="M516.14,346.39 L513.76,347.76 L511.38,346.39 L511.38,343.64 L513.76,342.26 L516.14,343.64 Z" fill="#8c564b"/>
<path d="M524.43,351.19 L522.04,352.57 L519.66,351.19 L519.66,348.44 L522.04,347.07 L524.43,348.44 Z" fill="#8c564b"/>
<path d="M532.71,356.01 L530.33,357.38 L527.95,356.01 L527.95,353.26 L530.33,351.88 L532.71,353.26 Z" fill="#8c564b"/>
<path d="M540.99,360.82 L538.61,362.19 L536.23,360.82 L536.23,358.07 L538.61,356.69 L540.99,358.07 Z" fill="#8c564b"/>
<path d="M549.28,365.63 L546.9,367.01 L544.51,365.63 L544.51,362.88 L546.9,361.51 L549.28,362.88 Z" fill="#8c564b"/>
<path d="M557.56,370.45 L555.18,371.82 L552.8,370.45 L552.8,367.7 L555.18,366.32 L557.56,367.7 Z" fill="#8c564b"/>
<path d="M565.85,375.26 L563.46,376.64 L561.08,375.26 L561.08,372.51 L563.46,371.14 L565.85,372.51 Z" fill="#8c564b"/>
<path d="M574.13,380.08 L571.75,381.45 L569.37,380.08 L569.37,377.33 L571.75,375.95 L574.13,377.33 Z" fill="#8c564b"/>
<path d="M582.41,384.89 L580.03,386.26 L577.65,384.89 L577.65,382.14 L580.03,380.76 L582.41,382.14 Z" fill="#8c564b"/>
<path d="M590.7,389.7 L588.32,391.08 L585.93,389.7 L585.93,386.95 L588.32,385.58 L590.7,386.95 Z" fill="#8c564b"/>
<path d="M598.98,394.26 L596.6,395.63 L594.22,394.26 L594.22,391.51 L596.6,390.13 L598.98,391.51 Z" fill="#8c564b"/>
<path d="M607.27,397.96 L604.88,399.33 L602.5,397.96 L602.5,395.21 L604.88,393.83 L607.27,395.21 Z" fill="#8c564b"/>
<path d="M615.55,401.8 L613.17,403.18 L610.79,401.8 L610.79,399.05 L613.17,397.68 L615.55,399.05 Z" fill="#8c564b"/>
<path d="M623.83,402.23 L621.45,403.6 L619.07,402.23 L619.07,399.48 L621.45,398.1 L623.83,399.48 Z" fill="#8c564b"/>
</g>
<line x1="638.8" y1="250.1" x2="638.8" y2="420.8" stroke="#858585" stroke-width="1.6" />
<line x1="377.7" y1="250.7" x2="638.8" y2="250.7" stroke="#363636" stroke-width="1.25" />
<line x1="377.7" y1="420.2" x2="638.8" y2="420.2" stroke="#363636" stroke-width="1.25" />
<line x1="377.7" y1="250.1" x2="377.7" y2="420.8" stroke="#363636" stroke-width="1.25" />
<line x1="389.5" y1="420.2" x2="389.5" y2="423.4" stroke="#363636" stroke-width="1" />
<line x1="449.05" y1="420.2" x2="449.05" y2="423.4" stroke="#363636" stroke-width="1" />
<line x1="508.6" y1="420.2" x2="508.6" y2="423.4" stroke="#363636" stroke-width="1" />
<line x1="568.15" y1="420.2" x2="568.15" y2="423.4" stroke="#363636" stroke-width="1" />
<line x1="627.7" y1="420.2" x2="627.7" y2="423.4" stroke="#363636" stroke-width="1" />
<line x1="374.5" y1="267.1" x2="377.7" y2="267.1" stroke="#363636" stroke-width="1" />
<line x1="374.5" y1="293.65" x2="377.7" y2="293.65" stroke="#363636" stroke-width="1" />
<line x1="374.5" y1="320.2" x2="377.7" y2="320.2" stroke="#363636" stroke-width="1" />
<line x1="374.5" y1="346.75" x2="377.7" y2="346.75" stroke="#363636" stroke-width="1" />
<line x1="374.5" y1="373.3" x2="377.7" y2="373.3" stroke="#363636" stroke-width="1" />
<line x1="374.5" y1="399.85" x2="377.7" y2="399.85" stroke="#363636" stroke-width="1" />
<text x="389.5" y="434" font-size="11" font-family="Liberation Sans" font-style="normal" text-anchor="middle" fill="#4a4a4a" >0</text>
<text x="449.05" y="434" font-size="11" font-family="Liberation Sans" font-style="normal" text-anchor="middle" fill="#4a4a4a" >500</text>
<text x="508.6" y="434" font-size="11" font-family="Liberation Sans" font-style="normal" text-anchor="middle" fill="#4a4a4a" >1000</text>
<text x="568.15" y="434" font-size="11" font-family="Liberation Sans" font-style="normal" text-anchor="middle" fill="#4a4a4a" >1500</text>
<text x="627.7" y="434" font-size="11" font-family="Liberation Sans" font-style="normal" text-anchor="middle" fill="#4a4a4a" >2000</text>
<text x="367" y="271.8" font-size="11" font-family="Liberation Sans" font-style="normal" text-anchor="end" fill="#4a4a4a" textLength="11.6" lengthAdjust="spacingAndGlyphs" >10</text>
<text x="368" y="267.5" font-size="7.8" font-family="Liberation Sans" font-style="normal" text-anchor="start" fill="#707070" textLength="3.8" lengthAdjust="spacingAndGlyphs" >2</text>
<text x="365.6" y="298.35" font-size="11" font-family="Liberation Sans" font-style="normal" text-anchor="end" fill="#4a4a4a" textLength="11.6" lengthAdjust="spacingAndGlyphs" >10</text>
<text x="371" y="294.05" font-size="7.8" font-family="Liberation Sans" font-style="normal" text-anchor="end" fill="#707070" textLength="2.25" lengthAdjust="spacingAndGlyphs" >1</text>
<line x1="366.3" y1="291.25" x2="369.2" y2="291.25" stroke="#dddddd" stroke-width="0.8" />
<text x="363.8" y="324.9" font-size="11" font-family="Liberation Sans" font-style="normal" text-anchor="end" fill="#4a4a4a" textLength="11.6" lengthAdjust="spacingAndGlyphs" >10</text>
<text x="371.8" y="320.6" font-size="7.8" font-family="Liberation Sans" font-style="normal" text-anchor="end" fill="#707070" textLength="3.69" lengthAdjust="spacingAndGlyphs" >4</text>
<line x1="363.9" y1="317.8" x2="366.8" y2="317.8" stroke="#dddddd" stroke-width="0.8" />
<text x="363.8" y="351.45" font-size="11" font-family="Liberation Sans" font-style="normal" text-anchor="end" fill="#4a4a4a" textLength="11.6" lengthAdjust="spacingAndGlyphs" >10</text>
<text x="371.8" y="347.15" font-size="7.8" font-family="Liberation Sans" font-style="normal" text-anchor="end" fill="#707070" textLength="3.69" lengthAdjust="spacingAndGlyphs" >7</text>
<line x1="363.9" y1="344.35" x2="366.8" y2="344.35" stroke="#dddddd" stroke-width="0.8" />
<text x="359" y="378" font-size="11" font-family="Liberation Sans" font-style="normal" text-anchor="end" fill="#4a4a4a" textLength="11.6" lengthAdjust="spacingAndGlyphs" >10</text>
<text x="372" y="373.7" font-size="7.8" font-family="Liberation Sans" font-style="normal" text-anchor="end" fill="#707070" textLength="7.44" lengthAdjust="spacingAndGlyphs" >10</text>
<line x1="360.3" y1="370.9" x2="363.2" y2="370.9" stroke="#dddddd" stroke-width="0.8" />
<text x="359" y="404.55" font-size="11" font-family="Liberation Sans" font-style="normal" text-anchor="end" fill="#4a4a4a" textLength="11.6" lengthAdjust="spacingAndGlyphs" >10</text>
<text x="372" y="400.25" font-size="7.8" font-family="Liberation Sans" font-style="normal" text-anchor="end" fill="#707070" textLength="7.44" lengthAdjust="spacingAndGlyphs" >13</text>
<line x1="360.3" y1="397.45" x2="363.2" y2="397.45" stroke="#dddddd" stroke-width="0.8" />
<text x="507.9" y="447.7" font-size="11.3" font-family="Liberation Sans" font-style="normal" text-anchor="middle" fill="#4a4a4a" textLength="109.5" lengthAdjust="spacingAndGlyphs" >Number of iterations</text>
<text transform="translate(338.8,332.6) rotate(-90)" font-size="11.3" font-family="Liberation Sans" text-anchor="middle" fill="#4a4a4a">Distance to <tspan font-family="Liberation Serif" font-style="italic">w</tspan><tspan font-family="Liberation Sans" font-size="9.5" dy="-4.2">*</tspan></text>
<rect x="525.4" y="255.1" width="108.8" height="84.6" rx="2.5" fill="#ffffff" fill-opacity="0.8" stroke="#d9d9d9" stroke-width="1"/>
<line x1="528.3" y1="262.3" x2="548.1" y2="262.3" stroke="#1f77b4" stroke-width="1.4" />
<path d="M538.2,259.93 L538.76,261.53 L540.46,261.57 L539.1,262.59 L539.6,264.22 L538.2,263.25 L536.8,264.22 L537.3,262.59 L535.94,261.57 L537.64,261.53 Z" fill="#1f77b4"/>
<text x="555" y="265.5" font-size="9" font-family="Liberation Sans" font-style="normal" text-anchor="start" fill="#444444" textLength="58.7" lengthAdjust="spacingAndGlyphs" >MEG (optimal)</text>
<line x1="528.3" y1="275.95" x2="548.1" y2="275.95" stroke="#ff7f0e" stroke-width="1.4" />
<path d="M535.35,273.67 L541.05,273.67 L538.2,278.8 Z" fill="#ff7f0e"/>
<text x="555" y="279.15" font-size="9" font-family="Liberation Sans" font-style="normal" text-anchor="start" fill="#444444" textLength="48.4" lengthAdjust="spacingAndGlyphs" >GD (theory)</text>
<line x1="528.3" y1="289.6" x2="548.1" y2="289.6" stroke="#2ca02c" stroke-width="1.4" />
<path d="M535.35,291.88 L541.05,291.88 L538.2,286.75 Z" fill="#2ca02c"/>
<text x="555" y="292.8" font-size="9" font-family="Liberation Sans" font-style="normal" text-anchor="start" fill="#444444" textLength="68" lengthAdjust="spacingAndGlyphs" >GD (grid search)</text>
<line x1="528.3" y1="303.25" x2="548.1" y2="303.25" stroke="#d62728" stroke-width="1.4" />
<path d="M537.3,300.59 h1.8 v1.76 h1.76 v1.8 h-1.76 v1.76 h-1.8 v-1.76 h-1.76 v-1.8 h1.76 Z" fill="#d62728"/>
<text x="555" y="306.45" font-size="9" font-family="Liberation Sans" font-style="normal" text-anchor="start" fill="#444444" textLength="75.4" lengthAdjust="spacingAndGlyphs" >GDM (grid search)</text>
<line x1="528.3" y1="316.9" x2="548.1" y2="316.9" stroke="#9467bd" stroke-width="1.4" />
<circle cx="538.2" cy="316.9" r="2.52" fill="#9467bd"/>
<text x="555" y="320.1" font-size="9" font-family="Liberation Sans" font-style="normal" text-anchor="start" fill="#444444" textLength="47.8" lengthAdjust="spacingAndGlyphs" >EG (theory)</text>
<line x1="528.3" y1="330.55" x2="548.1" y2="330.55" stroke="#8c564b" stroke-width="1.4" />
<path d="M540.22,331.72 L538.2,332.89 L536.18,331.72 L536.18,329.38 L538.2,328.21 L540.22,329.38 Z" fill="#8c564b"/>
<text x="555" y="333.75" font-size="9" font-family="Liberation Sans" font-style="normal" text-anchor="start" fill="#444444" textLength="67.5" lengthAdjust="spacingAndGlyphs" >EG (grid search)</text>
<text x="413.6" y="245.1" font-size="14.6" font-family="Liberation Serif" font-style="italic" text-anchor="start" fill="#202020" textLength="10.6" lengthAdjust="spacingAndGlyphs" >A</text>
<path d="M436.4,236.8 L432.6,236.8 C430.4,236.8 428.8,238.8 428.8,241.2 C428.8,243.6 430.4,245.6 432.6,245.6 L436.4,245.6" fill="none" stroke="#202020" stroke-width="1.1"/>
<line x1="429.2" y1="241.2" x2="436.2" y2="241.2" stroke="#555555" stroke-width="0.75" />
<text x="440.2" y="245.1" font-size="14.2" font-family="Liberation Serif" font-style="italic" text-anchor="start" fill="#3a3a3a" textLength="11.6" lengthAdjust="spacingAndGlyphs" >R</text>
<text x="453.8" y="239.5" font-size="9.6" font-family="Liberation Serif" font-style="normal" text-anchor="start" fill="#202020" textLength="45" lengthAdjust="spacingAndGlyphs" >200 × 200</text>
<text x="500.3" y="245.1" font-size="14" font-family="Liberation Serif" font-style="normal" text-anchor="start" fill="#202020" >,</text>
<text x="506.4" y="245.1" font-size="14.6" font-family="Liberation Serif" font-style="italic" text-anchor="start" fill="#202020" textLength="10.2" lengthAdjust="spacingAndGlyphs" >μ</text>
<text x="521" y="245.1" font-size="12" font-family="Liberation Sans" font-style="normal" text-anchor="start" fill="#202020" textLength="7.6" lengthAdjust="spacingAndGlyphs" >=</text>
<text x="533.4" y="245.1" font-size="13" font-family="Liberation Sans" font-style="normal" text-anchor="start" fill="#202020" textLength="12" lengthAdjust="spacingAndGlyphs" >1,</text>
<text x="550.5" y="245.1" font-size="14.6" font-family="Liberation Serif" font-style="italic" text-anchor="start" fill="#202020" textLength="12.4" lengthAdjust="spacingAndGlyphs" >L</text>
<text x="565" y="245.1" font-size="12" font-family="Liberation Sans" font-style="normal" text-anchor="start" fill="#202020" textLength="7.6" lengthAdjust="spacingAndGlyphs" >=</text>
<text x="576.8" y="245.1" font-size="13" font-family="Liberation Sans" font-style="normal" text-anchor="start" fill="#202020" textLength="26.6" lengthAdjust="spacingAndGlyphs" >200</text>
</svg></body></html>
